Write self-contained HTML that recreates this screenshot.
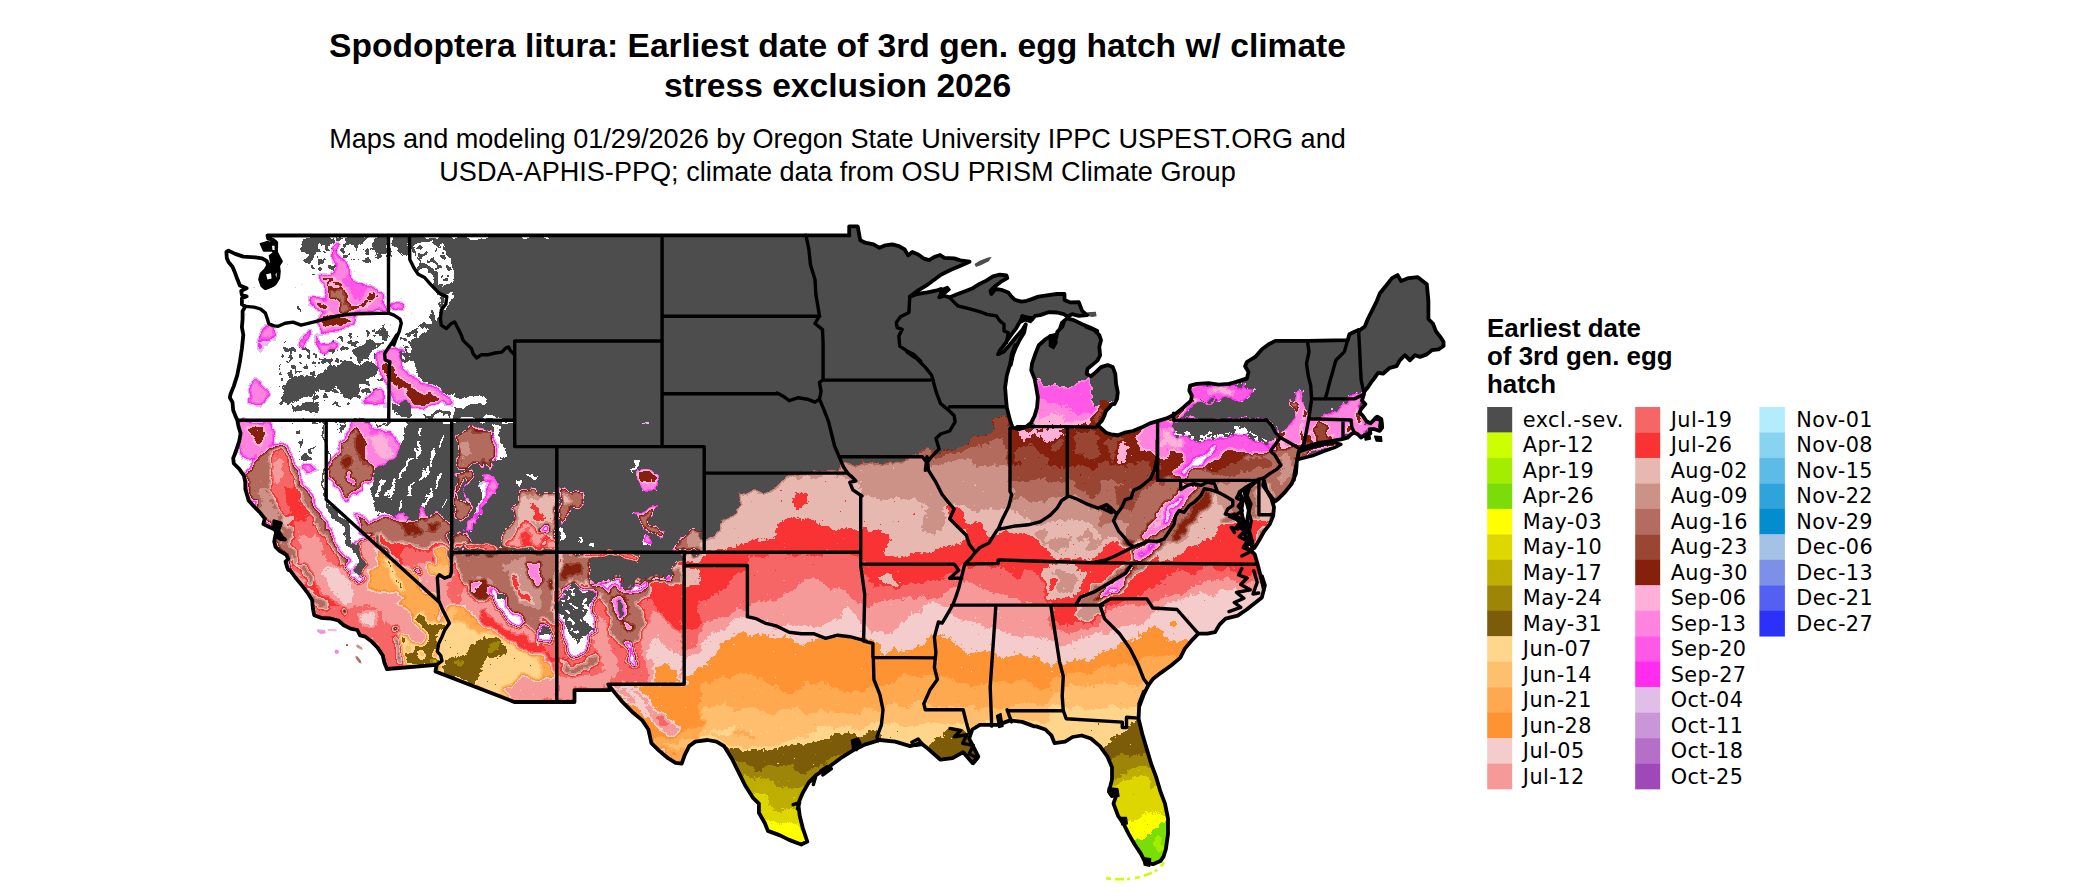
<!DOCTYPE html>
<html lang="en"><head><meta charset="utf-8">
<title>Spodoptera litura: Earliest date of 3rd gen. egg hatch w/ climate stress exclusion 2026</title>
<style>
html,body{margin:0;padding:0;background:#fff;}
body{width:2100px;height:892px;overflow:hidden;position:relative;font-family:"Liberation Sans",sans-serif;}
svg{position:absolute;left:0;top:0;display:block;}
.title{font:bold 33.58px "Liberation Sans",sans-serif;fill:#000;text-anchor:middle;}
.sub{font:27.1px "Liberation Sans",sans-serif;fill:#000;text-anchor:middle;}
.lt{font:bold 25.9px "Liberation Sans",sans-serif;fill:#000;}
.lab{font:20.8px "DejaVu Sans","Liberation Sans",sans-serif;fill:#000;letter-spacing:0.45px;}
</style></head>
<body>
<svg width="2100" height="892" viewBox="0 0 2100 892">
<rect width="2100" height="892" fill="#fff"/>
<text class="title" x="837.5" y="56.6">Spodoptera litura: Earliest date of 3rd gen. egg hatch w/ climate</text>
<text class="title" x="837.5" y="96.8">stress exclusion 2026</text>
<text class="sub" x="837.5" y="148.2">Maps and modeling 01/29/2026 by Oregon State University IPPC USPEST.ORG and</text>
<text class="sub" x="837.5" y="180.7">USDA-APHIS-PPQ; climate data from OSU PRISM Climate Group</text>
<defs><clipPath id="us"><path d="M267.5,235.5 L849.5,235.4 L849.2,235.5 L849.2,226.4 L857.7,226.4 L860.2,240.2 L865.2,242.7 L873.6,244.4 L879.5,247.8 L885.4,245.3 L892.1,244.4 L898.9,246.1 L904.7,249.5 L908.1,255.4 L912.3,252.0 L918.2,254.5 L924.1,258.7 L929.1,260.1 L934.2,257.0 L940.1,255.0 L944.3,257.9 L954.3,258.4 L960.2,260.4 L969.5,261.7 L961.1,265.4 L951.0,269.7 L940.9,274.7 L934.2,279.7 L927.4,284.8 L919.0,289.8 L909.8,296.6 L917.4,294.0 L927.4,292.4 L935.9,290.7 L940.9,289.0 L941.2,293.2 L939.2,297.4 L944.3,295.7 L949.3,297.4 L957.7,294.0 L964.4,291.5 L972.8,288.2 L979.6,283.9 L986.3,280.6 L993.0,276.4 L999.8,274.7 L1006.5,275.5 L1007.3,278.1 L1001.4,281.4 L994.7,286.5 L990.5,290.7 L991.3,294.0 L995.5,289.0 L1001.4,289.8 L1008.2,292.4 L1011.5,296.6 L1014.9,299.9 L1021.6,301.6 L1026.7,300.8 L1031.7,299.1 L1038.4,296.6 L1046.8,295.4 L1056.9,294.0 L1064.5,294.0 L1064.5,299.9 L1070.4,302.4 L1078.8,302.1 L1080.5,306.6 L1082.2,310.9 L1087.2,315.1 L1078.8,315.9 L1072.1,314.2 L1067.9,316.7 L1063.7,314.2 L1056.9,312.5 L1048.5,312.2 L1040.1,315.1 L1035.1,315.9 L1031.7,320.1 L1026.7,317.6 L1022.5,315.9 L1020.8,320.1 L1016.6,327.7 L1011.5,334.4 L1007.3,340.3 L1004.0,345.3 L999.8,350.4 L998.1,354.2 L1004.0,351.5 L1009.8,344.8 L1016.6,336.4 L1022.5,329.7 L1025.8,324.3 L1024.1,332.7 L1019.9,339.4 L1015.7,347.8 L1012.4,356.3 L1010.7,365.0 L1015.2,345.2 L1011.9,353.6 L1010.2,363.7 L1006.8,375.5 L1005.1,387.3 L1006.0,399.0 L1006.8,407.4 L1008.5,414.2 L1010.2,420.9 L1012.7,427.6 L1019.4,429.3 L1026.2,426.8 L1031.2,422.6 L1034.6,415.9 L1037.1,407.4 L1037.9,397.4 L1036.2,387.3 L1034.6,378.9 L1031.2,370.4 L1032.0,363.7 L1035.4,353.6 L1038.8,345.2 L1045.5,339.3 L1050.5,336.0 L1053.9,341.9 L1056.4,336.8 L1057.3,331.8 L1062.3,326.7 L1064.0,321.7 L1060.3,327.7 L1062.0,322.6 L1067.0,318.4 L1073.7,320.1 L1082.2,324.3 L1090.6,327.7 L1097.3,331.0 L1085.9,326.7 L1094.3,330.1 L1099.3,335.1 L1101.0,340.2 L1099.3,346.9 L1100.1,355.3 L1097.6,360.4 L1092.6,364.6 L1087.5,368.8 L1086.7,373.8 L1090.9,376.3 L1095.9,372.1 L1101.0,367.1 L1107.7,365.1 L1112.8,367.1 L1115.3,373.8 L1116.1,383.9 L1117.8,392.3 L1117.0,399.0 L1114.4,404.1 L1111.9,404.1 L1109.4,407.4 L1106.0,410.8 L1104.3,415.9 L1101.8,420.9 L1097.6,425.1 L1106.0,432.7 L1111.1,434.3 L1117.8,435.2 L1124.5,432.7 L1132.9,431.0 L1141.3,427.6 L1149.8,423.4 L1158.2,420.9 L1166.6,418.4 L1175.0,414.2 L1183.4,407.4 L1191.0,400.7 L1191.8,395.7 L1189.3,390.6 L1190.1,385.6 L1196.8,383.9 L1208.6,383.1 L1218.7,384.7 L1228.8,383.9 L1238.9,381.4 L1245.6,378.9 L1230.0,383.8 L1238.4,381.3 L1246.8,378.8 L1248.5,372.0 L1245.1,366.2 L1246.8,362.0 L1255.2,356.9 L1262.0,349.3 L1268.7,344.3 L1275.4,340.9 L1307.4,340.9 L1347.7,340.1 L1349.4,334.2 L1354.4,331.7 L1358.6,330.0 L1358.7,331.1 L1364.8,326.5 L1367.8,319.0 L1372.4,309.9 L1376.9,300.8 L1379.9,293.2 L1386.0,285.7 L1392.0,278.1 L1397.5,275.1 L1401.1,281.1 L1408.7,278.1 L1417.8,277.2 L1426.8,284.2 L1428.4,300.8 L1428.4,319.0 L1432.9,323.5 L1435.9,331.1 L1440.5,337.1 L1443.5,341.7 L1443.6,346.0 L1438.5,349.3 L1431.8,350.2 L1426.7,354.4 L1420.0,356.9 L1415.0,355.2 L1409.9,360.3 L1404.9,355.2 L1399.8,360.3 L1396.5,366.2 L1389.8,367.8 L1383.0,373.7 L1378.0,372.9 L1374.6,377.9 L1371.3,382.1 L1367.9,387.2 L1364.5,391.4 L1363.7,394.7 L1362.0,400.6 L1365.4,404.0 L1361.2,409.0 L1359.5,412.4 L1362.8,415.8 L1366.2,420.8 L1370.4,423.3 L1374.6,419.1 L1377.1,416.6 L1381.3,419.1 L1382.2,427.5 L1379.7,430.9 L1374.6,429.2 L1369.6,429.2 L1370.4,433.4 L1364.5,435.1 L1361.2,437.6 L1357.8,434.3 L1354.4,432.6 L1351.1,434.3 L1347.7,437.6 L1341.0,439.3 L1330.9,441.0 L1320.8,442.7 L1310.7,445.2 L1302.3,447.7 L1298.9,451.1 L1297.3,459.5 L1296.4,464.5 L1294.7,472.9 L1293.9,480.0 L1296.7,463.5 L1295.9,473.6 L1291.7,483.7 L1285.0,492.1 L1278.3,498.9 L1274.9,501.4 L1271.5,497.2 L1266.5,490.4 L1263.1,485.4 L1264.0,480.4 L1266.5,490.4 L1271.5,498.9 L1274.0,507.3 L1273.2,515.7 L1269.8,524.1 L1264.0,531.6 L1259.8,539.2 L1254.7,547.6 L1252.2,549.3 L1251.3,540.9 L1248.0,530.8 L1247.1,520.7 L1248.8,510.6 L1246.3,500.5 L1244.6,492.1 L1249.7,487.1 L1256.4,481.2 L1246.3,487.1 L1239.6,492.1 L1242.9,500.5 L1241.3,510.6 L1242.9,519.0 L1246.3,530.8 L1244.6,534.2 L1248.0,540.9 L1246.3,547.6 L1252.2,551.8 L1254.7,554.3 L1257.2,562.8 L1259.8,572.8 L1262.3,582.9 L1264.0,590.0 L1261.9,576.2 L1264.9,585.3 L1261.9,597.4 L1246.7,609.5 L1237.7,615.6 L1225.6,618.6 L1219.5,624.6 L1215.0,632.2 L1207.4,633.7 L1198.3,633.7 L1192.3,639.8 L1184.7,648.9 L1180.2,657.9 L1171.1,665.5 L1160.5,673.1 L1152.9,679.1 L1148.4,685.2 L1143.8,694.3 L1139.3,706.4 L1143.8,691.6 L1139.2,703.7 L1138.6,718.9 L1142.3,734.0 L1146.8,749.1 L1151.3,764.3 L1155.9,776.4 L1160.4,791.5 L1165.0,803.6 L1168.0,818.7 L1168.0,833.9 L1165.9,849.0 L1163.5,856.6 L1160.4,861.1 L1152.9,864.2 L1145.3,862.6 L1140.8,853.6 L1134.7,844.5 L1128.6,833.9 L1124.1,824.8 L1118.0,815.7 L1113.5,803.6 L1116.5,794.5 L1109.0,791.5 L1112.0,779.4 L1112.0,767.3 L1107.5,756.7 L1099.9,746.1 L1090.8,738.5 L1081.7,735.5 L1072.6,737.0 L1065.1,741.6 L1054.5,743.1 L1051.5,735.5 L1045.4,729.5 L1036.3,726.4 L1034.3,726.4 L1022.2,721.9 L1010.1,720.4 L998.0,724.9 L979.8,724.9 L972.3,729.5 L969.2,738.5 L973.8,747.6 L978.3,756.7 L972.3,762.8 L963.2,752.2 L952.6,758.2 L940.5,759.7 L928.4,749.1 L920.8,743.1 L910.2,746.1 L895.1,741.6 L879.9,740.0 L864.8,744.6 L852.7,750.6 L840.6,758.2 L828.5,767.3 L816.4,774.9 L808.8,782.4 L802.7,793.0 L798.2,803.6 L799.7,815.7 L802.7,827.8 L807.3,841.5 L801.2,844.5 L789.1,839.9 L780.0,835.4 L767.9,830.9 L764.9,823.3 L758.9,812.7 L758.9,803.6 L752.8,797.6 L745.2,785.5 L737.7,770.3 L731.6,758.2 L724.0,746.1 L716.5,741.6 L707.4,740.0 L695.3,741.6 L689.2,746.1 L684.7,755.2 L681.7,763.7 L675.6,762.8 L668.0,758.2 L659.0,750.6 L651.4,743.1 L648.4,729.5 L642.3,720.4 L633.2,712.8 L622.6,702.2 L615.1,693.1 L609.0,685.6 L609.9,690.1 L574.5,690.1 L574.5,702.0 L514.3,702.0 L435.5,671.4 L436.6,664.9 L386.9,669.0 L384.2,662.2 L382.8,655.5 L377.4,647.4 L370.7,640.7 L365.3,636.7 L360.0,635.3 L357.3,630.0 L350.5,628.6 L343.8,625.2 L338.4,620.5 L330.4,618.5 L320.9,617.8 L314.2,615.2 L312.9,608.4 L312.2,600.4 L308.2,593.6 L302.1,585.6 L295.4,577.5 L290.0,570.1 L288.3,570.0 L287.0,567.0 L285.6,561.7 L288.3,559.0 L286.3,554.9 L279.6,550.9 L275.5,546.9 L274.2,541.5 L275.5,534.8 L279.6,538.8 L285.0,539.5 L282.3,537.4 L278.2,530.7 L280.9,523.3 L274.2,521.3 L274.2,529.4 L268.8,526.7 L263.4,524.0 L264.8,518.6 L259.4,511.9 L254.0,506.5 L248.6,500.4 L247.3,495.7 L245.3,489.0 L245.3,482.3 L243.9,475.6 L239.2,468.8 L233.8,463.5 L233.2,458.1 L236.5,450.0 L234.5,455.0 L236.5,449.3 L239.2,441.3 L240.6,433.2 L238.5,426.5 L237.2,419.8 L235.9,417.1 L233.2,410.3 L232.5,402.3 L229.8,397.6 L230.5,394.2 L233.8,386.1 L237.2,375.4 L239.9,361.9 L241.9,348.5 L243.3,335.0 L241.9,327.2 L242.6,319.2 L242.6,311.1 L245.3,306.4 L241.9,304.4 L241.9,298.3 L246.6,296.3 L241.9,295.0 L241.2,290.9 L246.6,288.2 L239.9,285.5 L237.2,278.8 L234.5,271.4 L232.5,266.7 L228.5,262.0 L226.8,258.0 L226.4,251.9 L228.5,250.6 L235.2,253.9 L243.3,256.6 L255.4,257.3 L262.1,258.4 L266.8,261.1 L268.1,265.4 L265.4,270.1 L261.4,274.1 L260.1,279.5 L262.1,285.5 L265.4,288.2 L269.5,286.6 L274.9,283.5 L278.2,278.1 L278.9,271.4 L278.0,265.4 L280.9,261.3 L277.6,255.3 L274.2,251.2 L276.2,247.2 L276.2,242.5 L272.8,239.8 L268.1,238.5Z M1298.9,451.9 L1310.7,447.7 L1324.2,444.3 L1334.3,442.7 L1341.0,444.3 L1334.3,447.7 L1324.2,451.1 L1314.1,455.3 L1304.0,457.8 L1297.3,459.5Z"/></clipPath>
<filter id="fld" filterUnits="userSpaceOnUse" x="180" y="180" width="1340" height="712" color-interpolation-filters="sRGB"><feTurbulence type="fractalNoise" baseFrequency="0.06" numOctaves="4" seed="7" result="n1"/><feDisplacementMap in="SourceGraphic" in2="n1" scale="16" xChannelSelector="R" yChannelSelector="G" result="d"/><feGaussianBlur in="d" stdDeviation="1.8" result="b"/><feTurbulence type="fractalNoise" baseFrequency="0.3" numOctaves="2" seed="11" result="n2"/><feColorMatrix in="n2" type="matrix" values="1 0 0 0 0  1 0 0 0 0  1 0 0 0 0  0 0 0 0 1" result="n2g"/><feComposite in="b" in2="n2g" operator="arithmetic" k1="0" k2="1" k3="0.055" k4="-0.0275" result="f"/><feComponentTransfer in="f"><feFuncR type="discrete" tableValues="1.0000 0.8824 1.0000 1.0000 1.0000 1.0000 0.5216 0.6000 0.7020 0.8000 0.9020 0.9765 0.9686 0.9608 0.9569 0.9961 0.9961 0.9961 0.9961 0.4863 0.6157 0.7451 0.8745 1.0000 0.4784 0.6392 0.8000"/><feFuncG type="discrete" tableValues="1.0000 0.7451 0.1725 0.3451 0.5176 0.6902 0.1255 0.2745 0.4235 0.5725 0.7216 0.2000 0.4000 0.6000 0.8000 0.5765 0.6627 0.7490 0.8392 0.3608 0.5216 0.6824 0.8431 1.0000 0.8667 0.9333 1.0000"/><feFuncB type="discrete" tableValues="1.0000 0.9059 0.9412 0.9098 0.8784 0.8471 0.0471 0.2039 0.3725 0.5333 0.6863 0.2000 0.4000 0.6000 0.8000 0.2000 0.3176 0.4314 0.5490 0.0392 0.0314 0.0000 0.0000 0.0000 0.0392 0.0000 0.0000"/><feFuncA type="linear" slope="0" intercept="1"/></feComponentTransfer></filter>
<filter id="rough" filterUnits="userSpaceOnUse" x="180" y="180" width="1340" height="712" color-interpolation-filters="sRGB"><feTurbulence type="fractalNoise" baseFrequency="0.06" numOctaves="4" seed="7" result="n1"/><feDisplacementMap in="SourceGraphic" in2="n1" scale="16" xChannelSelector="R" yChannelSelector="G" result="d"/><feGaussianBlur in="d" stdDeviation="0.6" result="b"/><feTurbulence type="fractalNoise" baseFrequency="0.17" numOctaves="2" seed="23" result="n3"/><feColorMatrix in="n3" type="matrix" values="1 0 0 0 0  1 0 0 0 0  1 0 0 0 0  0 0 0 0 1" result="n3g"/><feComposite in="b" in2="n3g" operator="arithmetic" k1="0" k2="1" k3="1" k4="-0.5" result="bn"/><feComponentTransfer in="bn"><feFuncR type="discrete" tableValues="0 1"/><feFuncG type="discrete" tableValues="0 1"/><feFuncB type="discrete" tableValues="0 1"/></feComponentTransfer></filter>
</defs>
<g clip-path="url(#us)">
<g filter="url(#fld)"><rect x="150" y="150" width="1400" height="800" fill="#050505"/>
<clipPath id="tc0"><rect x="700" y="210" width="500" height="270"/></clipPath>
<g clip-path="url(#tc0)">
<rect x="700" y="210" width="500" height="270" fill="#3d3d3d"/>
<path fill="#474747" d="M775.7,482.4 L784.8,479.4 L799.9,476.4 L821.1,473.3 L839.2,471.8 L845.3,461.2 L863.5,461.2 L881.6,462.7 L899.8,461.2 L911.9,456.7 L921.0,452.2 L930.0,449.1 L939.1,452.2 L951.2,449.1 L966.4,440.0 L984.5,435.5 L996.6,421.9 L1002.7,412.8 L1011.8,418.9 L1011.8,425.5 L1160.1,425.5 L1160.1,421.9 L1175.2,415.8 L1200.0,403.7 L1200.0,482.4Z"/>
<path fill="#505050" d="M775.7,482.4 L784.8,479.4 L799.9,476.4 L821.1,473.3 L839.2,471.8 L845.3,461.2 L863.5,461.2 L881.6,462.7 L899.8,461.2 L911.9,456.7 L921.0,452.2 L930.0,449.1 L939.1,456.7 L951.2,455.2 L966.4,449.1 L984.5,446.1 L999.7,440.0 L1010.3,446.1 L1010.3,482.4Z"/>
<path fill="#5a5a5a" d="M775.7,483.6 L784.8,480.6 L799.9,477.6 L821.1,474.6 L839.2,473.0 L845.3,462.4 L863.5,462.4 L881.6,464.0 L899.8,462.4 L911.9,457.9 L924.0,461.2 L933.1,467.3 L942.2,464.3 L957.3,464.3 L972.4,461.2 L987.6,467.3 L1002.7,464.3 L1010.3,467.3 L1010.3,482.4Z"/>
<path fill="#636363" d="M781.7,482.4 L799.9,479.4 L821.1,478.2 L842.3,477.0 L857.4,482.4Z"/>
<path fill="#3d3d3d" d="M1010.3,425.5 L1160.1,425.5 L1160.1,482.4 L1010.3,482.4Z"/>
<path fill="#474747" d="M1014.8,452.2 L1033.0,446.1 L1048.1,458.2 L1039.0,473.3 L1020.9,470.3Z M1072.3,434.0 L1093.5,431.0 L1105.6,446.1 L1090.5,458.2 L1075.3,452.2Z M1102.6,461.2 L1123.8,467.3 L1117.7,480.0 L1099.6,480.0Z M1129.8,434.0 L1145.0,440.0 L1138.9,461.2 L1129.8,452.2Z M1048.1,434.0 L1063.2,440.0 L1060.2,452.2 L1051.1,449.1Z M1010.3,465.8 L1033.0,462.7 L1063.2,467.3 L1093.5,464.3 L1123.8,467.3 L1160.1,461.2 L1160.1,482.4 L1010.3,482.4Z"/>
<path fill="#343434" d="M1017.8,431.0 L1063.2,427.9 L1064.7,435.5 L1054.1,443.1 L1045.1,440.0 L1036.0,434.0 L1026.9,440.0 L1019.3,437.0Z M1117.7,449.1 L1126.8,443.1 L1131.3,452.2 L1123.8,464.3 L1116.2,461.2Z"/>
<path fill="#212121" d="M1135.9,431.0 L1157.1,421.9 L1157.1,467.3 L1148.0,452.2 L1138.9,443.1Z"/>
<path fill="#2a2a2a" d="M1160.1,421.9 L1175.2,415.8 L1200.0,427.9 L1200.0,482.4 L1160.1,482.4Z"/>
<path fill="#212121" d="M1034.5,385.6 L1039.0,379.5 L1051.1,385.6 L1075.3,387.1 L1081.4,378.0 L1090.5,375.9 L1093.5,391.6 L1087.4,400.7 L1090.5,409.8 L1102.6,403.7 L1116.2,397.7 L1117.7,406.7 L1105.6,418.9 L1099.6,425.5 L1033.0,425.5Z"/>
<path fill="#2a2a2a" d="M1033.0,425.5 L1037.5,400.7 L1054.1,403.7 L1072.3,409.8 L1087.4,415.8 L1099.6,425.5Z"/>
<path fill="#343434" d="M1033.0,425.5 L1039.0,412.8 L1057.2,415.8 L1078.4,420.4 L1093.5,422.5 L1099.6,425.5Z"/>
<path fill="#474747" d="M1090.5,415.8 L1099.6,406.7 L1108.6,403.7 L1111.7,409.8 L1102.6,421.9 L1096.5,425.5 L1090.5,423.4Z"/>
<path fill="#212121" d="M1187.3,391.6 L1200.0,382.5 L1200.0,415.8 L1175.2,418.9 L1172.2,415.8 L1184.3,406.7Z"/>
<path fill="#3d3d3d" d="M1175.2,419.5 L1200.0,415.8 L1200.0,429.5 L1184.3,426.4Z"/>
</g>
<clipPath id="tc1"><rect x="1200" y="210" width="280" height="270"/></clipPath>
<g clip-path="url(#tc1)">
<rect x="1200" y="210" width="280" height="270" fill="#050505"/>
<path fill="#2a2a2a" d="M1200.0,434.0 L1218.2,440.0 L1230.3,435.5 L1242.4,434.0 L1254.5,440.0 L1263.6,443.1 L1275.7,435.5 L1280.2,443.1 L1272.6,452.2 L1272.6,482.4 L1200.0,482.4Z"/>
<path fill="#212121" d="M1200.0,418.9 L1266.6,418.9 L1268.1,422.5 L1245.4,426.4 L1224.2,424.9 L1200.0,422.5Z"/>
<path fill="#3d3d3d" d="M1200.0,452.2 L1215.1,449.1 L1230.3,452.2 L1245.4,446.1 L1260.5,452.2 L1272.6,461.2 L1269.6,482.4 L1200.0,482.4Z"/>
<path fill="#505050" d="M1218.2,470.3 L1245.4,464.3 L1269.6,470.3 L1269.6,482.4 L1218.2,482.4Z M1272.6,452.2 L1281.7,449.1 L1293.8,452.2 L1296.9,482.4 L1269.6,482.4Z"/>
<path fill="#343434" d="M1275.7,435.5 L1287.8,443.1 L1293.8,449.1 L1281.7,450.6 L1272.6,452.2 L1280.2,443.1Z"/>
<path fill="#212121" d="M1200.0,384.0 L1218.2,385.6 L1239.3,382.5 L1257.5,390.1 L1245.4,397.7 L1236.3,409.8 L1227.2,403.7 L1212.1,397.7 L1200.0,399.2Z"/>
<path fill="#343434" d="M1203.0,388.6 L1218.2,390.1 L1236.3,388.6 L1230.3,396.2 L1212.1,394.6Z"/>
<path fill="#2a2a2a" d="M1293.8,394.6 L1302.9,393.1 L1304.4,406.7 L1301.4,421.9 L1293.8,434.0 L1287.8,443.1 L1278.7,435.5 L1286.3,421.9 L1295.3,409.8Z"/>
<path fill="#474747" d="M1298.4,400.7 L1301.4,400.7 L1298.4,421.9 L1290.8,437.0 L1287.8,435.5 L1295.3,421.9Z"/>
<path fill="#2a2a2a" d="M1305.9,421.9 L1321.1,418.9 L1324.1,409.8 L1336.2,412.8 L1348.3,403.7 L1348.3,396.2 L1360.4,393.1 L1365.0,400.7 L1360.4,406.7 L1365.0,418.9 L1369.5,427.9 L1363.5,434.0 L1351.3,435.5 L1342.3,440.0 L1321.1,446.1 L1304.4,449.1Z"/>
<path fill="#474747" d="M1318.0,421.9 L1327.1,421.9 L1328.6,434.0 L1334.7,435.5 L1330.2,443.1 L1309.0,447.6 L1313.5,437.0Z M1345.3,421.9 L1349.8,421.9 L1349.8,434.0 L1345.3,435.5Z M1355.9,409.8 L1360.4,409.8 L1360.4,418.9 L1355.9,417.3Z"/>
<path fill="#3d3d3d" d="M1299.9,449.1 L1342.3,438.5 L1339.2,444.6 L1302.9,455.2Z"/>
<path fill="#2a2a2a" d="M1365.0,421.9 L1384.6,417.3 L1386.2,437.0 L1369.5,438.5Z"/>
</g>
<clipPath id="tc2"><rect x="700" y="210" width="500" height="270"/></clipPath>
<g clip-path="url(#tc2)">
<rect x="700" y="210" width="500" height="270" fill="#3d3d3d"/>
<path fill="#474747" d="M775.7,482.4 L784.8,479.4 L799.9,476.4 L821.1,473.3 L839.2,471.8 L845.3,461.2 L863.5,461.2 L881.6,462.7 L899.8,461.2 L911.9,456.7 L921.0,452.2 L930.0,449.1 L939.1,452.2 L951.2,449.1 L966.4,440.0 L984.5,435.5 L996.6,421.9 L1002.7,412.8 L1011.8,418.9 L1011.8,425.5 L1160.1,425.5 L1160.1,421.9 L1175.2,415.8 L1200.0,403.7 L1200.0,482.4Z"/>
<path fill="#505050" d="M775.7,482.4 L784.8,479.4 L799.9,476.4 L821.1,473.3 L839.2,471.8 L845.3,461.2 L863.5,461.2 L881.6,462.7 L899.8,461.2 L911.9,456.7 L921.0,452.2 L930.0,449.1 L939.1,456.7 L951.2,455.2 L966.4,449.1 L984.5,446.1 L999.7,440.0 L1010.3,446.1 L1010.3,482.4Z"/>
<path fill="#5a5a5a" d="M775.7,483.6 L784.8,480.6 L799.9,477.6 L821.1,474.6 L839.2,473.0 L845.3,462.4 L863.5,462.4 L881.6,464.0 L899.8,462.4 L911.9,457.9 L924.0,461.2 L933.1,467.3 L942.2,464.3 L957.3,464.3 L972.4,461.2 L987.6,467.3 L1002.7,464.3 L1010.3,467.3 L1010.3,482.4Z"/>
<path fill="#636363" d="M781.7,482.4 L799.9,479.4 L821.1,478.2 L842.3,477.0 L857.4,482.4Z"/>
<path fill="#3d3d3d" d="M1010.3,425.5 L1160.1,425.5 L1160.1,482.4 L1010.3,482.4Z"/>
<path fill="#474747" d="M1014.8,452.2 L1033.0,446.1 L1048.1,458.2 L1039.0,473.3 L1020.9,470.3Z M1072.3,434.0 L1093.5,431.0 L1105.6,446.1 L1090.5,458.2 L1075.3,452.2Z M1102.6,461.2 L1123.8,467.3 L1117.7,480.0 L1099.6,480.0Z M1129.8,434.0 L1145.0,440.0 L1138.9,461.2 L1129.8,452.2Z M1048.1,434.0 L1063.2,440.0 L1060.2,452.2 L1051.1,449.1Z M1010.3,465.8 L1033.0,462.7 L1063.2,467.3 L1093.5,464.3 L1123.8,467.3 L1160.1,461.2 L1160.1,482.4 L1010.3,482.4Z"/>
<path fill="#343434" d="M1017.8,431.0 L1063.2,427.9 L1064.7,435.5 L1054.1,443.1 L1045.1,440.0 L1036.0,434.0 L1026.9,440.0 L1019.3,437.0Z M1117.7,449.1 L1126.8,443.1 L1131.3,452.2 L1123.8,464.3 L1116.2,461.2Z"/>
<path fill="#212121" d="M1135.9,431.0 L1157.1,421.9 L1157.1,467.3 L1148.0,452.2 L1138.9,443.1Z"/>
<path fill="#2a2a2a" d="M1160.1,421.9 L1175.2,415.8 L1200.0,427.9 L1200.0,482.4 L1160.1,482.4Z"/>
<path fill="#212121" d="M1034.5,385.6 L1039.0,379.5 L1051.1,385.6 L1075.3,387.1 L1081.4,378.0 L1090.5,375.9 L1093.5,391.6 L1087.4,400.7 L1090.5,409.8 L1102.6,403.7 L1116.2,397.7 L1117.7,406.7 L1105.6,418.9 L1099.6,425.5 L1033.0,425.5Z"/>
<path fill="#2a2a2a" d="M1033.0,425.5 L1037.5,400.7 L1054.1,403.7 L1072.3,409.8 L1087.4,415.8 L1099.6,425.5Z"/>
<path fill="#343434" d="M1033.0,425.5 L1039.0,412.8 L1057.2,415.8 L1078.4,420.4 L1093.5,422.5 L1099.6,425.5Z"/>
<path fill="#474747" d="M1090.5,415.8 L1099.6,406.7 L1108.6,403.7 L1111.7,409.8 L1102.6,421.9 L1096.5,425.5 L1090.5,423.4Z"/>
<path fill="#212121" d="M1187.3,391.6 L1200.0,382.5 L1200.0,415.8 L1175.2,418.9 L1172.2,415.8 L1184.3,406.7Z"/>
<path fill="#3d3d3d" d="M1175.2,419.5 L1200.0,415.8 L1200.0,429.5 L1184.3,426.4Z"/>
</g>
<clipPath id="tc3"><rect x="1200" y="210" width="280" height="270"/></clipPath>
<g clip-path="url(#tc3)">
<rect x="1200" y="210" width="280" height="270" fill="#050505"/>
<path fill="#2a2a2a" d="M1200.0,434.0 L1218.2,440.0 L1230.3,435.5 L1242.4,434.0 L1254.5,440.0 L1263.6,443.1 L1275.7,435.5 L1280.2,443.1 L1272.6,452.2 L1272.6,482.4 L1200.0,482.4Z"/>
<path fill="#212121" d="M1200.0,418.9 L1266.6,418.9 L1268.1,422.5 L1245.4,426.4 L1224.2,424.9 L1200.0,422.5Z"/>
<path fill="#3d3d3d" d="M1200.0,452.2 L1215.1,449.1 L1230.3,452.2 L1245.4,446.1 L1260.5,452.2 L1272.6,461.2 L1269.6,482.4 L1200.0,482.4Z"/>
<path fill="#505050" d="M1218.2,470.3 L1245.4,464.3 L1269.6,470.3 L1269.6,482.4 L1218.2,482.4Z M1272.6,452.2 L1281.7,449.1 L1293.8,452.2 L1296.9,482.4 L1269.6,482.4Z"/>
<path fill="#343434" d="M1275.7,435.5 L1287.8,443.1 L1293.8,449.1 L1281.7,450.6 L1272.6,452.2 L1280.2,443.1Z"/>
<path fill="#212121" d="M1200.0,384.0 L1218.2,385.6 L1239.3,382.5 L1257.5,390.1 L1245.4,397.7 L1236.3,409.8 L1227.2,403.7 L1212.1,397.7 L1200.0,399.2Z"/>
<path fill="#343434" d="M1203.0,388.6 L1218.2,390.1 L1236.3,388.6 L1230.3,396.2 L1212.1,394.6Z"/>
<path fill="#2a2a2a" d="M1293.8,394.6 L1302.9,393.1 L1304.4,406.7 L1301.4,421.9 L1293.8,434.0 L1287.8,443.1 L1278.7,435.5 L1286.3,421.9 L1295.3,409.8Z"/>
<path fill="#474747" d="M1298.4,400.7 L1301.4,400.7 L1298.4,421.9 L1290.8,437.0 L1287.8,435.5 L1295.3,421.9Z"/>
<path fill="#2a2a2a" d="M1305.9,421.9 L1321.1,418.9 L1324.1,409.8 L1336.2,412.8 L1348.3,403.7 L1348.3,396.2 L1360.4,393.1 L1365.0,400.7 L1360.4,406.7 L1365.0,418.9 L1369.5,427.9 L1363.5,434.0 L1351.3,435.5 L1342.3,440.0 L1321.1,446.1 L1304.4,449.1Z"/>
<path fill="#474747" d="M1318.0,421.9 L1327.1,421.9 L1328.6,434.0 L1334.7,435.5 L1330.2,443.1 L1309.0,447.6 L1313.5,437.0Z M1345.3,421.9 L1349.8,421.9 L1349.8,434.0 L1345.3,435.5Z M1355.9,409.8 L1360.4,409.8 L1360.4,418.9 L1355.9,417.3Z"/>
<path fill="#3d3d3d" d="M1299.9,449.1 L1342.3,438.5 L1339.2,444.6 L1302.9,455.2Z"/>
<path fill="#2a2a2a" d="M1365.0,421.9 L1384.6,417.3 L1386.2,437.0 L1369.5,438.5Z"/>
</g>
<clipPath id="tc4"><rect x="700" y="480" width="500" height="270"/></clipPath>
<g clip-path="url(#tc4)">
<rect x="700" y="480" width="500" height="270" fill="#5a5a5a"/>
<path fill="#505050" d="M1008.7,480.0 L1011.8,498.2 L1033.0,504.2 L1051.1,498.2 L1069.3,495.1 L1093.5,507.2 L1111.7,513.3 L1123.8,528.4 L1135.9,540.5 L1154.0,537.5 L1172.2,525.4 L1200.0,516.3 L1200.0,480.0Z"/>
<path fill="#474747" d="M1069.3,480.0 L1075.3,489.1 L1093.5,495.1 L1117.7,492.1 L1138.9,486.1 L1154.0,480.0Z M1117.7,513.3 L1141.9,504.2 L1160.1,492.1 L1172.2,498.2 L1154.0,522.4 L1132.8,537.5 L1123.8,528.4Z"/>
<path fill="#636363" d="M700.0,545.1 L712.1,531.5 L718.2,525.4 L736.3,513.3 L739.3,493.6 L769.6,489.1 L778.7,480.0 L857.4,480.0 L863.5,495.1 L881.6,501.2 L896.7,496.6 L911.9,495.1 L924.0,507.2 L942.2,510.3 L951.2,504.2 L960.3,507.2 L969.4,510.3 L984.5,505.7 L999.7,508.8 L1011.8,504.2 L1020.9,511.8 L1039.0,522.4 L1057.2,516.3 L1078.4,522.4 L1093.5,528.4 L1108.6,540.5 L1123.8,543.6 L1135.9,549.6 L1123.8,558.7 L1200.0,558.7 L1200.0,750.0 L700.0,750.0Z"/>
<path fill="#5a5a5a" d="M924.0,510.3 L939.1,507.2 L945.2,525.4 L933.1,534.5 L921.0,525.4Z M1033.0,531.5 L1045.1,528.4 L1048.1,540.5 L1036.0,543.6Z M1078.4,534.5 L1090.5,531.5 L1090.5,543.6 L1081.4,545.1Z"/>
<path fill="#3d3d3d" d="M700.0,480.0 L775.7,480.0 L769.6,489.1 L739.3,492.1 L736.3,513.3 L718.2,525.4 L715.1,537.5 L700.0,540.5Z"/>
<path fill="#6d6d6d" d="M690.9,555.7 L700.0,555.7 L715.1,551.1 L739.3,546.6 L751.5,540.5 L772.6,537.5 L775.7,525.4 L790.8,519.3 L805.9,517.8 L821.1,522.4 L830.2,531.5 L842.3,525.4 L857.4,526.9 L865.0,525.4 L869.5,531.5 L881.6,528.4 L887.7,540.5 L881.6,552.6 L893.7,555.7 L911.9,552.6 L936.1,552.6 L948.2,546.6 L963.3,545.1 L969.4,534.5 L960.3,525.4 L951.2,516.3 L945.2,507.2 L951.2,504.2 L960.3,510.3 L966.4,522.4 L981.5,525.4 L990.6,537.5 L1002.7,531.5 L1020.9,534.5 L1039.0,540.5 L1048.1,552.6 L1063.2,557.2 L1081.4,560.2 L1123.8,559.3 L1154.0,561.7 L1200.0,552.6 L1209.1,552.6 L1209.1,759.1 L690.9,759.1Z M790.8,495.1 L805.9,493.6 L807.5,504.2 L799.9,510.3 L792.3,504.2Z"/>
<path fill="#767676" d="M690.9,601.1 L700.0,601.1 L718.2,595.0 L730.3,579.9 L745.4,570.8 L748.4,555.7 L775.7,554.2 L805.9,555.7 L836.2,554.2 L860.4,555.7 L865.0,567.8 L869.5,579.9 L881.6,585.9 L899.8,589.0 L917.9,582.9 L936.1,579.9 L951.2,576.9 L960.3,567.8 L972.4,564.8 L1002.7,566.3 L1017.8,579.9 L1033.0,570.8 L1048.1,582.9 L1045.1,595.0 L1057.2,601.1 L1075.3,604.1 L1087.4,613.2 L1102.6,607.1 L1117.7,601.1 L1132.8,595.0 L1154.0,582.9 L1172.2,576.9 L1200.0,570.8 L1209.1,570.8 L1209.1,759.1 L690.9,759.1Z"/>
<path fill="#636363" d="M878.6,576.9 L887.7,572.3 L893.7,579.9 L902.8,582.9 L896.7,587.5 L884.6,584.4Z"/>
<path fill="#808080" d="M690.9,622.3 L700.0,622.3 L715.1,619.2 L730.3,613.2 L748.4,607.1 L766.6,601.1 L784.8,595.0 L799.9,582.9 L821.1,576.9 L830.2,585.9 L845.3,595.0 L860.4,601.1 L869.5,607.1 L887.7,601.1 L905.8,598.0 L924.0,601.1 L942.2,595.0 L954.3,585.9 L966.4,579.9 L978.5,589.0 L996.6,592.0 L1014.8,598.0 L1033.0,604.1 L1051.1,607.1 L1063.2,616.2 L1081.4,622.3 L1099.6,613.2 L1117.7,607.1 L1135.9,604.1 L1154.0,598.0 L1172.2,592.0 L1200.0,582.9 L1209.1,582.9 L1209.1,759.1 L690.9,759.1Z"/>
<path fill="#898989" d="M690.9,637.4 L700.0,637.4 L718.2,631.3 L730.3,622.3 L745.4,616.2 L760.5,622.3 L778.7,625.3 L799.9,628.3 L821.1,622.3 L839.2,616.2 L851.3,610.2 L863.5,619.2 L872.5,634.4 L887.7,631.3 L905.8,625.3 L917.9,610.2 L936.1,601.1 L948.2,610.2 L960.3,619.2 L978.5,623.8 L996.6,629.8 L1014.8,634.4 L1033.0,637.4 L1051.1,640.4 L1069.3,641.9 L1087.4,634.4 L1105.6,625.3 L1123.8,622.3 L1141.9,616.2 L1160.1,610.2 L1178.3,613.2 L1200.0,607.1 L1209.1,607.1 L1209.1,759.1 L690.9,759.1Z"/>
<path fill="#929292" d="M690.9,667.7 L700.0,667.7 L712.1,658.6 L724.2,643.5 L742.4,634.4 L760.5,634.4 L778.7,637.4 L799.9,643.5 L821.1,640.4 L839.2,634.4 L857.4,637.4 L872.5,643.5 L881.6,652.5 L905.8,649.5 L924.0,643.5 L936.1,634.4 L951.2,640.4 L966.4,655.6 L984.5,652.5 L1002.7,658.6 L1020.9,652.5 L1039.0,658.6 L1057.2,667.7 L1075.3,658.6 L1093.5,652.5 L1111.7,652.5 L1129.8,649.5 L1148.0,643.5 L1166.1,637.4 L1184.3,631.3 L1200.0,625.3 L1209.1,625.3 L1209.1,759.1 L690.9,759.1Z"/>
<path fill="#9c9c9c" d="M690.9,685.8 L700.0,685.8 L718.2,679.8 L736.3,673.7 L754.5,676.7 L772.6,685.8 L790.8,688.9 L809.0,682.8 L827.1,685.8 L845.3,691.9 L863.5,688.9 L881.6,685.8 L899.8,676.7 L917.9,673.7 L936.1,673.7 L954.3,679.8 L972.4,685.8 L990.6,682.8 L1008.7,679.8 L1026.9,682.8 L1045.1,685.8 L1063.2,682.8 L1081.4,676.7 L1099.6,673.7 L1117.7,673.7 L1135.9,667.7 L1154.0,661.6 L1172.2,658.6 L1200.0,649.5 L1209.1,649.5 L1209.1,759.1 L690.9,759.1Z"/>
<path fill="#a5a5a5" d="M690.9,710.0 L700.0,710.0 L724.2,707.0 L748.4,710.0 L772.6,713.1 L796.9,713.1 L821.1,710.0 L845.3,713.1 L869.5,710.0 L893.7,704.0 L917.9,701.0 L942.2,704.0 L966.4,707.0 L990.6,707.0 L1014.8,704.0 L1039.0,707.0 L1063.2,704.0 L1087.4,701.0 L1111.7,697.9 L1135.9,691.9 L1154.0,688.9 L1172.2,682.8 L1200.0,676.7 L1209.1,676.7 L1209.1,759.1 L690.9,759.1Z"/>
<path fill="#afafaf" d="M690.9,731.2 L700.0,731.2 L730.3,728.2 L760.5,731.2 L790.8,734.3 L821.1,731.2 L851.3,728.2 L881.6,725.2 L911.9,725.2 L942.2,725.2 L972.4,722.2 L1002.7,722.2 L1033.0,719.1 L1063.2,719.1 L1093.5,719.1 L1123.8,719.1 L1135.9,716.1 L1141.9,710.0 L1200.0,704.0 L1209.1,704.0 L1209.1,759.1 L690.9,759.1Z"/>
<path fill="#b8b8b8" d="M700.0,752.4 L709.1,746.4 L730.3,747.9 L760.5,746.4 L790.8,747.9 L821.1,743.3 L830.2,737.3 L845.3,734.3 L857.4,740.3 L869.5,737.3 L881.6,737.3 L893.7,740.3 L911.9,737.3 L930.0,734.3 L948.2,728.2 L963.3,731.2 L972.4,752.4Z M1117.7,752.4 L1123.8,734.3 L1135.9,722.2 L1145.0,719.1 L1148.0,752.4Z"/>
<path fill="#636363" d="M1045.1,564.8 L1081.4,560.2 L1123.8,540.5 L1135.9,549.6 L1123.8,559.3 L1135.9,563.2 L1123.8,579.9 L1102.6,601.1 L1081.4,616.2 L1069.3,613.2 L1048.1,601.1 L1042.0,582.9Z"/>
<path fill="#5a5a5a" d="M1051.1,576.9 L1072.3,567.8 L1102.6,564.8 L1090.5,582.9 L1075.3,601.1 L1057.2,598.0Z"/>
<path fill="#505050" d="M1075.3,604.1 L1093.5,595.0 L1117.7,579.9 L1132.8,564.8 L1154.0,546.6 L1172.2,525.4 L1190.4,504.2 L1200.0,492.1 L1200.0,513.3 L1184.3,531.5 L1166.1,552.6 L1145.0,570.8 L1129.8,589.0 L1105.6,604.1 L1090.5,614.7 L1078.4,613.2Z"/>
<path fill="#2a2a2a" d="M1087.4,602.6 L1105.6,592.0 L1123.8,576.9 L1138.9,561.7 L1157.1,545.1 L1175.2,525.4 L1191.9,505.7 L1200.0,496.6 L1200.0,507.2 L1181.3,529.9 L1163.1,549.6 L1143.4,567.8 L1126.8,584.4 L1105.6,599.6 L1090.5,608.6Z"/>
<path fill="#050505" d="M1117.7,584.4 L1135.9,567.8 L1154.0,551.1 L1172.2,531.5 L1184.3,516.3 L1188.8,520.9 L1175.2,536.0 L1157.1,554.2 L1138.9,570.8 L1122.3,585.9Z"/>
</g>
<clipPath id="tc5"><rect x="1100" y="400" width="210" height="189"/></clipPath>
<g clip-path="url(#tc5)">
<rect x="1100" y="400" width="210" height="189" fill="#505050"/>
<path fill="#3d3d3d" d="M1100.0,400.0 L1159.3,400.0 L1159.3,480.5 L1150.9,484.8 L1142.4,491.1 L1131.8,499.6 L1121.2,505.9 L1112.7,510.2 L1100.0,505.9Z"/>
<path fill="#474747" d="M1106.4,442.4 L1119.1,438.1 L1131.8,450.9 L1125.4,463.6 L1110.6,461.4Z M1131.8,469.9 L1148.7,463.6 L1155.1,476.3 L1142.4,484.8 L1133.9,480.5Z M1100.0,461.4 L1121.2,465.7 L1142.4,463.6 L1155.5,469.9 L1150.9,484.8 L1131.8,499.6 L1112.7,510.2 L1100.0,505.9Z"/>
<path fill="#505050" d="M1100.0,480.5 L1121.2,483.7 L1138.1,486.9 L1131.8,499.6 L1112.7,510.2 L1100.0,505.9Z"/>
<path fill="#343434" d="M1112.7,459.3 L1118.0,447.7 L1125.4,442.4 L1129.7,450.9 L1125.4,461.4 L1118.0,465.7Z"/>
<path fill="#2a2a2a" d="M1138.1,431.8 L1148.7,425.4 L1159.3,421.2 L1159.3,459.3 L1153.0,453.0 L1144.5,446.6 L1139.2,440.3Z"/>
<path fill="#5a5a5a" d="M1100.0,531.4 L1117.0,518.7 L1127.5,527.1 L1121.2,544.1 L1108.5,552.6 L1100.0,548.3Z"/>
<path fill="#474747" d="M1112.7,489.0 L1129.7,484.8 L1142.4,495.3 L1131.8,510.2 L1119.1,505.9Z"/>
<path fill="#212121" d="M1159.3,412.7 L1174.2,421.2 L1172.0,431.8 L1189.0,438.1 L1201.7,440.3 L1218.7,438.1 L1237.7,431.8 L1248.3,431.8 L1256.8,440.3 L1267.4,446.6 L1275.9,440.3 L1275.9,450.9 L1265.3,455.1 L1248.3,453.0 L1231.4,448.7 L1218.7,455.1 L1205.9,463.6 L1193.2,472.0 L1184.8,480.5 L1172.0,480.5 L1178.4,467.8 L1184.8,459.3 L1180.5,450.9 L1169.9,448.7 L1160.4,455.1Z"/>
<path fill="#343434" d="M1163.6,425.4 L1172.0,433.9 L1184.8,440.3 L1182.6,448.7 L1169.9,446.6 L1161.4,450.9Z"/>
<path fill="#050505" d="M1174.2,420.1 L1265.3,420.1 L1273.7,425.4 L1275.9,438.1 L1267.4,444.5 L1256.8,438.1 L1248.3,429.7 L1237.7,429.7 L1218.7,436.0 L1201.7,438.1 L1189.0,436.0 L1176.3,431.8 L1172.0,425.4Z M1176.3,429.7 L1189.0,433.9 L1201.7,436.0 L1218.7,433.9 L1237.7,427.5 L1248.3,427.5 L1256.8,436.0 L1267.4,442.4 L1269.5,447.7 L1256.8,443.4 L1248.3,433.9 L1237.7,433.9 L1218.7,440.3 L1201.7,442.4 L1189.0,440.3 L1174.2,435.0Z M1174.2,417.0 L1189.0,404.2 L1218.7,400.0 L1290.7,400.0 L1294.9,419.1 L1280.1,433.9 L1275.9,427.5 L1267.4,419.1 L1174.2,419.1Z"/>
<path fill="#212121" d="M1174.2,415.9 L1189.0,404.2 L1201.7,402.1 L1197.5,408.5 L1184.8,414.8 L1178.4,420.1Z"/>
<path fill="#050505" d="M1182.6,476.3 L1191.1,465.7 L1201.7,455.1 L1212.3,446.6 L1215.5,449.8 L1205.9,458.3 L1195.3,469.9 L1186.9,478.4Z"/>
<path fill="#3d3d3d" d="M1160.4,455.1 L1169.9,449.8 L1180.5,451.9 L1183.7,460.4 L1177.3,468.9 L1171.0,480.5 L1160.4,480.5Z M1205.9,463.6 L1218.7,455.1 L1231.4,449.8 L1248.3,454.0 L1239.8,461.4 L1227.1,463.6 L1214.4,472.0 L1205.9,472.0Z"/>
<path fill="#474747" d="M1214.4,472.0 L1227.1,463.6 L1248.3,459.3 L1269.5,457.2 L1278.0,463.6 L1265.3,469.9 L1248.3,469.9 L1231.4,474.2Z"/>
<path fill="#5a5a5a" d="M1216.5,482.6 L1258.9,481.6 L1248.3,491.1 L1235.6,499.6 L1227.1,510.2 L1220.8,499.6 L1214.4,489.0Z"/>
<path fill="#2a2a2a" d="M1140.3,535.6 L1150.9,518.7 L1163.6,505.9 L1174.2,493.2 L1180.5,482.6 L1189.0,482.6 L1197.5,486.9 L1189.0,499.6 L1178.4,514.4 L1167.8,527.1 L1155.1,537.7 L1144.5,542.0Z"/>
<path fill="#343434" d="M1148.7,527.1 L1159.3,514.4 L1167.8,505.9 L1171.0,509.1 L1162.5,518.7 L1153.0,531.4Z"/>
<path fill="#050505" d="M1161.4,520.8 L1172.0,505.9 L1180.5,495.3 L1183.7,498.5 L1175.2,510.2 L1164.6,524.0Z"/>
<path fill="#3d3d3d" d="M1169.9,535.6 L1184.8,518.7 L1197.5,501.7 L1205.9,493.2 L1210.2,497.5 L1199.6,512.3 L1184.8,531.4 L1174.2,542.0Z"/>
<path fill="#636363" d="M1201.7,510.2 L1214.4,495.3 L1227.1,510.2 L1222.9,518.7 L1218.7,531.4 L1201.7,542.0 L1189.0,552.6 L1180.5,561.0 L1163.6,561.0 L1172.0,548.3 L1184.8,535.6 L1193.2,522.9Z"/>
<path fill="#6d6d6d" d="M1220.8,522.9 L1231.4,518.7 L1246.2,520.8 L1254.7,531.4 L1254.7,548.3 L1258.9,563.2 L1180.5,563.2 L1189.0,552.6 L1201.7,542.0 L1218.7,531.4Z"/>
<path fill="#636363" d="M1258.9,482.6 L1269.5,484.8 L1273.7,501.7 L1269.5,518.7 L1261.0,518.7 L1258.9,501.7Z"/>
<path fill="#6d6d6d" d="M1248.3,518.7 L1267.4,520.8 L1261.0,535.6 L1252.6,548.3Z"/>
<path fill="#5a5a5a" d="M1280.1,455.1 L1290.7,453.0 L1290.7,472.0 L1282.2,484.8 L1275.9,480.5 L1282.2,467.8Z"/>
<path fill="#343434" d="M1278.0,440.3 L1286.5,431.8 L1297.1,442.4 L1290.7,448.7 L1280.1,450.9Z"/>
<path fill="#2a2a2a" d="M1284.3,429.7 L1294.9,417.0 L1299.2,400.0 L1307.6,400.0 L1303.4,421.2 L1299.2,442.4 L1290.7,446.6Z"/>
<path fill="#050505" d="M1307.6,400.0 L1339.4,400.0 L1339.4,408.5 L1322.5,412.7 L1309.8,410.6Z"/>
<path fill="#2a2a2a" d="M1303.4,421.2 L1309.8,410.6 L1322.5,412.7 L1339.4,408.5 L1354.3,400.0 L1367.0,404.2 L1362.7,421.2 L1354.3,433.9 L1339.4,438.1 L1303.4,444.5Z"/>
<path fill="#474747" d="M1316.1,421.2 L1326.7,421.2 L1326.7,436.0 L1303.4,444.5 L1307.6,436.0 L1316.1,433.9Z M1294.9,455.1 L1339.4,442.4 L1341.5,445.6 L1297.1,458.3Z"/>
<path fill="#6d6d6d" d="M1136.0,564.2 L1265.3,564.2 L1265.3,590.7 L1121.2,590.7Z"/>
<path fill="#767676" d="M1129.7,590.7 L1142.4,582.2 L1163.6,575.9 L1184.8,569.5 L1201.7,571.6 L1218.7,575.9 L1237.7,578.0 L1252.6,582.2 L1261.0,590.7Z"/>
<path fill="#5a5a5a" d="M1100.0,564.2 L1136.0,564.2 L1125.4,575.9 L1112.7,584.3 L1100.0,590.7Z"/>
<path fill="#2a2a2a" d="M1121.2,569.5 L1136.0,563.2 L1140.3,567.4 L1125.4,578.0 L1112.7,586.5 L1106.4,584.3Z"/>
</g>
<clipPath id="tc6"><rect x="1050" y="540" width="350" height="189"/></clipPath>
<g clip-path="url(#tc6)">
<rect x="1050" y="540" width="350" height="189" fill="#6d6d6d"/>
<path fill="#636363" d="M1050.0,540.0 L1119.9,540.0 L1109.3,548.5 L1092.4,559.1 L1071.2,560.1 L1050.0,560.1Z"/>
<path fill="#5a5a5a" d="M1050.0,540.0 L1075.4,540.0 L1069.1,548.5 L1056.4,552.7 L1050.0,550.6Z M1088.1,540.0 L1105.1,540.0 L1098.7,548.5 L1088.1,550.6Z"/>
<path fill="#636363" d="M1050.0,567.5 L1062.7,563.3 L1077.5,567.5 L1092.4,571.8 L1081.8,582.4 L1071.2,593.0 L1058.5,601.4 L1050.0,601.4Z"/>
<path fill="#5a5a5a" d="M1054.2,573.9 L1067.0,569.7 L1077.5,573.9 L1069.1,586.6 L1058.5,593.0Z"/>
<path fill="#6d6d6d" d="M1050.0,582.4 L1058.5,578.1 L1062.7,582.4 L1054.2,590.9 L1050.0,590.9Z"/>
<path fill="#636363" d="M1168.7,540.0 L1198.3,540.0 L1187.7,548.5 L1177.1,559.1 L1155.9,561.2 L1160.2,552.7Z"/>
<path fill="#767676" d="M1043.6,620.5 L1050.0,620.5 L1062.7,624.8 L1075.4,622.6 L1092.4,620.5 L1105.1,609.9 L1119.9,603.6 L1139.0,595.1 L1155.9,588.7 L1164.4,578.1 L1181.4,571.8 L1198.3,569.7 L1219.5,569.7 L1234.3,571.8 L1240.7,576.0 L1266.1,576.0 L1406.4,576.0 L1406.4,735.4 L1043.6,735.4Z"/>
<path fill="#808080" d="M1043.6,629.0 L1050.0,629.0 L1067.0,633.2 L1083.9,629.0 L1100.9,624.8 L1105.1,612.0 L1119.9,607.8 L1139.0,605.7 L1151.7,601.4 L1168.7,595.1 L1185.6,590.9 L1202.6,582.4 L1219.5,578.1 L1236.5,582.4 L1266.1,582.4 L1406.4,582.4 L1406.4,735.4 L1043.6,735.4Z"/>
<path fill="#898989" d="M1043.6,639.6 L1050.0,639.6 L1062.7,645.9 L1079.7,639.6 L1096.6,633.2 L1113.6,629.0 L1130.5,624.8 L1143.2,620.5 L1155.9,612.0 L1168.7,603.6 L1181.4,599.3 L1194.1,595.1 L1211.0,597.2 L1223.7,590.9 L1240.7,588.7 L1266.1,588.7 L1406.4,588.7 L1406.4,735.4 L1043.6,735.4Z"/>
<path fill="#929292" d="M1043.6,667.1 L1050.0,667.1 L1062.7,665.0 L1075.4,660.8 L1092.4,654.4 L1109.3,648.1 L1122.0,643.8 L1134.8,637.5 L1143.2,629.0 L1155.9,629.0 L1164.4,635.3 L1168.7,641.7 L1181.4,641.7 L1194.1,639.6 L1198.3,635.3 L1219.5,635.3 L1406.4,635.3 L1406.4,735.4 L1043.6,735.4Z M1168.7,624.8 L1177.1,624.8 L1175.0,630.1 L1170.8,629.0Z"/>
<path fill="#9c9c9c" d="M1043.6,679.8 L1050.0,679.8 L1067.0,675.6 L1083.9,671.4 L1100.9,667.1 L1117.8,667.1 L1134.8,665.0 L1147.5,658.7 L1160.2,654.4 L1172.9,652.3 L1185.6,650.2 L1198.3,645.9 L1406.4,645.9 L1406.4,735.4 L1043.6,735.4Z"/>
<path fill="#a5a5a5" d="M1043.6,692.6 L1050.0,692.6 L1067.0,688.3 L1083.9,686.2 L1100.9,684.1 L1117.8,684.1 L1134.8,686.2 L1143.2,684.1 L1151.7,677.7 L1168.7,667.1 L1406.4,667.1 L1406.4,735.4 L1043.6,735.4Z"/>
<path fill="#afafaf" d="M1043.6,711.6 L1050.0,711.6 L1067.0,707.4 L1083.9,707.4 L1100.9,707.4 L1113.6,705.3 L1126.3,707.4 L1139.0,707.4 L1147.5,701.0 L1406.4,701.0 L1406.4,735.4 L1043.6,735.4Z"/>
<path fill="#b8b8b8" d="M1128.4,730.7 L1131.6,722.2 L1136.9,718.0 L1141.1,730.7Z"/>
<path fill="#505050" d="M1077.5,601.4 L1092.4,588.7 L1109.3,578.1 L1124.2,565.4 L1134.8,552.7 L1145.3,540.0 L1168.7,540.0 L1160.2,552.7 L1147.5,563.3 L1134.8,576.0 L1119.9,588.7 L1103.0,601.4 L1090.3,609.9 L1081.8,607.8Z"/>
<path fill="#5a5a5a" d="M1077.5,609.9 L1092.4,605.7 L1105.1,609.9 L1092.4,618.4 L1079.7,620.5Z"/>
<path fill="#3d3d3d" d="M1119.9,540.0 L1134.8,540.0 L1130.5,548.5 L1122.0,546.4Z"/>
<path fill="#2a2a2a" d="M1092.4,599.3 L1107.2,586.6 L1122.0,576.0 L1132.6,565.4 L1136.9,567.5 L1126.3,580.3 L1111.4,590.9 L1098.7,601.4Z"/>
<path fill="#050505" d="M1103.0,596.1 L1113.6,586.6 L1117.8,589.8 L1107.2,598.3Z"/>
<path fill="#2a2a2a" d="M1130.5,550.6 L1145.3,544.2 L1160.2,546.4 L1149.6,554.8 L1134.8,557.0Z"/>
<path fill="#050505" d="M1139.0,550.6 L1147.5,547.4 L1151.7,549.5 L1143.2,553.1Z"/>
</g>
<clipPath id="tc7"><rect x="700" y="733" width="350" height="159"/></clipPath>
<g clip-path="url(#tc7)">
<rect x="700" y="733" width="350" height="159" fill="#9c9c9c"/>
<path fill="#929292" d="M700.0,703.0 L805.9,703.0 L795.3,715.7 L774.2,728.4 L753.0,734.8 L721.2,728.4 L700.0,724.2Z"/>
<path fill="#a5a5a5" d="M693.6,726.3 L700.0,726.3 L721.2,732.7 L742.4,736.9 L763.6,732.7 L784.8,728.4 L805.9,722.1 L827.1,716.8 L848.3,713.6 L869.5,711.5 L882.2,709.4 L901.3,707.7 L922.5,707.7 L943.7,706.2 L964.9,704.7 L996.6,703.0 L1050.0,703.0 L1056.4,703.0 L1056.4,898.4 L693.6,898.4Z"/>
<path fill="#afafaf" d="M693.6,734.8 L700.0,734.8 L717.0,738.0 L731.8,745.4 L753.0,747.9 L774.2,742.2 L795.3,738.0 L810.2,733.7 L827.1,729.5 L844.1,725.2 L861.0,722.1 L882.2,718.9 L901.3,716.8 L922.5,718.9 L943.7,723.1 L964.9,721.0 L975.4,723.1 L996.6,723.1 L1050.0,723.1 L1056.4,723.1 L1056.4,898.4 L693.6,898.4Z"/>
<path fill="#b8b8b8" d="M721.2,744.3 L738.1,749.2 L759.3,751.3 L780.5,746.0 L795.3,747.1 L810.2,741.1 L827.1,736.9 L839.8,730.5 L856.8,730.5 L867.4,734.8 L873.7,731.6 L880.1,734.8 L880.1,851.3 L721.2,851.3Z M924.6,748.6 L931.0,744.3 L937.3,736.9 L950.0,732.7 L954.3,726.3 L967.0,728.4 L977.6,734.8 L983.9,758.1 L975.4,766.6 L933.1,766.6Z"/>
<path fill="#c2c2c2" d="M731.8,760.2 L742.4,764.4 L763.6,766.6 L780.5,764.4 L793.2,766.6 L805.9,772.9 L814.4,770.8 L827.1,764.4 L839.8,758.1 L848.3,753.9 L861.0,751.7 L861.0,851.3 L731.8,851.3Z"/>
<path fill="#cbcbcb" d="M742.4,779.3 L755.1,775.0 L765.7,772.9 L774.2,781.4 L784.8,787.8 L795.3,792.0 L801.7,787.8 L810.2,792.0 L810.2,851.3 L742.4,851.3Z"/>
<path fill="#d4d4d4" d="M753.0,796.2 L761.4,792.0 L769.9,800.5 L774.2,811.1 L784.8,808.9 L793.2,804.7 L801.7,808.9 L810.2,813.2 L810.2,851.3 L753.0,851.3Z"/>
<path fill="#dedede" d="M761.4,817.4 L767.8,821.7 L778.4,823.8 L786.9,821.7 L795.3,825.9 L801.7,830.1 L810.2,838.6 L810.2,851.3 L761.4,851.3Z"/>
</g>
<clipPath id="tc8"><rect x="1050" y="729" width="350" height="163"/></clipPath>
<g clip-path="url(#tc8)">
<rect x="1050" y="729" width="350" height="163" fill="#afafaf"/>
<path fill="#a5a5a5" d="M1050.0,703.0 L1139.0,703.0 L1139.0,709.4 L1113.6,711.5 L1092.4,709.4 L1071.2,713.6 L1050.0,711.5Z"/>
<path fill="#9c9c9c" d="M1067.0,703.0 L1139.0,703.0 L1137.9,706.2 L1103.0,707.2 L1071.2,708.3Z"/>
<path fill="#b8b8b8" d="M1099.8,750.7 L1107.2,745.4 L1111.4,739.0 L1119.9,734.8 L1128.4,728.4 L1134.8,721.0 L1177.1,721.0 L1177.1,893.7 L1099.8,893.7Z"/>
<path fill="#c2c2c2" d="M1109.3,764.4 L1117.8,756.0 L1126.3,753.9 L1134.8,751.7 L1143.2,753.9 L1177.1,753.9 L1177.1,893.7 L1109.3,893.7Z"/>
<path fill="#cbcbcb" d="M1111.4,777.2 L1122.0,775.0 L1130.5,770.8 L1134.8,764.4 L1143.2,764.4 L1151.7,768.7 L1177.1,768.7 L1177.1,893.7 L1111.4,893.7Z"/>
<path fill="#d4d4d4" d="M1111.4,787.8 L1119.9,783.5 L1130.5,779.3 L1139.0,775.0 L1147.5,777.2 L1153.8,787.8 L1177.1,787.8 L1177.1,893.7 L1111.4,893.7Z"/>
<path fill="#dedede" d="M1122.0,823.8 L1130.5,821.7 L1139.0,815.3 L1147.5,812.1 L1160.2,813.2 L1168.7,815.3 L1177.1,815.3 L1177.1,893.7 L1122.0,893.7Z"/>
<path fill="#e7e7e7" d="M1130.5,842.8 L1139.0,838.6 L1147.5,836.5 L1153.8,830.1 L1160.2,823.8 L1165.5,819.5 L1177.1,819.5 L1177.1,893.7 L1130.5,893.7Z"/>
<path fill="#f1f1f1" d="M1153.8,842.8 L1160.2,836.5 L1165.5,838.6 L1164.4,851.3 L1158.1,853.4Z"/>
</g>
<clipPath id="tc9"><rect x="200" y="215" width="350" height="189"/></clipPath>
<g clip-path="url(#tc9)">
<rect x="200" y="215" width="350" height="189" fill="#050505"/>
<path fill="#050505" d="M408.7,236.2 L550.0,236.2 L550.0,404.0 L488.2,404.0 L483.9,395.1 L471.2,399.3 L458.5,395.1 L445.8,393.0 L433.1,384.5 L424.6,382.4 L418.2,371.8 L411.9,363.3 L403.4,359.1 L400.2,350.6 L403.4,342.1 L411.9,333.7 L416.1,325.2 L424.6,318.8 L433.1,314.6 L439.4,320.9 L443.7,312.5 L441.5,299.8 L437.3,289.2 L431.0,278.6 L422.5,270.1 L416.1,261.6 L411.9,253.1Z M414.0,244.7 L422.5,244.7 L428.8,238.3 L433.1,244.7 L428.8,253.1 L439.4,263.7 L451.1,257.4 L454.3,268.0 L452.1,282.8 L443.7,284.9 L439.4,278.6 L431.0,270.1 L420.4,261.6 L414.0,255.3Z M443.7,293.4 L452.1,293.4 L450.0,308.2 L445.8,314.6 L443.7,304.0Z M300.0,237.0 L390.1,237.0 L390.1,257.4 L369.5,263.7 L348.3,257.4 L335.6,270.1 L318.7,278.6 L301.7,268.0Z M282.6,333.7 L318.7,350.6 L348.3,333.7 L384.3,325.2 L386.5,363.3 L378.0,404.0 L280.5,404.0 L278.4,363.3Z M414.0,244.7 L433.1,242.5 L452.1,257.4 L453.2,282.8 L443.7,284.9 L431.0,270.1 L418.2,261.6Z M400.2,342.1 L411.9,329.4 L424.6,316.7 L435.2,312.5 L440.5,318.8 L431.0,325.2 L420.4,333.7 L411.9,346.4 L406.6,361.2Z M301.7,238.3 L331.4,237.2 L329.2,244.7 L320.8,246.8 L314.4,255.3 L308.1,263.7 L301.7,261.6 L305.9,251.0Z M344.1,237.2 L361.0,237.2 L356.8,248.9 L348.3,246.8Z M371.6,242.5 L386.5,237.2 L386.5,255.3 L378.0,253.1Z M391.8,237.2 L409.8,237.2 L407.6,248.9 L399.2,253.1 L392.8,246.8Z M375.9,331.5 L386.5,325.2 L390.7,337.9 L382.2,340.0Z M352.6,346.4 L369.5,337.9 L375.9,350.6 L367.4,359.1 L356.8,354.8Z M320.8,359.1 L327.1,357.0 L329.2,363.3 L322.9,363.3Z M280.5,399.3 L284.8,384.5 L295.3,378.2 L310.2,371.8 L322.9,376.0 L329.2,367.6 L344.1,361.2 L356.8,363.3 L369.5,361.2 L375.9,367.6 L369.5,380.3 L356.8,382.4 L361.0,390.9 L348.3,395.1 L335.6,388.7 L327.1,395.1 L316.5,390.9 L301.7,397.2 L291.1,404.0Z M390.7,397.2 L399.2,404.0 L390.7,404.0Z M293.2,306.1 L296.4,306.1 L296.4,310.3 L293.2,310.3Z"/>
<path fill="#2a2a2a" d="M333.1,240.4 L337.3,240.4 L336.7,254.2 L344.1,260.6 L348.3,270.1 L356.8,284.9 L369.5,289.2 L382.2,297.6 L386.5,306.1 L388.6,312.5 L361.0,313.5 L352.6,325.2 L335.6,331.5 L318.7,329.4 L315.5,322.0 L327.1,312.9 L318.7,308.2 L310.2,305.7 L311.9,298.7 L318.7,295.1 L325.4,299.8 L325.4,282.8 L320.3,276.9 L325.4,275.2 L331.8,278.6 L335.6,268.0 L332.6,257.4Z"/>
<path fill="#050505" d="M346.2,259.5 L361.0,263.7 L369.5,278.6 L361.0,282.8 L352.6,274.3Z"/>
<path fill="#212121" d="M339.8,272.2 L348.3,274.3 L356.8,287.0 L365.3,291.3 L361.0,299.8 L348.3,295.5 L342.0,284.9Z"/>
<path fill="#3d3d3d" d="M325.0,278.6 L335.6,275.4 L339.8,278.6 L342.0,291.3 L348.3,299.8 L356.8,304.0 L367.4,297.6 L378.0,295.5 L380.1,299.8 L365.3,306.1 L356.8,310.3 L346.2,310.3 L337.7,304.0 L329.2,295.5 L325.0,287.0Z"/>
<path fill="#505050" d="M329.2,293.4 L337.7,289.2 L346.2,301.9 L352.6,308.2 L344.1,310.3 L335.6,301.9Z"/>
<path fill="#343434" d="M329.2,282.8 L337.7,282.8 L337.7,289.2 L330.3,289.2Z"/>
<path fill="#3d3d3d" d="M314.4,299.8 L322.9,300.8 L331.4,308.2 L322.9,310.3 L316.5,306.1Z M316.5,325.2 L325.0,316.7 L335.6,312.5 L348.3,315.6 L354.7,323.1 L346.2,325.2 L335.6,325.2 L325.0,328.4Z"/>
<path fill="#2a2a2a" d="M301.3,334.7 L305.5,331.5 L308.1,334.7 L303.8,342.1 L304.9,348.5 L301.3,347.4Z M315.5,334.7 L318.2,333.2 L320.3,343.2 L335.6,345.3 L336.7,348.9 L323.3,348.9 L317.2,345.9Z M261.9,331.1 L271.0,329.4 L272.5,333.7 L267.4,339.6 L263.1,348.5 L261.0,343.8Z"/>
<path fill="#0e0e0e" d="M262.5,337.9 L269.9,333.7 L268.9,340.0 L263.6,344.2Z"/>
<path fill="#2a2a2a" d="M250.9,381.3 L256.8,379.8 L263.6,386.2 L267.4,393.4 L264.0,404.0 L245.6,404.0 L252.5,393.4Z M382.2,350.6 L394.9,346.4 L401.3,350.6 L403.4,363.3 L409.8,376.0 L422.5,384.5 L435.2,388.7 L447.9,395.1 L454.3,404.0 L399.2,404.0 L386.5,384.5 L378.0,371.8 L375.9,361.2Z"/>
<path fill="#3d3d3d" d="M379.0,361.2 L388.6,361.2 L392.8,367.6 L399.2,378.2 L407.6,384.5 L420.4,390.9 L433.1,393.0 L441.5,397.2 L443.7,404.0 L411.9,404.0 L403.4,395.1 L394.9,384.5 L386.5,378.2 L380.1,369.7Z"/>
<path fill="#2a2a2a" d="M364.2,398.9 L370.6,393.4 L377.6,388.3 L382.6,394.7 L384.3,404.0 L361.0,404.0Z M391.8,306.1 L398.7,302.9 L406.6,308.2 L401.3,312.5 L394.9,311.4Z"/>
</g>
<clipPath id="tc10"><rect x="200" y="404" width="350" height="189"/></clipPath>
<g clip-path="url(#tc10)">
<rect x="200" y="404" width="350" height="189" fill="#050505"/>
<path fill="#050505" d="M407.6,423.1 L450.0,422.0 L451.1,539.6 L433.1,522.7 L424.6,514.2 L411.9,522.7 L403.4,514.2 L394.9,509.9 L386.5,503.6 L375.9,497.2 L371.6,488.8 L375.9,480.3 L386.5,473.9 L397.1,463.3 L403.4,450.6 L409.8,435.8Z M411.9,446.4 L416.1,444.3 L424.6,473.9 L420.4,476.0Z M428.8,442.1 L433.1,440.0 L441.5,467.6 L437.3,469.7Z M390.7,484.5 L394.9,482.4 L407.6,505.7 L403.4,507.8Z M433.1,484.5 L437.3,484.5 L443.7,509.9 L439.4,509.9Z M416.1,488.8 L420.4,488.8 L428.8,514.2 L424.6,514.2Z M399.2,467.6 L403.4,465.4 L411.9,484.5 L408.7,486.6Z M453.2,473.9 L467.0,467.6 L475.4,476.0 L488.2,488.8 L486.0,503.6 L475.4,514.2 L486.0,526.9 L496.6,535.4 L481.8,541.7 L464.9,539.6 L453.2,531.1Z M500.9,422.0 L550.0,422.0 L550.0,490.9 L539.0,493.0 L526.3,486.6 L517.8,488.8 L511.5,497.2 L505.1,512.1 L500.9,524.8 L496.6,531.1 L494.5,518.4 L498.8,503.6 L505.1,488.8 L503.0,473.9 L505.1,463.3 L503.0,446.4Z M327.1,503.6 L335.6,509.9 L346.2,522.7 L356.8,535.4 L361.0,552.3 L367.4,569.3 L361.0,573.5 L352.6,560.8 L346.2,548.1 L337.7,535.4 L331.4,522.7 L327.1,514.2Z M293.2,423.1 L325.0,423.1 L325.0,467.6 L310.2,471.8 L299.6,457.0 L293.2,437.9Z M293.2,404.0 L318.7,404.0 L314.4,414.6 L301.7,412.5Z M335.6,422.0 L346.2,423.1 L344.1,429.4 L335.6,428.4Z M301.7,452.7 L314.4,448.5 L316.5,457.0 L305.9,459.1Z M390.7,404.0 L411.9,404.0 L409.8,416.7 L394.9,414.6Z M422.5,412.9 L450.0,412.5 L450.0,417.1 L424.6,416.7Z M454.3,404.0 L513.6,404.0 L513.6,417.8 L454.3,417.8Z M513.6,404.0 L550.0,404.0 L550.0,423.1 L513.6,423.1Z"/>
<path fill="#2a2a2a" d="M240.3,423.1 L272.0,423.1 L276.3,433.7 L269.9,446.4 L261.4,454.9 L250.9,463.3 L242.4,459.1 L238.1,442.1Z"/>
<path fill="#3d3d3d" d="M248.7,427.3 L263.6,425.2 L267.8,435.8 L257.2,446.4 L249.8,440.0Z"/>
<path fill="#2a2a2a" d="M348.3,423.1 L373.7,423.1 L390.7,433.7 L403.4,446.4 L399.2,459.1 L386.5,467.6 L369.5,471.8 L356.8,463.3 L348.3,446.4 L335.6,450.6 L331.4,442.1 L344.1,433.7Z"/>
<path fill="#343434" d="M365.3,431.5 L382.2,433.7 L390.7,446.4 L380.1,457.0 L367.4,450.6Z"/>
<path fill="#505050" d="M331.4,457.0 L344.1,446.4 L348.3,433.7 L361.0,431.5 L365.3,446.4 L369.5,461.2 L378.0,467.6 L369.5,476.0 L361.0,484.5 L356.8,495.1 L346.2,497.2 L339.8,488.8 L335.6,476.0 L329.2,467.6Z"/>
<path fill="#3d3d3d" d="M352.6,431.5 L358.9,429.4 L365.3,450.6 L361.0,459.1 L356.8,446.4Z"/>
<path fill="#505050" d="M250.9,465.4 L263.6,454.9 L274.2,444.3 L284.8,444.3 L291.1,459.1 L299.6,476.0 L310.2,497.2 L320.8,518.4 L331.4,535.4 L344.1,556.6 L352.6,573.5 L356.8,593.0 L293.2,593.0 L289.0,565.0 L280.5,552.3 L274.2,531.1 L263.6,518.4 L253.0,503.6 L246.6,488.8 L248.7,473.9Z"/>
<path fill="#5a5a5a" d="M255.1,488.8 L263.6,484.5 L272.0,501.5 L280.5,522.7 L284.8,543.8 L276.3,539.6 L263.6,514.2Z"/>
<path fill="#767676" d="M274.2,448.5 L282.6,446.4 L286.9,459.1 L291.1,471.8 L299.6,493.0 L308.1,509.9 L318.7,526.9 L329.2,543.8 L339.8,560.8 L348.3,577.7 L350.4,593.0 L318.7,593.0 L312.3,573.5 L301.7,556.6 L291.1,535.4 L282.6,514.2 L274.2,497.2 L269.9,478.2 L269.9,461.2Z"/>
<path fill="#6d6d6d" d="M284.8,484.5 L293.2,488.8 L301.7,505.7 L310.2,522.7 L305.9,526.9 L295.3,514.2 L286.9,499.3Z"/>
<path fill="#808080" d="M272.0,463.3 L280.5,459.1 L284.8,473.9 L276.3,484.5 L271.0,476.0Z M314.4,539.6 L327.1,548.1 L337.7,565.0 L346.2,593.0 L327.1,593.0 L318.7,565.0Z"/>
<path fill="#636363" d="M284.8,516.3 L293.2,514.2 L297.5,520.5 L291.1,526.9 L284.8,524.8Z"/>
<path fill="#505050" d="M356.8,503.6 L369.5,514.2 L382.2,522.7 L394.9,522.7 L407.6,529.0 L420.4,522.7 L433.1,531.1 L451.1,541.7 L451.1,552.3 L433.1,556.6 L411.9,552.3 L390.7,548.1 L378.0,539.6 L365.3,522.7Z"/>
<path fill="#767676" d="M367.4,548.1 L382.2,552.3 L403.4,571.4 L428.8,593.0 L361.0,593.0 L365.3,573.5Z"/>
<path fill="#6d6d6d" d="M378.0,543.8 L390.7,550.2 L411.9,554.4 L433.1,558.7 L451.1,554.4 L451.1,569.3 L439.4,573.5 L433.1,593.0 L428.8,593.0 L403.4,569.3 L386.5,552.3Z"/>
<path fill="#9c9c9c" d="M428.8,558.7 L439.4,552.3 L447.9,560.8 L447.9,573.5 L437.3,575.6 L431.0,569.3Z M371.6,556.6 L382.2,560.8 L390.7,573.5 L401.3,586.2 L403.4,593.0 L373.7,593.0 L369.5,573.5Z"/>
<path fill="#b8b8b8" d="M384.3,556.6 L388.6,558.7 L392.8,571.4 L401.3,584.1 L406.6,593.0 L402.3,593.0 L396.0,584.1 L389.6,573.5Z"/>
<path fill="#505050" d="M454.3,433.7 L467.0,427.3 L481.8,429.4 L496.6,435.8 L503.0,450.6 L500.9,467.6 L492.4,473.9 L483.9,467.6 L473.3,463.3 L462.7,465.4 L454.3,471.8Z"/>
<path fill="#5a5a5a" d="M467.0,437.9 L479.7,435.8 L481.8,452.7 L471.2,459.1 L464.9,450.6Z"/>
<path fill="#3d3d3d" d="M471.2,425.2 L483.9,425.2 L486.0,433.7 L475.4,435.8Z"/>
<path fill="#505050" d="M475.4,476.0 L483.9,471.8 L492.4,476.0 L496.6,488.8 L492.4,501.5 L486.0,509.9 L477.6,514.2 L471.2,531.1 L462.7,531.1 L467.0,514.2 L475.4,501.5 L479.7,488.8Z"/>
<path fill="#2a2a2a" d="M494.5,437.9 L503.0,429.4 L505.1,463.3 L500.9,476.0 L505.1,488.8 L498.8,503.6 L494.5,518.4 L490.3,503.6 L496.6,488.8 L494.5,473.9 L503.0,467.6Z"/>
<path fill="#5a5a5a" d="M500.9,535.4 L509.3,514.2 L517.8,497.2 L530.5,488.8 L543.3,495.1 L550.0,493.0 L550.0,552.3 L454.3,552.3 L454.3,543.8 L475.4,546.0 L492.4,541.7Z"/>
<path fill="#636363" d="M509.3,531.1 L517.8,509.9 L530.5,499.3 L543.3,501.5 L550.0,505.7 L550.0,543.8 L530.5,548.1 L513.6,546.0Z"/>
<path fill="#6d6d6d" d="M513.6,522.7 L526.3,505.7 L539.0,503.6 L550.0,509.9 L550.0,531.1 L534.8,539.6 L517.8,539.6Z"/>
<path fill="#505050" d="M454.3,553.4 L550.0,553.4 L550.0,593.0 L454.3,593.0Z"/>
<path fill="#6d6d6d" d="M454.3,556.6 L481.8,556.6 L486.0,573.5 L475.4,593.0 L454.3,593.0Z"/>
<path fill="#2a2a2a" d="M488.2,560.8 L496.6,556.6 L500.9,569.3 L492.4,573.5Z M530.5,565.0 L547.5,560.8 L550.0,573.5 L534.8,577.7Z"/>
<path fill="#3d3d3d" d="M505.1,565.0 L522.1,560.8 L526.3,577.7 L511.5,582.0Z"/>
</g>
<clipPath id="tc11"><rect x="300" y="421" width="152" height="144"/></clipPath>
<g clip-path="url(#tc11)">
<rect x="300" y="421" width="152" height="144" fill="#050505"/>
<path fill="#050505" d="M300.0,421.7 L325.2,421.7 L325.2,499.1 L333.6,509.2 L342.0,522.6 L355.5,546.2 L363.9,565.0 L347.1,565.0 L338.7,546.2 L326.9,526.0 L318.5,509.2 L310.1,492.4 L300.0,482.3Z"/>
<path fill="#505050" d="M300.0,482.3 L310.1,492.4 L318.5,509.2 L326.9,526.0 L338.7,546.2 L347.1,565.0 L340.4,565.0 L333.6,549.5 L321.9,532.7 L310.1,509.2 L300.0,494.0Z"/>
<path fill="#767676" d="M300.0,494.0 L310.1,509.2 L321.9,532.7 L333.6,549.5 L340.4,565.0 L300.0,565.0Z"/>
<path fill="#6d6d6d" d="M300.0,502.4 L306.7,509.2 L308.4,522.6 L300.0,522.6Z"/>
<path fill="#808080" d="M300.0,532.7 L313.5,539.4 L323.5,552.9 L326.9,565.0 L300.0,565.0Z"/>
<path fill="#050505" d="M325.2,498.2 L404.3,566.3 L362.2,566.3 L355.5,546.2 L342.0,522.6 L333.6,509.2 L325.2,499.9Z"/>
<path fill="#808080" d="M355.5,542.8 L370.6,539.4 L394.2,559.6 L399.2,566.3 L363.9,566.3Z"/>
<path fill="#050505" d="M326.9,504.1 L332.8,506.6 L341.2,517.9 L349.6,531.0 L356.3,544.5 L362.6,559.6 L365.2,566.3 L358.5,566.3 L352.5,549.5 L345.7,536.4 L337.3,523.0 L328.9,512.9Z M301.7,452.0 L308.4,450.3 L310.1,457.0 L303.4,458.7Z M310.1,447.0 L315.1,447.0 L315.1,451.2 L310.1,451.2Z"/>
<path fill="#2a2a2a" d="M300.0,465.4 L310.1,463.8 L316.8,470.5 L306.7,472.2Z"/>
<path fill="#050505" d="M326.9,422.6 L407.6,422.6 L404.3,440.2 L394.2,457.0 L375.7,470.5 L372.3,485.6 L374.0,502.4 L380.7,512.5 L394.2,515.9 L404.3,522.6 L394.2,532.7 L380.7,536.1 L367.3,532.7 L350.4,522.6 L326.9,499.1Z"/>
<path fill="#2a2a2a" d="M348.8,423.4 L372.3,422.6 L387.4,431.8 L400.9,441.9 L404.3,453.7 L394.2,458.7 L384.1,470.5 L374.0,468.8 L367.3,457.0 L355.5,448.6 L347.1,435.2Z"/>
<path fill="#343434" d="M367.3,435.2 L384.1,436.9 L394.2,448.6 L387.4,458.7 L374.0,453.7Z"/>
<path fill="#212121" d="M372.3,425.1 L379.0,425.1 L375.7,438.5 L370.6,436.9Z"/>
<path fill="#505050" d="M328.6,457.0 L338.7,452.0 L343.7,440.2 L352.1,431.8 L362.2,433.5 L363.9,445.3 L367.3,458.7 L374.0,465.4 L377.4,472.2 L367.3,478.9 L360.5,489.0 L353.8,495.7 L343.7,499.1 L338.7,489.0 L332.0,478.9 L328.6,468.8Z"/>
<path fill="#3d3d3d" d="M355.5,433.5 L361.4,432.7 L364.7,453.7 L368.9,465.4 L364.7,465.4 L358.9,452.0Z M338.7,457.0 L350.4,455.4 L353.8,465.4 L342.0,467.1Z"/>
<path fill="#050505" d="M345.4,470.5 L348.8,470.5 L355.5,485.6 L352.1,487.3Z M335.3,423.4 L342.0,424.2 L341.2,430.1 L336.2,429.3Z M407.6,422.6 L449.7,422.6 L449.7,524.3 L439.6,515.9 L427.8,509.2 L417.7,515.9 L404.3,522.6 L394.2,515.9 L380.7,512.5 L374.0,502.4 L372.3,485.6 L375.7,470.5 L394.2,457.0 L404.3,440.2Z M417.7,443.6 L420.7,442.7 L416.7,458.7 L413.7,459.1Z M432.8,448.6 L435.9,448.6 L431.8,465.4 L428.8,465.4Z M407.6,458.7 L411.0,457.9 L401.6,477.2 L398.5,477.2Z M424.4,465.4 L427.5,465.4 L421.1,482.3 L418.0,482.3Z M394.2,478.9 L397.5,478.1 L389.8,495.7 L386.4,495.7Z M411.0,482.3 L414.0,482.3 L408.5,499.1 L405.4,499.1Z M439.6,470.5 L442.6,470.5 L438.7,487.3 L435.7,487.3Z M429.5,489.0 L432.5,489.0 L427.0,505.8 L423.9,505.8Z M380.7,482.3 L384.1,481.4 L379.7,499.1 L376.3,499.1Z M444.6,495.7 L446.6,495.7 L443.8,509.2 L441.8,509.2Z M400.9,499.1 L402.9,499.1 L399.2,510.9 L397.2,510.9Z M442.9,431.8 L445.0,431.8 L442.1,445.3 L440.1,445.3Z M421.1,428.5 L423.6,428.5 L421.9,438.5 L419.7,438.5Z"/>
<path fill="#505050" d="M355.5,515.9 L367.3,522.6 L380.7,515.9 L394.2,519.3 L404.3,526.0 L417.7,519.3 L427.8,512.5 L439.6,519.3 L449.7,526.0 L449.7,551.2 L434.5,547.8 L417.7,551.2 L400.9,547.8 L384.1,541.1 L370.6,541.1 L360.5,529.3Z"/>
<path fill="#3d3d3d" d="M400.9,529.3 L414.3,522.6 L421.1,532.7 L407.6,536.1Z M427.8,519.3 L439.6,524.3 L437.9,532.7 L427.8,529.3Z"/>
<path fill="#2a2a2a" d="M394.2,514.2 L400.9,512.5 L407.6,522.6 L402.6,526.0Z M417.7,509.2 L422.8,505.8 L429.5,512.5 L424.4,517.6Z"/>
<path fill="#6d6d6d" d="M370.6,536.1 L384.1,536.1 L400.9,542.8 L417.7,546.2 L434.5,542.8 L449.7,546.2 L449.7,565.0 L400.9,565.0 L387.4,549.5Z"/>
<path fill="#767676" d="M400.9,549.5 L417.7,549.5 L431.2,552.9 L427.8,565.0 L407.6,565.0Z"/>
<path fill="#9c9c9c" d="M432.8,549.5 L442.9,547.8 L449.7,552.9 L449.7,565.0 L434.5,565.0Z M374.0,549.5 L384.1,554.6 L394.2,565.0 L377.4,565.0Z"/>
<path fill="#b8b8b8" d="M384.1,556.3 L389.1,557.9 L392.5,565.0 L387.4,565.0Z"/>
</g>
<clipPath id="tc12"><rect x="550" y="404" width="150" height="189"/></clipPath>
<g clip-path="url(#tc12)">
<rect x="550" y="404" width="150" height="189" fill="#050505"/>
<path fill="#5a5a5a" d="M542.4,488.8 L556.8,488.8 L556.8,550.2 L542.4,550.2Z"/>
<path fill="#505050" d="M556.8,488.8 L569.9,488.8 L578.4,497.2 L589.0,501.5 L584.8,512.1 L572.0,509.9 L567.8,518.4 L559.3,522.7 L556.8,518.4Z"/>
<path fill="#636363" d="M558.3,493.0 L567.8,493.0 L572.0,503.6 L563.6,509.9 L558.3,505.7Z"/>
<path fill="#2a2a2a" d="M639.8,482.4 L657.9,481.3 L656.8,488.8 L646.2,489.8Z"/>
<path fill="#3d3d3d" d="M637.7,467.6 L644.1,471.8 L654.7,476.0 L656.8,482.4 L648.3,484.5 L639.8,480.3Z"/>
<path fill="#050505" d="M634.5,455.9 L637.7,457.0 L638.8,467.6 L635.6,476.0 L633.5,467.6Z"/>
<path fill="#2a2a2a" d="M633.5,512.1 L646.2,503.6 L651.5,502.5 L648.3,509.9 L637.7,514.2Z"/>
<path fill="#505050" d="M635.6,512.1 L646.2,507.8 L650.4,503.6 L652.6,509.9 L648.3,520.5 L656.8,526.9 L667.4,533.2 L661.0,537.5 L652.6,535.4 L648.3,531.1 L644.1,522.7Z"/>
<path fill="#2a2a2a" d="M646.2,531.1 L654.7,535.4 L652.6,539.6 L646.2,537.5Z"/>
<path fill="#505050" d="M682.2,552.3 L684.3,533.2 L694.9,528.2 L705.1,530.3 L705.1,552.3Z"/>
<path fill="#5a5a5a" d="M685.4,552.3 L687.5,536.4 L694.9,531.1 L704.5,533.2 L704.5,552.3Z"/>
<path fill="#050505" d="M559.3,524.8 L565.7,522.7 L567.8,535.4 L561.4,539.6Z M578.4,539.6 L582.6,539.6 L583.7,548.1 L579.5,548.1Z M591.1,544.9 L595.3,544.9 L595.3,549.1 L591.1,549.1Z M642.0,531.1 L646.2,533.2 L648.3,543.8 L644.1,541.7Z"/>
<path fill="#505050" d="M558.3,553.4 L589.0,553.4 L591.1,565.0 L584.8,579.9 L569.9,586.2 L559.3,584.1Z"/>
<path fill="#3d3d3d" d="M561.4,556.6 L580.5,555.5 L582.6,569.3 L572.0,577.7 L562.5,573.5Z"/>
<path fill="#2a2a2a" d="M580.5,565.0 L589.0,567.2 L586.9,575.6 L580.5,573.5Z"/>
<path fill="#505050" d="M595.3,593.0 L599.6,584.1 L610.2,575.6 L618.7,577.7 L627.1,586.2 L637.7,590.5 L648.3,586.2 L661.0,588.3 L671.6,577.7 L678.0,565.0 L681.2,558.7 L682.2,593.0Z"/>
<path fill="#050505" d="M610.2,571.4 L618.7,573.5 L622.9,582.0 L618.7,584.1 L612.3,577.7Z"/>
<path fill="#6d6d6d" d="M661.0,593.0 L669.5,586.2 L678.0,579.9 L682.2,582.0 L682.2,593.0Z"/>
<path fill="#636363" d="M682.6,550.2 L703.4,550.2 L703.4,593.0 L682.6,593.0Z"/>
<path fill="#6d6d6d" d="M684.3,579.9 L700.0,573.5 L700.0,593.0 L684.3,593.0Z"/>
</g>
<clipPath id="tc13"><rect x="452" y="421" width="248" height="131"/></clipPath>
<g clip-path="url(#tc13)">
<rect x="452" y="421" width="248" height="131" fill="#050505"/>
<path fill="#050505" d="M490.4,425.1 L498.9,426.8 L500.5,440.2 L503.1,457.0 L498.9,465.4 L496.3,448.6 L493.8,435.2Z"/>
<path fill="#505050" d="M455.1,436.9 L461.9,430.1 L472.0,425.1 L482.0,426.8 L490.4,431.8 L497.2,441.9 L498.9,455.4 L493.8,465.4 L487.1,462.1 L480.4,470.5 L473.6,465.4 L466.9,468.8 L458.5,468.8 L455.1,457.0Z"/>
<path fill="#3d3d3d" d="M472.0,425.9 L483.7,426.8 L482.0,435.2 L473.6,433.5Z"/>
<path fill="#5a5a5a" d="M456.8,440.2 L470.3,438.5 L473.6,453.7 L463.5,462.1 L456.8,457.0Z"/>
<path fill="#050505" d="M468.6,467.1 L478.7,467.1 L480.4,473.9 L470.3,475.5Z"/>
<path fill="#505050" d="M455.1,472.2 L465.2,470.5 L470.3,478.9 L466.9,492.4 L470.3,505.8 L466.9,519.3 L460.2,526.0 L455.1,515.9 L456.8,495.7Z"/>
<path fill="#050505" d="M461.9,478.9 L466.9,482.3 L465.2,502.4 L460.2,499.1Z"/>
<path fill="#2a2a2a" d="M478.7,475.5 L490.4,472.2 L497.2,482.3 L490.4,495.7 L483.7,509.2 L477.0,522.6 L470.3,532.7 L465.2,531.0 L473.6,515.9 L480.4,499.1 L482.0,485.6Z"/>
<path fill="#050505" d="M482.0,480.6 L488.8,478.9 L490.4,487.3 L483.7,502.4 L478.7,515.9 L473.6,522.6 L478.7,505.8 L482.0,490.7Z M515.7,480.6 L519.0,478.9 L520.7,485.6 L517.4,485.6Z M520.7,470.5 L530.8,472.2 L534.2,478.9 L530.8,478.9 L524.1,473.9Z"/>
<path fill="#5a5a5a" d="M510.6,505.8 L519.0,502.4 L524.1,492.4 L534.2,490.7 L540.9,497.4 L549.3,492.4 L556.0,490.7 L556.0,547.8 L498.9,547.8 L503.9,532.7 L510.6,526.0 L514.0,515.9Z"/>
<path fill="#050505" d="M534.2,529.3 L544.3,526.0 L549.3,532.7 L540.9,536.1Z"/>
<path fill="#636363" d="M519.0,509.2 L527.4,499.1 L537.5,499.1 L547.6,495.7 L554.3,495.7 L554.3,519.3 L544.3,524.3 L534.2,522.6 L527.4,529.3 L519.0,524.3Z"/>
<path fill="#505050" d="M520.7,492.4 L530.8,489.0 L534.2,494.0 L525.8,499.1 L520.7,499.1Z"/>
<path fill="#6d6d6d" d="M530.8,504.1 L535.9,504.1 L539.2,512.5 L544.3,509.2 L545.9,514.2 L540.9,522.6 L535.9,519.3 L532.5,512.5Z"/>
<path fill="#808080" d="M517.4,531.0 L527.4,526.0 L534.2,529.3 L540.9,534.4 L556.0,541.1 L556.0,548.7 L503.9,548.7 L510.6,539.4Z"/>
<path fill="#6d6d6d" d="M520.7,536.1 L529.1,531.0 L534.2,536.1 L530.8,542.8 L540.9,541.1 L547.6,544.5 L540.9,548.7 L519.0,548.7Z"/>
<path fill="#636363" d="M540.9,536.1 L549.3,539.4 L547.6,544.5 L542.6,542.8Z"/>
<path fill="#767676" d="M453.5,542.8 L495.5,542.8 L500.5,549.5 L453.5,549.5Z"/>
<path fill="#505050" d="M454.3,532.7 L463.5,531.0 L473.6,539.4 L463.5,544.5 L454.3,542.8Z M559.4,489.0 L571.2,489.0 L579.6,492.4 L586.3,502.4 L581.3,510.9 L572.8,507.5 L569.5,515.9 L561.1,519.3 L559.4,509.2Z"/>
<path fill="#636363" d="M560.2,494.0 L567.8,494.0 L571.2,502.4 L564.4,505.8 L560.2,502.4Z"/>
<path fill="#050505" d="M559.4,524.3 L564.4,526.0 L564.4,539.4 L559.4,539.4Z M579.6,539.4 L582.9,539.4 L582.9,544.5 L579.6,544.5Z M589.7,544.5 L594.7,544.5 L594.7,547.8 L589.7,547.8Z M634.2,455.4 L637.6,456.2 L638.4,465.4 L635.1,472.2 L633.4,463.8Z M640.1,531.0 L644.3,532.7 L646.8,544.5 L641.8,542.8Z"/>
<path fill="#2a2a2a" d="M641.8,480.6 L657.8,480.6 L656.9,489.0 L645.2,490.7Z"/>
<path fill="#3d3d3d" d="M638.4,468.8 L648.5,472.2 L656.9,478.9 L656.9,482.3 L641.8,482.3 L637.6,475.5Z"/>
<path fill="#2a2a2a" d="M633.4,512.5 L644.3,505.8 L652.7,502.4 L651.0,509.2 L638.4,515.9Z"/>
<path fill="#505050" d="M635.1,514.2 L645.2,510.9 L650.2,505.8 L651.9,515.9 L650.2,524.3 L658.6,527.7 L665.3,531.0 L662.0,536.1 L651.9,534.4 L646.8,531.0 L641.8,524.3Z"/>
<path fill="#2a2a2a" d="M641.8,531.0 L650.2,536.1 L648.5,542.8 L641.8,539.4Z"/>
<path fill="#505050" d="M672.1,549.5 L678.8,542.8 L683.8,536.1 L682.2,549.5Z"/>
<path fill="#5a5a5a" d="M682.2,549.5 L683.8,536.1 L692.2,531.0 L700.0,531.0 L700.0,549.5Z"/>
<path fill="#212121" d="M641.0,418.4 L648.5,417.5 L649.4,423.4 L642.6,423.4Z"/>
</g>
<clipPath id="tc14"><rect x="290" y="540" width="350" height="189"/></clipPath>
<g clip-path="url(#tc14)">
<rect x="290" y="540" width="350" height="189" fill="#808080"/>
<path fill="#767676" d="M290.0,540.0 L323.9,540.0 L319.7,552.7 L309.1,565.4 L302.7,582.4 L294.2,573.9 L290.0,565.4Z"/>
<path fill="#898989" d="M323.9,571.8 L338.7,565.4 L351.4,582.4 L353.6,601.4 L343.0,603.6 L330.3,590.9Z"/>
<path fill="#505050" d="M290.0,557.0 L298.5,569.7 L307.0,588.7 L315.4,609.9 L332.4,622.6 L349.3,629.0 L359.9,633.2 L353.6,624.8 L336.6,616.3 L323.9,603.6 L315.4,586.6 L307.0,569.7 L298.5,552.7 L290.0,546.4Z"/>
<path fill="#6d6d6d" d="M302.7,582.4 L315.4,593.0 L326.0,605.7 L345.1,609.9 L359.9,620.5 L353.6,609.9 L336.6,603.6 L323.9,595.1 L311.2,578.1Z"/>
<path fill="#050505" d="M337.7,540.0 L344.0,540.0 L353.6,567.5 L363.1,580.3 L357.8,583.4 L347.2,567.5Z M343.0,540.0 L362.0,540.0 L366.3,565.4 L359.9,576.0 L351.4,561.2Z"/>
<path fill="#767676" d="M317.5,609.9 L345.1,605.7 L370.5,609.9 L389.6,620.5 L400.2,633.2 L406.5,650.2 L408.7,667.1 L387.5,668.2 L381.1,654.4 L370.5,641.7 L359.9,633.2 L349.3,629.0 L332.4,622.6 L317.5,618.4Z"/>
<path fill="#898989" d="M359.9,614.2 L374.8,614.2 L379.0,624.8 L366.3,624.8Z"/>
<path fill="#505050" d="M391.7,637.5 L400.2,639.6 L402.3,662.9 L395.9,662.9Z"/>
<path fill="#9c9c9c" d="M370.5,567.5 L391.7,552.7 L408.7,565.4 L421.4,582.4 L438.3,605.7 L442.6,624.8 L436.2,629.0 L425.6,616.3 L408.7,612.0 L395.9,603.6 L383.2,593.0 L370.5,582.4Z"/>
<path fill="#808080" d="M381.1,590.9 L395.9,588.7 L404.4,599.3 L391.7,603.6Z"/>
<path fill="#6d6d6d" d="M370.5,548.5 L389.6,544.2 L408.7,552.7 L425.6,561.2 L417.1,565.4 L400.2,559.1 L383.2,557.0Z"/>
<path fill="#a5a5a5" d="M425.6,561.2 L438.3,552.7 L451.0,561.2 L451.0,573.9 L438.3,576.0 L427.7,569.7Z"/>
<path fill="#b8b8b8" d="M383.2,557.0 L387.5,557.0 L393.8,576.0 L404.4,586.6 L406.5,591.9 L401.2,589.8 L391.7,580.3Z"/>
<path fill="#050505" d="M340.2,609.9 L341.0,608.0 L343.0,607.2 L344.9,608.0 L345.7,609.9 L344.9,611.8 L343.0,612.7 L341.0,611.8Z M388.7,625.8 L389.8,623.4 L392.1,622.4 L394.5,623.4 L395.5,625.8 L394.5,628.2 L392.1,629.2 L389.8,628.2Z M414.6,571.8 L415.4,570.0 L417.1,569.2 L418.9,570.0 L419.7,571.8 L418.9,573.6 L417.1,574.3 L415.4,573.6Z"/>
<path fill="#b8b8b8" d="M410.8,615.2 L423.5,614.2 L429.8,622.6 L442.6,620.5 L447.9,624.8 L442.6,633.2 L438.3,645.9 L436.2,658.7 L438.3,665.0 L408.7,667.1 L405.5,654.4 L398.1,633.2 L408.7,639.6 L419.2,645.9 L425.6,637.5 L419.2,626.9Z"/>
<path fill="#a5a5a5" d="M415.0,652.3 L425.6,652.3 L423.5,658.7 L416.1,658.7Z M408.7,641.7 L417.1,645.9 L412.9,650.2 L406.5,648.1Z"/>
<path fill="#d4d4d4" d="M429.8,658.7 L438.3,658.7 L438.3,664.0 L432.0,662.9Z"/>
<path fill="#767676" d="M453.2,552.7 L480.7,552.7 L476.5,569.7 L468.0,586.6 L459.5,603.6 L451.0,603.6 L446.8,582.4 L453.2,576.0Z"/>
<path fill="#afafaf" d="M438.3,629.0 L451.0,624.8 L465.9,624.8 L480.7,631.1 L501.9,639.6 L523.1,650.2 L544.3,667.1 L554.9,684.1 L554.9,701.0 L514.6,701.0 L436.2,671.4 L438.3,658.7 L436.2,645.9Z"/>
<path fill="#9c9c9c" d="M451.0,603.6 L468.0,609.9 L484.9,624.8 L506.1,633.2 L527.3,645.9 L548.5,660.8 L554.9,675.6 L544.3,667.1 L523.1,650.2 L501.9,639.6 L480.7,631.1 L465.9,624.8 L451.0,624.8Z"/>
<path fill="#a5a5a5" d="M444.7,609.9 L453.2,603.6 L459.5,614.2 L451.0,624.8 L442.6,622.6Z"/>
<path fill="#b8b8b8" d="M438.3,667.1 L446.8,658.7 L459.5,654.4 L474.3,645.9 L484.9,637.5 L497.6,639.6 L506.1,648.1 L501.9,654.4 L489.2,658.7 L480.7,667.1 L476.5,679.8 L472.2,686.2Z"/>
<path fill="#c2c2c2" d="M457.4,658.7 L465.9,658.7 L465.9,667.1 L457.4,667.1Z M489.2,641.7 L499.8,643.8 L497.6,650.2 L490.2,650.2Z"/>
<path fill="#808080" d="M501.9,688.3 L523.1,675.6 L544.3,679.8 L554.9,688.3 L554.9,701.0 L514.6,701.0Z"/>
<path fill="#6d6d6d" d="M480.7,609.9 L497.6,620.5 L514.6,633.2 L531.5,641.7 L544.3,650.2 L555.9,654.4 L555.9,667.1 L540.0,658.7 L523.1,650.2 L506.1,639.6 L489.2,629.0 L476.5,618.4Z"/>
<path fill="#505050" d="M455.3,552.7 L555.9,552.7 L555.9,633.2 L544.3,637.5 L533.7,629.0 L523.1,620.5 L510.4,607.8 L497.6,595.1 L489.2,582.4 L476.5,573.9 L468.0,586.6 L459.5,582.4Z"/>
<path fill="#5a5a5a" d="M501.9,561.2 L523.1,559.1 L544.3,565.4 L550.6,593.0 L540.0,609.9 L523.1,603.6 L510.4,586.6Z"/>
<path fill="#6d6d6d" d="M506.1,576.0 L514.6,578.1 L527.3,595.1 L533.7,603.6 L527.3,603.6 L514.6,590.9Z"/>
<path fill="#3d3d3d" d="M472.2,576.0 L484.9,578.1 L493.4,593.0 L484.9,603.6 L472.2,595.1Z"/>
<path fill="#2a2a2a" d="M529.4,563.3 L542.1,561.2 L544.3,578.1 L535.8,586.6 L529.4,576.0Z M474.3,578.1 L480.7,578.1 L478.6,590.9 L474.3,588.7Z"/>
<path fill="#050505" d="M489.6,587.0 L501.0,597.6 L511.6,610.3 L524.8,620.1 L520.1,626.4 L505.7,618.0 L493.8,605.3Z M495.5,593.0 L501.9,593.0 L504.0,599.3 L497.6,599.3Z M541.1,623.7 L551.7,623.7 L551.7,636.4 L541.1,636.4Z M543.6,626.2 L549.6,626.2 L549.6,633.9 L543.6,633.9Z"/>
<path fill="#6d6d6d" d="M453.2,540.0 L555.9,540.0 L555.9,549.5 L453.2,549.5Z"/>
<path fill="#505050" d="M480.7,540.0 L523.1,540.0 L518.8,549.5 L484.9,549.5Z"/>
<path fill="#767676" d="M559.1,552.7 L640.0,552.7 L640.0,729.0 L559.1,729.0Z"/>
<path fill="#505050" d="M559.1,552.7 L586.6,552.7 L603.6,565.4 L607.8,582.4 L595.1,590.9 L582.4,586.6 L571.8,586.6 L559.1,590.9Z"/>
<path fill="#2a2a2a" d="M580.3,567.5 L588.8,565.4 L590.9,573.9 L582.4,576.0Z"/>
<path fill="#050505" d="M559.1,540.0 L640.0,540.0 L640.0,549.5 L559.1,549.5Z M607.8,565.4 L640.0,561.2 L640.0,582.4 L629.0,586.6 L616.3,582.4Z M559.9,593.0 L573.5,589.6 L586.2,599.3 L594.5,612.5 L590.9,628.6 L582.8,633.2 L574.3,641.3 L563.3,645.1 L559.9,633.7Z M561.2,595.1 L572.9,591.9 L584.5,601.4 L591.9,613.1 L588.8,626.9 L581.3,631.1 L572.9,638.5 L564.4,641.7 L561.6,632.2Z"/>
<path fill="#808080" d="M620.5,603.6 L640.0,599.3 L640.0,658.7 L629.0,667.1 L620.5,650.2Z"/>
<path fill="#6d6d6d" d="M599.3,603.6 L612.1,599.3 L616.3,624.8 L607.8,650.2 L599.3,641.7Z"/>
<path fill="#050505" d="M624.8,641.7 L631.1,641.7 L632.2,665.0 L625.8,665.0Z M618.4,601.4 L624.8,601.4 L626.9,614.2 L620.5,614.2Z"/>
<path fill="#2a2a2a" d="M622.7,623.7 L629.0,623.7 L629.0,630.1 L622.7,630.1Z"/>
<path fill="#898989" d="M586.6,675.6 L607.8,667.1 L616.3,684.1 L595.1,688.3Z"/>
<path fill="#929292" d="M607.8,684.1 L640.0,684.1 L640.0,729.0 L620.5,701.0Z"/>
</g>
<clipPath id="tc15"><rect x="540" y="560" width="160" height="189"/></clipPath>
<g clip-path="url(#tc15)">
<rect x="540" y="560" width="160" height="189" fill="#767676"/>
<path fill="#505050" d="M500.0,560.0 L555.1,560.0 L555.1,587.5 L546.6,581.2 L533.9,583.3 L525.4,572.7 L512.7,568.5 L500.0,572.7Z M500.0,572.7 L512.7,568.5 L525.4,572.7 L533.9,583.3 L546.6,581.2 L555.1,587.5 L555.1,623.6 L542.4,621.4 L525.4,610.9 L512.7,598.1 L500.0,587.5Z"/>
<path fill="#6d6d6d" d="M504.2,577.0 L517.0,587.5 L527.5,602.4 L521.2,602.4 L510.6,591.8Z"/>
<path fill="#2a2a2a" d="M529.7,562.1 L540.3,562.1 L538.1,570.6 L531.8,568.5Z M548.7,579.1 L555.1,581.2 L554.0,591.8 L549.8,589.7Z"/>
<path fill="#050505" d="M500.0,592.2 L508.9,600.3 L521.6,612.5 L536.4,623.1 L551.3,629.5 L553.4,640.9 L542.4,644.8 L537.7,635.0 L522.5,624.4 L509.7,613.8 L500.0,604.9Z M542.4,627.8 L550.9,629.9 L549.8,637.3 L543.4,636.3Z"/>
<path fill="#505050" d="M500.0,608.7 L512.7,617.2 L525.4,627.8 L538.1,638.4 L542.4,649.0 L529.7,644.8 L517.0,636.3 L500.0,623.6Z"/>
<path fill="#6d6d6d" d="M500.0,621.4 L514.8,634.2 L531.8,646.9 L548.7,655.3 L555.5,661.7 L555.5,670.2 L542.4,665.9 L525.4,655.3 L508.5,642.6 L500.0,634.2Z"/>
<path fill="#9c9c9c" d="M500.0,632.0 L517.0,644.8 L533.9,655.3 L550.9,663.8 L555.1,678.7 L542.4,678.7 L521.2,661.7 L500.0,649.0Z"/>
<path fill="#afafaf" d="M500.0,649.0 L517.0,661.7 L525.4,678.7 L512.7,695.6 L500.0,693.5Z"/>
<path fill="#808080" d="M521.2,661.7 L542.4,678.7 L555.1,678.7 L555.1,698.8 L512.7,698.8 L525.4,680.8Z"/>
<path fill="#505050" d="M558.3,560.0 L589.0,560.0 L593.2,574.8 L584.8,583.3 L569.9,583.3 L558.3,589.7Z"/>
<path fill="#3d3d3d" d="M561.4,562.1 L580.5,562.1 L582.6,574.8 L572.0,581.2 L562.5,577.0Z"/>
<path fill="#505050" d="M665.3,579.1 L675.9,566.4 L682.2,566.4 L682.2,583.3 L669.5,587.5Z M590.1,572.7 L605.9,591.8 L615.5,583.3 L625.4,593.9 L637.7,591.8 L648.3,587.5 L661.0,583.3 L671.6,574.8 L680.1,568.5 L682.2,581.2 L667.4,591.8 L652.6,596.0 L639.8,601.3 L625.0,603.4 L615.5,593.9 L605.9,602.4 L589.0,589.7Z"/>
<path fill="#050505" d="M589.0,560.0 L593.2,578.6 L605.7,584.8 L615.1,575.7 L625.9,586.5 L636.7,584.8 L642.8,578.6 L652.1,577.2 L661.5,578.6 L670.8,571.0 L675.9,560.0Z M592.2,574.8 L605.7,581.2 L615.1,572.3 L625.9,582.9 L636.7,581.2 L642.8,575.3 L652.1,573.8 L661.5,575.3 L669.5,568.5 L672.7,572.7 L662.1,582.2 L652.1,580.8 L644.1,582.2 L637.3,588.6 L625.4,590.1 L615.5,579.5 L605.9,588.6 L592.4,582.2Z M599.6,581.2 L605.9,586.5 L615.5,578.0 L625.4,588.6 L637.3,587.1 L646.2,581.2 L648.3,586.5 L637.7,591.8 L625.0,592.8 L615.5,583.3 L605.9,591.8 L597.5,586.5Z M559.3,589.2 L571.6,585.0 L591.5,589.2 L597.5,598.6 L593.2,612.5 L595.3,629.5 L590.3,642.6 L584.3,653.2 L574.6,654.9 L564.4,646.4 L559.8,629.5Z M560.4,591.8 L569.9,585.4 L589.0,589.7 L595.3,598.1 L591.1,610.9 L584.8,617.2 L593.2,627.8 L589.0,638.4 L580.5,642.6 L569.9,636.3 L563.6,623.6 L560.4,610.9Z"/>
<path fill="#505050" d="M561.4,659.6 L574.2,663.8 L586.9,661.7 L593.2,651.1 L599.6,634.2 L605.9,640.5 L599.6,659.6 L589.0,670.2 L572.0,672.3 L563.6,668.1Z"/>
<path fill="#808080" d="M595.3,613.0 L605.9,623.6 L614.4,649.0 L618.7,670.2 L610.2,682.9 L599.6,665.9 L593.2,644.8Z"/>
<path fill="#505050" d="M605.9,596.0 L618.7,591.8 L631.4,598.1 L639.8,606.6 L644.1,623.6 L639.8,640.5 L631.4,649.0 L618.7,644.8 L610.2,627.8 L605.9,613.0Z"/>
<path fill="#2a2a2a" d="M610.2,596.0 L618.7,593.9 L627.1,602.4 L629.2,615.1 L622.9,623.6 L616.5,615.1 L612.3,604.5Z"/>
<path fill="#050505" d="M618.7,601.3 L624.0,601.3 L626.1,615.1 L620.8,616.1Z"/>
<path fill="#2a2a2a" d="M624.0,622.5 L631.4,623.6 L630.3,629.9 L625.0,628.9Z"/>
<path fill="#050505" d="M624.0,642.6 L632.4,643.7 L634.5,665.9 L626.1,667.0Z"/>
<path fill="#6d6d6d" d="M646.2,585.4 L665.3,581.2 L682.2,585.4 L682.2,629.9 L669.5,623.6 L656.8,606.6 L648.3,596.0Z"/>
<path fill="#808080" d="M639.8,629.9 L656.8,613.0 L669.5,623.6 L682.2,632.0 L682.2,684.0 L648.3,684.0 L644.1,657.5Z"/>
<path fill="#898989" d="M648.3,644.8 L661.0,636.3 L669.5,649.0 L682.2,657.5 L682.2,674.4 L669.5,670.2 L656.8,665.9 L648.3,657.5Z"/>
<path fill="#929292" d="M652.6,670.2 L665.3,663.8 L682.2,674.4 L682.2,684.0 L652.6,684.0Z"/>
<path fill="#808080" d="M559.3,674.4 L605.9,674.4 L608.1,685.0 L574.2,689.2 L574.2,699.8 L557.2,699.8Z"/>
<path fill="#636363" d="M684.3,566.4 L703.4,566.4 L703.4,581.2 L684.3,589.7Z"/>
<path fill="#6d6d6d" d="M684.3,589.7 L703.4,581.2 L703.4,623.6 L684.3,629.9Z"/>
<path fill="#767676" d="M684.3,629.9 L703.4,623.6 L703.4,644.8 L684.3,649.0Z"/>
<path fill="#808080" d="M684.3,649.0 L703.4,644.8 L703.4,653.2 L684.3,659.6Z"/>
<path fill="#898989" d="M684.3,659.6 L703.4,653.2 L703.4,665.9 L684.3,674.4Z"/>
<path fill="#929292" d="M684.3,674.4 L703.4,665.9 L703.4,749.0 L684.3,749.0Z M608.1,685.0 L700.0,685.0 L700.0,749.0 L648.3,749.0Z"/>
<path fill="#808080" d="M614.4,687.1 L631.4,687.1 L648.3,697.7 L656.8,712.6 L669.5,721.0 L682.2,727.4 L669.5,735.9 L656.8,729.5 L648.3,716.8 L635.6,704.1 L622.9,695.6Z"/>
<path fill="#898989" d="M627.1,689.2 L644.1,699.8 L652.6,712.6 L646.2,712.6 L635.6,702.0Z"/>
<path fill="#767676" d="M655.7,714.7 L664.2,714.7 L665.3,725.3 L656.8,727.4Z"/>
<path fill="#9c9c9c" d="M652.6,740.1 L669.5,738.0 L686.5,729.5 L700.0,725.3 L700.0,749.0 L652.6,749.0Z"/>
<path fill="#a5a5a5" d="M656.8,746.5 L700.0,738.0 L700.0,749.0Z"/>
</g>
<clipPath id="tc16"><rect x="550" y="749" width="150" height="143"/></clipPath>
<g clip-path="url(#tc16)">
<rect x="550" y="749" width="150" height="143" fill="#9c9c9c"/>
<path fill="#929292" d="M613.6,703.0 L702.6,703.0 L702.6,745.4 L677.1,751.7 L655.9,745.4 L634.8,736.9 L619.9,720.0Z"/>
<path fill="#808080" d="M630.5,724.2 L643.2,728.4 L660.2,745.4 L672.9,758.1 L664.4,766.6 L651.7,758.1 L639.0,745.4Z"/>
<path fill="#767676" d="M649.6,736.9 L658.1,736.9 L660.2,749.6 L651.7,751.7Z"/>
<path fill="#a5a5a5" d="M645.3,772.9 L668.7,766.6 L685.6,768.7 L702.6,766.6 L702.6,787.8 L668.7,792.0 L649.6,787.8Z"/>
<path fill="#afafaf" d="M649.6,787.8 L668.7,783.5 L702.6,779.3 L702.6,808.9 L655.9,808.9Z"/>
<path fill="#b8b8b8" d="M660.2,802.6 L668.7,796.2 L675.0,800.5 L677.1,813.2 L664.4,813.2Z"/>
</g>
<clipPath id="tc17"><rect x="700" y="480" width="500" height="270"/></clipPath>
<g clip-path="url(#tc17)">
<rect x="700" y="480" width="500" height="270" fill="#5a5a5a"/>
<path fill="#505050" d="M1008.7,480.0 L1011.8,498.2 L1033.0,504.2 L1051.1,498.2 L1069.3,495.1 L1093.5,507.2 L1111.7,513.3 L1123.8,528.4 L1135.9,540.5 L1154.0,537.5 L1172.2,525.4 L1200.0,516.3 L1200.0,480.0Z"/>
<path fill="#474747" d="M1069.3,480.0 L1075.3,489.1 L1093.5,495.1 L1117.7,492.1 L1138.9,486.1 L1154.0,480.0Z M1117.7,513.3 L1141.9,504.2 L1160.1,492.1 L1172.2,498.2 L1154.0,522.4 L1132.8,537.5 L1123.8,528.4Z"/>
<path fill="#636363" d="M700.0,545.1 L712.1,531.5 L718.2,525.4 L736.3,513.3 L739.3,493.6 L769.6,489.1 L778.7,480.0 L857.4,480.0 L863.5,495.1 L881.6,501.2 L896.7,496.6 L911.9,495.1 L924.0,507.2 L942.2,510.3 L951.2,504.2 L960.3,507.2 L969.4,510.3 L984.5,505.7 L999.7,508.8 L1011.8,504.2 L1020.9,511.8 L1039.0,522.4 L1057.2,516.3 L1078.4,522.4 L1093.5,528.4 L1108.6,540.5 L1123.8,543.6 L1135.9,549.6 L1123.8,558.7 L1200.0,558.7 L1200.0,750.0 L700.0,750.0Z"/>
<path fill="#5a5a5a" d="M924.0,510.3 L939.1,507.2 L945.2,525.4 L933.1,534.5 L921.0,525.4Z M1033.0,531.5 L1045.1,528.4 L1048.1,540.5 L1036.0,543.6Z M1078.4,534.5 L1090.5,531.5 L1090.5,543.6 L1081.4,545.1Z"/>
<path fill="#3d3d3d" d="M700.0,480.0 L775.7,480.0 L769.6,489.1 L739.3,492.1 L736.3,513.3 L718.2,525.4 L715.1,537.5 L700.0,540.5Z"/>
<path fill="#6d6d6d" d="M690.9,555.7 L700.0,555.7 L715.1,551.1 L739.3,546.6 L751.5,540.5 L772.6,537.5 L775.7,525.4 L790.8,519.3 L805.9,517.8 L821.1,522.4 L830.2,531.5 L842.3,525.4 L857.4,526.9 L865.0,525.4 L869.5,531.5 L881.6,528.4 L887.7,540.5 L881.6,552.6 L893.7,555.7 L911.9,552.6 L936.1,552.6 L948.2,546.6 L963.3,545.1 L969.4,534.5 L960.3,525.4 L951.2,516.3 L945.2,507.2 L951.2,504.2 L960.3,510.3 L966.4,522.4 L981.5,525.4 L990.6,537.5 L1002.7,531.5 L1020.9,534.5 L1039.0,540.5 L1048.1,552.6 L1063.2,557.2 L1081.4,560.2 L1123.8,559.3 L1154.0,561.7 L1200.0,552.6 L1209.1,552.6 L1209.1,759.1 L690.9,759.1Z M790.8,495.1 L805.9,493.6 L807.5,504.2 L799.9,510.3 L792.3,504.2Z"/>
<path fill="#767676" d="M690.9,601.1 L700.0,601.1 L718.2,595.0 L730.3,579.9 L745.4,570.8 L748.4,555.7 L775.7,554.2 L805.9,555.7 L836.2,554.2 L860.4,555.7 L865.0,567.8 L869.5,579.9 L881.6,585.9 L899.8,589.0 L917.9,582.9 L936.1,579.9 L951.2,576.9 L960.3,567.8 L972.4,564.8 L1002.7,566.3 L1017.8,579.9 L1033.0,570.8 L1048.1,582.9 L1045.1,595.0 L1057.2,601.1 L1075.3,604.1 L1087.4,613.2 L1102.6,607.1 L1117.7,601.1 L1132.8,595.0 L1154.0,582.9 L1172.2,576.9 L1200.0,570.8 L1209.1,570.8 L1209.1,759.1 L690.9,759.1Z"/>
<path fill="#636363" d="M878.6,576.9 L887.7,572.3 L893.7,579.9 L902.8,582.9 L896.7,587.5 L884.6,584.4Z"/>
<path fill="#808080" d="M690.9,622.3 L700.0,622.3 L715.1,619.2 L730.3,613.2 L748.4,607.1 L766.6,601.1 L784.8,595.0 L799.9,582.9 L821.1,576.9 L830.2,585.9 L845.3,595.0 L860.4,601.1 L869.5,607.1 L887.7,601.1 L905.8,598.0 L924.0,601.1 L942.2,595.0 L954.3,585.9 L966.4,579.9 L978.5,589.0 L996.6,592.0 L1014.8,598.0 L1033.0,604.1 L1051.1,607.1 L1063.2,616.2 L1081.4,622.3 L1099.6,613.2 L1117.7,607.1 L1135.9,604.1 L1154.0,598.0 L1172.2,592.0 L1200.0,582.9 L1209.1,582.9 L1209.1,759.1 L690.9,759.1Z"/>
<path fill="#898989" d="M690.9,637.4 L700.0,637.4 L718.2,631.3 L730.3,622.3 L745.4,616.2 L760.5,622.3 L778.7,625.3 L799.9,628.3 L821.1,622.3 L839.2,616.2 L851.3,610.2 L863.5,619.2 L872.5,634.4 L887.7,631.3 L905.8,625.3 L917.9,610.2 L936.1,601.1 L948.2,610.2 L960.3,619.2 L978.5,623.8 L996.6,629.8 L1014.8,634.4 L1033.0,637.4 L1051.1,640.4 L1069.3,641.9 L1087.4,634.4 L1105.6,625.3 L1123.8,622.3 L1141.9,616.2 L1160.1,610.2 L1178.3,613.2 L1200.0,607.1 L1209.1,607.1 L1209.1,759.1 L690.9,759.1Z"/>
<path fill="#929292" d="M690.9,667.7 L700.0,667.7 L712.1,658.6 L724.2,643.5 L742.4,634.4 L760.5,634.4 L778.7,637.4 L799.9,643.5 L821.1,640.4 L839.2,634.4 L857.4,637.4 L872.5,643.5 L881.6,652.5 L905.8,649.5 L924.0,643.5 L936.1,634.4 L951.2,640.4 L966.4,655.6 L984.5,652.5 L1002.7,658.6 L1020.9,652.5 L1039.0,658.6 L1057.2,667.7 L1075.3,658.6 L1093.5,652.5 L1111.7,652.5 L1129.8,649.5 L1148.0,643.5 L1166.1,637.4 L1184.3,631.3 L1200.0,625.3 L1209.1,625.3 L1209.1,759.1 L690.9,759.1Z"/>
<path fill="#9c9c9c" d="M690.9,685.8 L700.0,685.8 L718.2,679.8 L736.3,673.7 L754.5,676.7 L772.6,685.8 L790.8,688.9 L809.0,682.8 L827.1,685.8 L845.3,691.9 L863.5,688.9 L881.6,685.8 L899.8,676.7 L917.9,673.7 L936.1,673.7 L954.3,679.8 L972.4,685.8 L990.6,682.8 L1008.7,679.8 L1026.9,682.8 L1045.1,685.8 L1063.2,682.8 L1081.4,676.7 L1099.6,673.7 L1117.7,673.7 L1135.9,667.7 L1154.0,661.6 L1172.2,658.6 L1200.0,649.5 L1209.1,649.5 L1209.1,759.1 L690.9,759.1Z"/>
<path fill="#a5a5a5" d="M690.9,710.0 L700.0,710.0 L724.2,707.0 L748.4,710.0 L772.6,713.1 L796.9,713.1 L821.1,710.0 L845.3,713.1 L869.5,710.0 L893.7,704.0 L917.9,701.0 L942.2,704.0 L966.4,707.0 L990.6,707.0 L1014.8,704.0 L1039.0,707.0 L1063.2,704.0 L1087.4,701.0 L1111.7,697.9 L1135.9,691.9 L1154.0,688.9 L1172.2,682.8 L1200.0,676.7 L1209.1,676.7 L1209.1,759.1 L690.9,759.1Z"/>
<path fill="#afafaf" d="M690.9,731.2 L700.0,731.2 L730.3,728.2 L760.5,731.2 L790.8,734.3 L821.1,731.2 L851.3,728.2 L881.6,725.2 L911.9,725.2 L942.2,725.2 L972.4,722.2 L1002.7,722.2 L1033.0,719.1 L1063.2,719.1 L1093.5,719.1 L1123.8,719.1 L1135.9,716.1 L1141.9,710.0 L1200.0,704.0 L1209.1,704.0 L1209.1,759.1 L690.9,759.1Z"/>
<path fill="#b8b8b8" d="M700.0,752.4 L709.1,746.4 L730.3,747.9 L760.5,746.4 L790.8,747.9 L821.1,743.3 L830.2,737.3 L845.3,734.3 L857.4,740.3 L869.5,737.3 L881.6,737.3 L893.7,740.3 L911.9,737.3 L930.0,734.3 L948.2,728.2 L963.3,731.2 L972.4,752.4Z M1117.7,752.4 L1123.8,734.3 L1135.9,722.2 L1145.0,719.1 L1148.0,752.4Z"/>
<path fill="#636363" d="M1045.1,564.8 L1081.4,560.2 L1123.8,540.5 L1135.9,549.6 L1123.8,559.3 L1135.9,563.2 L1123.8,579.9 L1102.6,601.1 L1081.4,616.2 L1069.3,613.2 L1048.1,601.1 L1042.0,582.9Z"/>
<path fill="#5a5a5a" d="M1051.1,576.9 L1072.3,567.8 L1102.6,564.8 L1090.5,582.9 L1075.3,601.1 L1057.2,598.0Z"/>
<path fill="#505050" d="M1075.3,604.1 L1093.5,595.0 L1117.7,579.9 L1132.8,564.8 L1154.0,546.6 L1172.2,525.4 L1190.4,504.2 L1200.0,492.1 L1200.0,513.3 L1184.3,531.5 L1166.1,552.6 L1145.0,570.8 L1129.8,589.0 L1105.6,604.1 L1090.5,614.7 L1078.4,613.2Z"/>
<path fill="#2a2a2a" d="M1087.4,602.6 L1105.6,592.0 L1123.8,576.9 L1138.9,561.7 L1157.1,545.1 L1175.2,525.4 L1191.9,505.7 L1200.0,496.6 L1200.0,507.2 L1181.3,529.9 L1163.1,549.6 L1143.4,567.8 L1126.8,584.4 L1105.6,599.6 L1090.5,608.6Z"/>
<path fill="#050505" d="M1117.7,584.4 L1135.9,567.8 L1154.0,551.1 L1172.2,531.5 L1184.3,516.3 L1188.8,520.9 L1175.2,536.0 L1157.1,554.2 L1138.9,570.8 L1122.3,585.9Z"/>
</g>
<clipPath id="tc18"><rect x="1100" y="400" width="210" height="189"/></clipPath>
<g clip-path="url(#tc18)">
<rect x="1100" y="400" width="210" height="189" fill="#505050"/>
<path fill="#3d3d3d" d="M1100.0,400.0 L1159.3,400.0 L1159.3,480.5 L1150.9,484.8 L1142.4,491.1 L1131.8,499.6 L1121.2,505.9 L1112.7,510.2 L1100.0,505.9Z"/>
<path fill="#474747" d="M1106.4,442.4 L1119.1,438.1 L1131.8,450.9 L1125.4,463.6 L1110.6,461.4Z M1131.8,469.9 L1148.7,463.6 L1155.1,476.3 L1142.4,484.8 L1133.9,480.5Z M1100.0,461.4 L1121.2,465.7 L1142.4,463.6 L1155.5,469.9 L1150.9,484.8 L1131.8,499.6 L1112.7,510.2 L1100.0,505.9Z"/>
<path fill="#505050" d="M1100.0,480.5 L1121.2,483.7 L1138.1,486.9 L1131.8,499.6 L1112.7,510.2 L1100.0,505.9Z"/>
<path fill="#343434" d="M1112.7,459.3 L1118.0,447.7 L1125.4,442.4 L1129.7,450.9 L1125.4,461.4 L1118.0,465.7Z"/>
<path fill="#2a2a2a" d="M1138.1,431.8 L1148.7,425.4 L1159.3,421.2 L1159.3,459.3 L1153.0,453.0 L1144.5,446.6 L1139.2,440.3Z"/>
<path fill="#5a5a5a" d="M1100.0,531.4 L1117.0,518.7 L1127.5,527.1 L1121.2,544.1 L1108.5,552.6 L1100.0,548.3Z"/>
<path fill="#474747" d="M1112.7,489.0 L1129.7,484.8 L1142.4,495.3 L1131.8,510.2 L1119.1,505.9Z"/>
<path fill="#212121" d="M1159.3,412.7 L1174.2,421.2 L1172.0,431.8 L1189.0,438.1 L1201.7,440.3 L1218.7,438.1 L1237.7,431.8 L1248.3,431.8 L1256.8,440.3 L1267.4,446.6 L1275.9,440.3 L1275.9,450.9 L1265.3,455.1 L1248.3,453.0 L1231.4,448.7 L1218.7,455.1 L1205.9,463.6 L1193.2,472.0 L1184.8,480.5 L1172.0,480.5 L1178.4,467.8 L1184.8,459.3 L1180.5,450.9 L1169.9,448.7 L1160.4,455.1Z"/>
<path fill="#343434" d="M1163.6,425.4 L1172.0,433.9 L1184.8,440.3 L1182.6,448.7 L1169.9,446.6 L1161.4,450.9Z"/>
<path fill="#050505" d="M1174.2,420.1 L1265.3,420.1 L1273.7,425.4 L1275.9,438.1 L1267.4,444.5 L1256.8,438.1 L1248.3,429.7 L1237.7,429.7 L1218.7,436.0 L1201.7,438.1 L1189.0,436.0 L1176.3,431.8 L1172.0,425.4Z M1176.3,429.7 L1189.0,433.9 L1201.7,436.0 L1218.7,433.9 L1237.7,427.5 L1248.3,427.5 L1256.8,436.0 L1267.4,442.4 L1269.5,447.7 L1256.8,443.4 L1248.3,433.9 L1237.7,433.9 L1218.7,440.3 L1201.7,442.4 L1189.0,440.3 L1174.2,435.0Z M1174.2,417.0 L1189.0,404.2 L1218.7,400.0 L1290.7,400.0 L1294.9,419.1 L1280.1,433.9 L1275.9,427.5 L1267.4,419.1 L1174.2,419.1Z"/>
<path fill="#212121" d="M1174.2,415.9 L1189.0,404.2 L1201.7,402.1 L1197.5,408.5 L1184.8,414.8 L1178.4,420.1Z"/>
<path fill="#050505" d="M1182.6,476.3 L1191.1,465.7 L1201.7,455.1 L1212.3,446.6 L1215.5,449.8 L1205.9,458.3 L1195.3,469.9 L1186.9,478.4Z"/>
<path fill="#3d3d3d" d="M1160.4,455.1 L1169.9,449.8 L1180.5,451.9 L1183.7,460.4 L1177.3,468.9 L1171.0,480.5 L1160.4,480.5Z M1205.9,463.6 L1218.7,455.1 L1231.4,449.8 L1248.3,454.0 L1239.8,461.4 L1227.1,463.6 L1214.4,472.0 L1205.9,472.0Z"/>
<path fill="#474747" d="M1214.4,472.0 L1227.1,463.6 L1248.3,459.3 L1269.5,457.2 L1278.0,463.6 L1265.3,469.9 L1248.3,469.9 L1231.4,474.2Z"/>
<path fill="#5a5a5a" d="M1216.5,482.6 L1258.9,481.6 L1248.3,491.1 L1235.6,499.6 L1227.1,510.2 L1220.8,499.6 L1214.4,489.0Z"/>
<path fill="#2a2a2a" d="M1140.3,535.6 L1150.9,518.7 L1163.6,505.9 L1174.2,493.2 L1180.5,482.6 L1189.0,482.6 L1197.5,486.9 L1189.0,499.6 L1178.4,514.4 L1167.8,527.1 L1155.1,537.7 L1144.5,542.0Z"/>
<path fill="#343434" d="M1148.7,527.1 L1159.3,514.4 L1167.8,505.9 L1171.0,509.1 L1162.5,518.7 L1153.0,531.4Z"/>
<path fill="#050505" d="M1161.4,520.8 L1172.0,505.9 L1180.5,495.3 L1183.7,498.5 L1175.2,510.2 L1164.6,524.0Z"/>
<path fill="#3d3d3d" d="M1169.9,535.6 L1184.8,518.7 L1197.5,501.7 L1205.9,493.2 L1210.2,497.5 L1199.6,512.3 L1184.8,531.4 L1174.2,542.0Z"/>
<path fill="#636363" d="M1201.7,510.2 L1214.4,495.3 L1227.1,510.2 L1222.9,518.7 L1218.7,531.4 L1201.7,542.0 L1189.0,552.6 L1180.5,561.0 L1163.6,561.0 L1172.0,548.3 L1184.8,535.6 L1193.2,522.9Z"/>
<path fill="#6d6d6d" d="M1220.8,522.9 L1231.4,518.7 L1246.2,520.8 L1254.7,531.4 L1254.7,548.3 L1258.9,563.2 L1180.5,563.2 L1189.0,552.6 L1201.7,542.0 L1218.7,531.4Z"/>
<path fill="#636363" d="M1258.9,482.6 L1269.5,484.8 L1273.7,501.7 L1269.5,518.7 L1261.0,518.7 L1258.9,501.7Z"/>
<path fill="#6d6d6d" d="M1248.3,518.7 L1267.4,520.8 L1261.0,535.6 L1252.6,548.3Z"/>
<path fill="#5a5a5a" d="M1280.1,455.1 L1290.7,453.0 L1290.7,472.0 L1282.2,484.8 L1275.9,480.5 L1282.2,467.8Z"/>
<path fill="#343434" d="M1278.0,440.3 L1286.5,431.8 L1297.1,442.4 L1290.7,448.7 L1280.1,450.9Z"/>
<path fill="#2a2a2a" d="M1284.3,429.7 L1294.9,417.0 L1299.2,400.0 L1307.6,400.0 L1303.4,421.2 L1299.2,442.4 L1290.7,446.6Z"/>
<path fill="#050505" d="M1307.6,400.0 L1339.4,400.0 L1339.4,408.5 L1322.5,412.7 L1309.8,410.6Z"/>
<path fill="#2a2a2a" d="M1303.4,421.2 L1309.8,410.6 L1322.5,412.7 L1339.4,408.5 L1354.3,400.0 L1367.0,404.2 L1362.7,421.2 L1354.3,433.9 L1339.4,438.1 L1303.4,444.5Z"/>
<path fill="#474747" d="M1316.1,421.2 L1326.7,421.2 L1326.7,436.0 L1303.4,444.5 L1307.6,436.0 L1316.1,433.9Z M1294.9,455.1 L1339.4,442.4 L1341.5,445.6 L1297.1,458.3Z"/>
<path fill="#6d6d6d" d="M1136.0,564.2 L1265.3,564.2 L1265.3,590.7 L1121.2,590.7Z"/>
<path fill="#767676" d="M1129.7,590.7 L1142.4,582.2 L1163.6,575.9 L1184.8,569.5 L1201.7,571.6 L1218.7,575.9 L1237.7,578.0 L1252.6,582.2 L1261.0,590.7Z"/>
<path fill="#5a5a5a" d="M1100.0,564.2 L1136.0,564.2 L1125.4,575.9 L1112.7,584.3 L1100.0,590.7Z"/>
<path fill="#2a2a2a" d="M1121.2,569.5 L1136.0,563.2 L1140.3,567.4 L1125.4,578.0 L1112.7,586.5 L1106.4,584.3Z"/>
</g>
<clipPath id="tc19"><rect x="1050" y="540" width="350" height="189"/></clipPath>
<g clip-path="url(#tc19)">
<rect x="1050" y="540" width="350" height="189" fill="#6d6d6d"/>
<path fill="#636363" d="M1050.0,540.0 L1119.9,540.0 L1109.3,548.5 L1092.4,559.1 L1071.2,560.1 L1050.0,560.1Z"/>
<path fill="#5a5a5a" d="M1050.0,540.0 L1075.4,540.0 L1069.1,548.5 L1056.4,552.7 L1050.0,550.6Z M1088.1,540.0 L1105.1,540.0 L1098.7,548.5 L1088.1,550.6Z"/>
<path fill="#636363" d="M1050.0,567.5 L1062.7,563.3 L1077.5,567.5 L1092.4,571.8 L1081.8,582.4 L1071.2,593.0 L1058.5,601.4 L1050.0,601.4Z"/>
<path fill="#5a5a5a" d="M1054.2,573.9 L1067.0,569.7 L1077.5,573.9 L1069.1,586.6 L1058.5,593.0Z"/>
<path fill="#6d6d6d" d="M1050.0,582.4 L1058.5,578.1 L1062.7,582.4 L1054.2,590.9 L1050.0,590.9Z"/>
<path fill="#636363" d="M1168.7,540.0 L1198.3,540.0 L1187.7,548.5 L1177.1,559.1 L1155.9,561.2 L1160.2,552.7Z"/>
<path fill="#767676" d="M1043.6,620.5 L1050.0,620.5 L1062.7,624.8 L1075.4,622.6 L1092.4,620.5 L1105.1,609.9 L1119.9,603.6 L1139.0,595.1 L1155.9,588.7 L1164.4,578.1 L1181.4,571.8 L1198.3,569.7 L1219.5,569.7 L1234.3,571.8 L1240.7,576.0 L1266.1,576.0 L1406.4,576.0 L1406.4,735.4 L1043.6,735.4Z"/>
<path fill="#808080" d="M1043.6,629.0 L1050.0,629.0 L1067.0,633.2 L1083.9,629.0 L1100.9,624.8 L1105.1,612.0 L1119.9,607.8 L1139.0,605.7 L1151.7,601.4 L1168.7,595.1 L1185.6,590.9 L1202.6,582.4 L1219.5,578.1 L1236.5,582.4 L1266.1,582.4 L1406.4,582.4 L1406.4,735.4 L1043.6,735.4Z"/>
<path fill="#898989" d="M1043.6,639.6 L1050.0,639.6 L1062.7,645.9 L1079.7,639.6 L1096.6,633.2 L1113.6,629.0 L1130.5,624.8 L1143.2,620.5 L1155.9,612.0 L1168.7,603.6 L1181.4,599.3 L1194.1,595.1 L1211.0,597.2 L1223.7,590.9 L1240.7,588.7 L1266.1,588.7 L1406.4,588.7 L1406.4,735.4 L1043.6,735.4Z"/>
<path fill="#929292" d="M1043.6,667.1 L1050.0,667.1 L1062.7,665.0 L1075.4,660.8 L1092.4,654.4 L1109.3,648.1 L1122.0,643.8 L1134.8,637.5 L1143.2,629.0 L1155.9,629.0 L1164.4,635.3 L1168.7,641.7 L1181.4,641.7 L1194.1,639.6 L1198.3,635.3 L1219.5,635.3 L1406.4,635.3 L1406.4,735.4 L1043.6,735.4Z M1168.7,624.8 L1177.1,624.8 L1175.0,630.1 L1170.8,629.0Z"/>
<path fill="#9c9c9c" d="M1043.6,679.8 L1050.0,679.8 L1067.0,675.6 L1083.9,671.4 L1100.9,667.1 L1117.8,667.1 L1134.8,665.0 L1147.5,658.7 L1160.2,654.4 L1172.9,652.3 L1185.6,650.2 L1198.3,645.9 L1406.4,645.9 L1406.4,735.4 L1043.6,735.4Z"/>
<path fill="#a5a5a5" d="M1043.6,692.6 L1050.0,692.6 L1067.0,688.3 L1083.9,686.2 L1100.9,684.1 L1117.8,684.1 L1134.8,686.2 L1143.2,684.1 L1151.7,677.7 L1168.7,667.1 L1406.4,667.1 L1406.4,735.4 L1043.6,735.4Z"/>
<path fill="#afafaf" d="M1043.6,711.6 L1050.0,711.6 L1067.0,707.4 L1083.9,707.4 L1100.9,707.4 L1113.6,705.3 L1126.3,707.4 L1139.0,707.4 L1147.5,701.0 L1406.4,701.0 L1406.4,735.4 L1043.6,735.4Z"/>
<path fill="#b8b8b8" d="M1128.4,730.7 L1131.6,722.2 L1136.9,718.0 L1141.1,730.7Z"/>
<path fill="#505050" d="M1077.5,601.4 L1092.4,588.7 L1109.3,578.1 L1124.2,565.4 L1134.8,552.7 L1145.3,540.0 L1168.7,540.0 L1160.2,552.7 L1147.5,563.3 L1134.8,576.0 L1119.9,588.7 L1103.0,601.4 L1090.3,609.9 L1081.8,607.8Z"/>
<path fill="#5a5a5a" d="M1077.5,609.9 L1092.4,605.7 L1105.1,609.9 L1092.4,618.4 L1079.7,620.5Z"/>
<path fill="#3d3d3d" d="M1119.9,540.0 L1134.8,540.0 L1130.5,548.5 L1122.0,546.4Z"/>
<path fill="#2a2a2a" d="M1092.4,599.3 L1107.2,586.6 L1122.0,576.0 L1132.6,565.4 L1136.9,567.5 L1126.3,580.3 L1111.4,590.9 L1098.7,601.4Z"/>
<path fill="#050505" d="M1103.0,596.1 L1113.6,586.6 L1117.8,589.8 L1107.2,598.3Z"/>
<path fill="#2a2a2a" d="M1130.5,550.6 L1145.3,544.2 L1160.2,546.4 L1149.6,554.8 L1134.8,557.0Z"/>
<path fill="#050505" d="M1139.0,550.6 L1147.5,547.4 L1151.7,549.5 L1143.2,553.1Z"/>
</g>
<clipPath id="tc20"><rect x="700" y="733" width="350" height="159"/></clipPath>
<g clip-path="url(#tc20)">
<rect x="700" y="733" width="350" height="159" fill="#9c9c9c"/>
<path fill="#929292" d="M700.0,703.0 L805.9,703.0 L795.3,715.7 L774.2,728.4 L753.0,734.8 L721.2,728.4 L700.0,724.2Z"/>
<path fill="#a5a5a5" d="M693.6,726.3 L700.0,726.3 L721.2,732.7 L742.4,736.9 L763.6,732.7 L784.8,728.4 L805.9,722.1 L827.1,716.8 L848.3,713.6 L869.5,711.5 L882.2,709.4 L901.3,707.7 L922.5,707.7 L943.7,706.2 L964.9,704.7 L996.6,703.0 L1050.0,703.0 L1056.4,703.0 L1056.4,898.4 L693.6,898.4Z"/>
<path fill="#afafaf" d="M693.6,734.8 L700.0,734.8 L717.0,738.0 L731.8,745.4 L753.0,747.9 L774.2,742.2 L795.3,738.0 L810.2,733.7 L827.1,729.5 L844.1,725.2 L861.0,722.1 L882.2,718.9 L901.3,716.8 L922.5,718.9 L943.7,723.1 L964.9,721.0 L975.4,723.1 L996.6,723.1 L1050.0,723.1 L1056.4,723.1 L1056.4,898.4 L693.6,898.4Z"/>
<path fill="#b8b8b8" d="M721.2,744.3 L738.1,749.2 L759.3,751.3 L780.5,746.0 L795.3,747.1 L810.2,741.1 L827.1,736.9 L839.8,730.5 L856.8,730.5 L867.4,734.8 L873.7,731.6 L880.1,734.8 L880.1,851.3 L721.2,851.3Z M924.6,748.6 L931.0,744.3 L937.3,736.9 L950.0,732.7 L954.3,726.3 L967.0,728.4 L977.6,734.8 L983.9,758.1 L975.4,766.6 L933.1,766.6Z"/>
<path fill="#c2c2c2" d="M731.8,760.2 L742.4,764.4 L763.6,766.6 L780.5,764.4 L793.2,766.6 L805.9,772.9 L814.4,770.8 L827.1,764.4 L839.8,758.1 L848.3,753.9 L861.0,751.7 L861.0,851.3 L731.8,851.3Z"/>
<path fill="#cbcbcb" d="M742.4,779.3 L755.1,775.0 L765.7,772.9 L774.2,781.4 L784.8,787.8 L795.3,792.0 L801.7,787.8 L810.2,792.0 L810.2,851.3 L742.4,851.3Z"/>
<path fill="#d4d4d4" d="M753.0,796.2 L761.4,792.0 L769.9,800.5 L774.2,811.1 L784.8,808.9 L793.2,804.7 L801.7,808.9 L810.2,813.2 L810.2,851.3 L753.0,851.3Z"/>
<path fill="#dedede" d="M761.4,817.4 L767.8,821.7 L778.4,823.8 L786.9,821.7 L795.3,825.9 L801.7,830.1 L810.2,838.6 L810.2,851.3 L761.4,851.3Z"/>
</g>
<clipPath id="tc21"><rect x="1050" y="729" width="350" height="163"/></clipPath>
<g clip-path="url(#tc21)">
<rect x="1050" y="729" width="350" height="163" fill="#afafaf"/>
<path fill="#a5a5a5" d="M1050.0,703.0 L1139.0,703.0 L1139.0,709.4 L1113.6,711.5 L1092.4,709.4 L1071.2,713.6 L1050.0,711.5Z"/>
<path fill="#9c9c9c" d="M1067.0,703.0 L1139.0,703.0 L1137.9,706.2 L1103.0,707.2 L1071.2,708.3Z"/>
<path fill="#b8b8b8" d="M1099.8,750.7 L1107.2,745.4 L1111.4,739.0 L1119.9,734.8 L1128.4,728.4 L1134.8,721.0 L1177.1,721.0 L1177.1,893.7 L1099.8,893.7Z"/>
<path fill="#c2c2c2" d="M1109.3,764.4 L1117.8,756.0 L1126.3,753.9 L1134.8,751.7 L1143.2,753.9 L1177.1,753.9 L1177.1,893.7 L1109.3,893.7Z"/>
<path fill="#cbcbcb" d="M1111.4,777.2 L1122.0,775.0 L1130.5,770.8 L1134.8,764.4 L1143.2,764.4 L1151.7,768.7 L1177.1,768.7 L1177.1,893.7 L1111.4,893.7Z"/>
<path fill="#d4d4d4" d="M1111.4,787.8 L1119.9,783.5 L1130.5,779.3 L1139.0,775.0 L1147.5,777.2 L1153.8,787.8 L1177.1,787.8 L1177.1,893.7 L1111.4,893.7Z"/>
<path fill="#dedede" d="M1122.0,823.8 L1130.5,821.7 L1139.0,815.3 L1147.5,812.1 L1160.2,813.2 L1168.7,815.3 L1177.1,815.3 L1177.1,893.7 L1122.0,893.7Z"/>
<path fill="#e7e7e7" d="M1130.5,842.8 L1139.0,838.6 L1147.5,836.5 L1153.8,830.1 L1160.2,823.8 L1165.5,819.5 L1177.1,819.5 L1177.1,893.7 L1130.5,893.7Z"/>
<path fill="#f1f1f1" d="M1153.8,842.8 L1160.2,836.5 L1165.5,838.6 L1164.4,851.3 L1158.1,853.4Z"/>
</g>
<clipPath id="tc22"><rect x="200" y="215" width="350" height="189"/></clipPath>
<g clip-path="url(#tc22)">
<rect x="200" y="215" width="350" height="189" fill="#050505"/>
<path fill="#050505" d="M408.7,236.2 L550.0,236.2 L550.0,404.0 L488.2,404.0 L483.9,395.1 L471.2,399.3 L458.5,395.1 L445.8,393.0 L433.1,384.5 L424.6,382.4 L418.2,371.8 L411.9,363.3 L403.4,359.1 L400.2,350.6 L403.4,342.1 L411.9,333.7 L416.1,325.2 L424.6,318.8 L433.1,314.6 L439.4,320.9 L443.7,312.5 L441.5,299.8 L437.3,289.2 L431.0,278.6 L422.5,270.1 L416.1,261.6 L411.9,253.1Z M414.0,244.7 L422.5,244.7 L428.8,238.3 L433.1,244.7 L428.8,253.1 L439.4,263.7 L451.1,257.4 L454.3,268.0 L452.1,282.8 L443.7,284.9 L439.4,278.6 L431.0,270.1 L420.4,261.6 L414.0,255.3Z M443.7,293.4 L452.1,293.4 L450.0,308.2 L445.8,314.6 L443.7,304.0Z M300.0,237.0 L390.1,237.0 L390.1,257.4 L369.5,263.7 L348.3,257.4 L335.6,270.1 L318.7,278.6 L301.7,268.0Z M282.6,333.7 L318.7,350.6 L348.3,333.7 L384.3,325.2 L386.5,363.3 L378.0,404.0 L280.5,404.0 L278.4,363.3Z M414.0,244.7 L433.1,242.5 L452.1,257.4 L453.2,282.8 L443.7,284.9 L431.0,270.1 L418.2,261.6Z M400.2,342.1 L411.9,329.4 L424.6,316.7 L435.2,312.5 L440.5,318.8 L431.0,325.2 L420.4,333.7 L411.9,346.4 L406.6,361.2Z M301.7,238.3 L331.4,237.2 L329.2,244.7 L320.8,246.8 L314.4,255.3 L308.1,263.7 L301.7,261.6 L305.9,251.0Z M344.1,237.2 L361.0,237.2 L356.8,248.9 L348.3,246.8Z M371.6,242.5 L386.5,237.2 L386.5,255.3 L378.0,253.1Z M391.8,237.2 L409.8,237.2 L407.6,248.9 L399.2,253.1 L392.8,246.8Z M375.9,331.5 L386.5,325.2 L390.7,337.9 L382.2,340.0Z M352.6,346.4 L369.5,337.9 L375.9,350.6 L367.4,359.1 L356.8,354.8Z M320.8,359.1 L327.1,357.0 L329.2,363.3 L322.9,363.3Z M280.5,399.3 L284.8,384.5 L295.3,378.2 L310.2,371.8 L322.9,376.0 L329.2,367.6 L344.1,361.2 L356.8,363.3 L369.5,361.2 L375.9,367.6 L369.5,380.3 L356.8,382.4 L361.0,390.9 L348.3,395.1 L335.6,388.7 L327.1,395.1 L316.5,390.9 L301.7,397.2 L291.1,404.0Z M390.7,397.2 L399.2,404.0 L390.7,404.0Z M293.2,306.1 L296.4,306.1 L296.4,310.3 L293.2,310.3Z"/>
<path fill="#2a2a2a" d="M333.1,240.4 L337.3,240.4 L336.7,254.2 L344.1,260.6 L348.3,270.1 L356.8,284.9 L369.5,289.2 L382.2,297.6 L386.5,306.1 L388.6,312.5 L361.0,313.5 L352.6,325.2 L335.6,331.5 L318.7,329.4 L315.5,322.0 L327.1,312.9 L318.7,308.2 L310.2,305.7 L311.9,298.7 L318.7,295.1 L325.4,299.8 L325.4,282.8 L320.3,276.9 L325.4,275.2 L331.8,278.6 L335.6,268.0 L332.6,257.4Z"/>
<path fill="#050505" d="M346.2,259.5 L361.0,263.7 L369.5,278.6 L361.0,282.8 L352.6,274.3Z"/>
<path fill="#212121" d="M339.8,272.2 L348.3,274.3 L356.8,287.0 L365.3,291.3 L361.0,299.8 L348.3,295.5 L342.0,284.9Z"/>
<path fill="#3d3d3d" d="M325.0,278.6 L335.6,275.4 L339.8,278.6 L342.0,291.3 L348.3,299.8 L356.8,304.0 L367.4,297.6 L378.0,295.5 L380.1,299.8 L365.3,306.1 L356.8,310.3 L346.2,310.3 L337.7,304.0 L329.2,295.5 L325.0,287.0Z"/>
<path fill="#505050" d="M329.2,293.4 L337.7,289.2 L346.2,301.9 L352.6,308.2 L344.1,310.3 L335.6,301.9Z"/>
<path fill="#343434" d="M329.2,282.8 L337.7,282.8 L337.7,289.2 L330.3,289.2Z"/>
<path fill="#3d3d3d" d="M314.4,299.8 L322.9,300.8 L331.4,308.2 L322.9,310.3 L316.5,306.1Z M316.5,325.2 L325.0,316.7 L335.6,312.5 L348.3,315.6 L354.7,323.1 L346.2,325.2 L335.6,325.2 L325.0,328.4Z"/>
<path fill="#2a2a2a" d="M301.3,334.7 L305.5,331.5 L308.1,334.7 L303.8,342.1 L304.9,348.5 L301.3,347.4Z M315.5,334.7 L318.2,333.2 L320.3,343.2 L335.6,345.3 L336.7,348.9 L323.3,348.9 L317.2,345.9Z M261.9,331.1 L271.0,329.4 L272.5,333.7 L267.4,339.6 L263.1,348.5 L261.0,343.8Z"/>
<path fill="#0e0e0e" d="M262.5,337.9 L269.9,333.7 L268.9,340.0 L263.6,344.2Z"/>
<path fill="#2a2a2a" d="M250.9,381.3 L256.8,379.8 L263.6,386.2 L267.4,393.4 L264.0,404.0 L245.6,404.0 L252.5,393.4Z M382.2,350.6 L394.9,346.4 L401.3,350.6 L403.4,363.3 L409.8,376.0 L422.5,384.5 L435.2,388.7 L447.9,395.1 L454.3,404.0 L399.2,404.0 L386.5,384.5 L378.0,371.8 L375.9,361.2Z"/>
<path fill="#3d3d3d" d="M379.0,361.2 L388.6,361.2 L392.8,367.6 L399.2,378.2 L407.6,384.5 L420.4,390.9 L433.1,393.0 L441.5,397.2 L443.7,404.0 L411.9,404.0 L403.4,395.1 L394.9,384.5 L386.5,378.2 L380.1,369.7Z"/>
<path fill="#2a2a2a" d="M364.2,398.9 L370.6,393.4 L377.6,388.3 L382.6,394.7 L384.3,404.0 L361.0,404.0Z M391.8,306.1 L398.7,302.9 L406.6,308.2 L401.3,312.5 L394.9,311.4Z"/>
</g>
<clipPath id="tc23"><rect x="200" y="404" width="350" height="189"/></clipPath>
<g clip-path="url(#tc23)">
<rect x="200" y="404" width="350" height="189" fill="#050505"/>
<path fill="#050505" d="M407.6,423.1 L450.0,422.0 L451.1,539.6 L433.1,522.7 L424.6,514.2 L411.9,522.7 L403.4,514.2 L394.9,509.9 L386.5,503.6 L375.9,497.2 L371.6,488.8 L375.9,480.3 L386.5,473.9 L397.1,463.3 L403.4,450.6 L409.8,435.8Z M411.9,446.4 L416.1,444.3 L424.6,473.9 L420.4,476.0Z M428.8,442.1 L433.1,440.0 L441.5,467.6 L437.3,469.7Z M390.7,484.5 L394.9,482.4 L407.6,505.7 L403.4,507.8Z M433.1,484.5 L437.3,484.5 L443.7,509.9 L439.4,509.9Z M416.1,488.8 L420.4,488.8 L428.8,514.2 L424.6,514.2Z M399.2,467.6 L403.4,465.4 L411.9,484.5 L408.7,486.6Z M453.2,473.9 L467.0,467.6 L475.4,476.0 L488.2,488.8 L486.0,503.6 L475.4,514.2 L486.0,526.9 L496.6,535.4 L481.8,541.7 L464.9,539.6 L453.2,531.1Z M500.9,422.0 L550.0,422.0 L550.0,490.9 L539.0,493.0 L526.3,486.6 L517.8,488.8 L511.5,497.2 L505.1,512.1 L500.9,524.8 L496.6,531.1 L494.5,518.4 L498.8,503.6 L505.1,488.8 L503.0,473.9 L505.1,463.3 L503.0,446.4Z M327.1,503.6 L335.6,509.9 L346.2,522.7 L356.8,535.4 L361.0,552.3 L367.4,569.3 L361.0,573.5 L352.6,560.8 L346.2,548.1 L337.7,535.4 L331.4,522.7 L327.1,514.2Z M293.2,423.1 L325.0,423.1 L325.0,467.6 L310.2,471.8 L299.6,457.0 L293.2,437.9Z M293.2,404.0 L318.7,404.0 L314.4,414.6 L301.7,412.5Z M335.6,422.0 L346.2,423.1 L344.1,429.4 L335.6,428.4Z M301.7,452.7 L314.4,448.5 L316.5,457.0 L305.9,459.1Z M390.7,404.0 L411.9,404.0 L409.8,416.7 L394.9,414.6Z M422.5,412.9 L450.0,412.5 L450.0,417.1 L424.6,416.7Z M454.3,404.0 L513.6,404.0 L513.6,417.8 L454.3,417.8Z M513.6,404.0 L550.0,404.0 L550.0,423.1 L513.6,423.1Z"/>
<path fill="#2a2a2a" d="M240.3,423.1 L272.0,423.1 L276.3,433.7 L269.9,446.4 L261.4,454.9 L250.9,463.3 L242.4,459.1 L238.1,442.1Z"/>
<path fill="#3d3d3d" d="M248.7,427.3 L263.6,425.2 L267.8,435.8 L257.2,446.4 L249.8,440.0Z"/>
<path fill="#2a2a2a" d="M348.3,423.1 L373.7,423.1 L390.7,433.7 L403.4,446.4 L399.2,459.1 L386.5,467.6 L369.5,471.8 L356.8,463.3 L348.3,446.4 L335.6,450.6 L331.4,442.1 L344.1,433.7Z"/>
<path fill="#343434" d="M365.3,431.5 L382.2,433.7 L390.7,446.4 L380.1,457.0 L367.4,450.6Z"/>
<path fill="#505050" d="M331.4,457.0 L344.1,446.4 L348.3,433.7 L361.0,431.5 L365.3,446.4 L369.5,461.2 L378.0,467.6 L369.5,476.0 L361.0,484.5 L356.8,495.1 L346.2,497.2 L339.8,488.8 L335.6,476.0 L329.2,467.6Z"/>
<path fill="#3d3d3d" d="M352.6,431.5 L358.9,429.4 L365.3,450.6 L361.0,459.1 L356.8,446.4Z"/>
<path fill="#505050" d="M250.9,465.4 L263.6,454.9 L274.2,444.3 L284.8,444.3 L291.1,459.1 L299.6,476.0 L310.2,497.2 L320.8,518.4 L331.4,535.4 L344.1,556.6 L352.6,573.5 L356.8,593.0 L293.2,593.0 L289.0,565.0 L280.5,552.3 L274.2,531.1 L263.6,518.4 L253.0,503.6 L246.6,488.8 L248.7,473.9Z"/>
<path fill="#5a5a5a" d="M255.1,488.8 L263.6,484.5 L272.0,501.5 L280.5,522.7 L284.8,543.8 L276.3,539.6 L263.6,514.2Z"/>
<path fill="#767676" d="M274.2,448.5 L282.6,446.4 L286.9,459.1 L291.1,471.8 L299.6,493.0 L308.1,509.9 L318.7,526.9 L329.2,543.8 L339.8,560.8 L348.3,577.7 L350.4,593.0 L318.7,593.0 L312.3,573.5 L301.7,556.6 L291.1,535.4 L282.6,514.2 L274.2,497.2 L269.9,478.2 L269.9,461.2Z"/>
<path fill="#6d6d6d" d="M284.8,484.5 L293.2,488.8 L301.7,505.7 L310.2,522.7 L305.9,526.9 L295.3,514.2 L286.9,499.3Z"/>
<path fill="#808080" d="M272.0,463.3 L280.5,459.1 L284.8,473.9 L276.3,484.5 L271.0,476.0Z M314.4,539.6 L327.1,548.1 L337.7,565.0 L346.2,593.0 L327.1,593.0 L318.7,565.0Z"/>
<path fill="#636363" d="M284.8,516.3 L293.2,514.2 L297.5,520.5 L291.1,526.9 L284.8,524.8Z"/>
<path fill="#505050" d="M356.8,503.6 L369.5,514.2 L382.2,522.7 L394.9,522.7 L407.6,529.0 L420.4,522.7 L433.1,531.1 L451.1,541.7 L451.1,552.3 L433.1,556.6 L411.9,552.3 L390.7,548.1 L378.0,539.6 L365.3,522.7Z"/>
<path fill="#767676" d="M367.4,548.1 L382.2,552.3 L403.4,571.4 L428.8,593.0 L361.0,593.0 L365.3,573.5Z"/>
<path fill="#6d6d6d" d="M378.0,543.8 L390.7,550.2 L411.9,554.4 L433.1,558.7 L451.1,554.4 L451.1,569.3 L439.4,573.5 L433.1,593.0 L428.8,593.0 L403.4,569.3 L386.5,552.3Z"/>
<path fill="#9c9c9c" d="M428.8,558.7 L439.4,552.3 L447.9,560.8 L447.9,573.5 L437.3,575.6 L431.0,569.3Z M371.6,556.6 L382.2,560.8 L390.7,573.5 L401.3,586.2 L403.4,593.0 L373.7,593.0 L369.5,573.5Z"/>
<path fill="#b8b8b8" d="M384.3,556.6 L388.6,558.7 L392.8,571.4 L401.3,584.1 L406.6,593.0 L402.3,593.0 L396.0,584.1 L389.6,573.5Z"/>
<path fill="#505050" d="M454.3,433.7 L467.0,427.3 L481.8,429.4 L496.6,435.8 L503.0,450.6 L500.9,467.6 L492.4,473.9 L483.9,467.6 L473.3,463.3 L462.7,465.4 L454.3,471.8Z"/>
<path fill="#5a5a5a" d="M467.0,437.9 L479.7,435.8 L481.8,452.7 L471.2,459.1 L464.9,450.6Z"/>
<path fill="#3d3d3d" d="M471.2,425.2 L483.9,425.2 L486.0,433.7 L475.4,435.8Z"/>
<path fill="#505050" d="M475.4,476.0 L483.9,471.8 L492.4,476.0 L496.6,488.8 L492.4,501.5 L486.0,509.9 L477.6,514.2 L471.2,531.1 L462.7,531.1 L467.0,514.2 L475.4,501.5 L479.7,488.8Z"/>
<path fill="#2a2a2a" d="M494.5,437.9 L503.0,429.4 L505.1,463.3 L500.9,476.0 L505.1,488.8 L498.8,503.6 L494.5,518.4 L490.3,503.6 L496.6,488.8 L494.5,473.9 L503.0,467.6Z"/>
<path fill="#5a5a5a" d="M500.9,535.4 L509.3,514.2 L517.8,497.2 L530.5,488.8 L543.3,495.1 L550.0,493.0 L550.0,552.3 L454.3,552.3 L454.3,543.8 L475.4,546.0 L492.4,541.7Z"/>
<path fill="#636363" d="M509.3,531.1 L517.8,509.9 L530.5,499.3 L543.3,501.5 L550.0,505.7 L550.0,543.8 L530.5,548.1 L513.6,546.0Z"/>
<path fill="#6d6d6d" d="M513.6,522.7 L526.3,505.7 L539.0,503.6 L550.0,509.9 L550.0,531.1 L534.8,539.6 L517.8,539.6Z"/>
<path fill="#505050" d="M454.3,553.4 L550.0,553.4 L550.0,593.0 L454.3,593.0Z"/>
<path fill="#6d6d6d" d="M454.3,556.6 L481.8,556.6 L486.0,573.5 L475.4,593.0 L454.3,593.0Z"/>
<path fill="#2a2a2a" d="M488.2,560.8 L496.6,556.6 L500.9,569.3 L492.4,573.5Z M530.5,565.0 L547.5,560.8 L550.0,573.5 L534.8,577.7Z"/>
<path fill="#3d3d3d" d="M505.1,565.0 L522.1,560.8 L526.3,577.7 L511.5,582.0Z"/>
</g>
<clipPath id="tc24"><rect x="550" y="404" width="150" height="189"/></clipPath>
<g clip-path="url(#tc24)">
<rect x="550" y="404" width="150" height="189" fill="#050505"/>
<path fill="#5a5a5a" d="M542.4,488.8 L556.8,488.8 L556.8,550.2 L542.4,550.2Z"/>
<path fill="#505050" d="M556.8,488.8 L569.9,488.8 L578.4,497.2 L589.0,501.5 L584.8,512.1 L572.0,509.9 L567.8,518.4 L559.3,522.7 L556.8,518.4Z"/>
<path fill="#636363" d="M558.3,493.0 L567.8,493.0 L572.0,503.6 L563.6,509.9 L558.3,505.7Z"/>
<path fill="#2a2a2a" d="M639.8,482.4 L657.9,481.3 L656.8,488.8 L646.2,489.8Z"/>
<path fill="#3d3d3d" d="M637.7,467.6 L644.1,471.8 L654.7,476.0 L656.8,482.4 L648.3,484.5 L639.8,480.3Z"/>
<path fill="#050505" d="M634.5,455.9 L637.7,457.0 L638.8,467.6 L635.6,476.0 L633.5,467.6Z"/>
<path fill="#2a2a2a" d="M633.5,512.1 L646.2,503.6 L651.5,502.5 L648.3,509.9 L637.7,514.2Z"/>
<path fill="#505050" d="M635.6,512.1 L646.2,507.8 L650.4,503.6 L652.6,509.9 L648.3,520.5 L656.8,526.9 L667.4,533.2 L661.0,537.5 L652.6,535.4 L648.3,531.1 L644.1,522.7Z"/>
<path fill="#2a2a2a" d="M646.2,531.1 L654.7,535.4 L652.6,539.6 L646.2,537.5Z"/>
<path fill="#505050" d="M682.2,552.3 L684.3,533.2 L694.9,528.2 L705.1,530.3 L705.1,552.3Z"/>
<path fill="#5a5a5a" d="M685.4,552.3 L687.5,536.4 L694.9,531.1 L704.5,533.2 L704.5,552.3Z"/>
<path fill="#050505" d="M559.3,524.8 L565.7,522.7 L567.8,535.4 L561.4,539.6Z M578.4,539.6 L582.6,539.6 L583.7,548.1 L579.5,548.1Z M591.1,544.9 L595.3,544.9 L595.3,549.1 L591.1,549.1Z M642.0,531.1 L646.2,533.2 L648.3,543.8 L644.1,541.7Z"/>
<path fill="#505050" d="M558.3,553.4 L589.0,553.4 L591.1,565.0 L584.8,579.9 L569.9,586.2 L559.3,584.1Z"/>
<path fill="#3d3d3d" d="M561.4,556.6 L580.5,555.5 L582.6,569.3 L572.0,577.7 L562.5,573.5Z"/>
<path fill="#2a2a2a" d="M580.5,565.0 L589.0,567.2 L586.9,575.6 L580.5,573.5Z"/>
<path fill="#505050" d="M595.3,593.0 L599.6,584.1 L610.2,575.6 L618.7,577.7 L627.1,586.2 L637.7,590.5 L648.3,586.2 L661.0,588.3 L671.6,577.7 L678.0,565.0 L681.2,558.7 L682.2,593.0Z"/>
<path fill="#050505" d="M610.2,571.4 L618.7,573.5 L622.9,582.0 L618.7,584.1 L612.3,577.7Z"/>
<path fill="#6d6d6d" d="M661.0,593.0 L669.5,586.2 L678.0,579.9 L682.2,582.0 L682.2,593.0Z"/>
<path fill="#636363" d="M682.6,550.2 L703.4,550.2 L703.4,593.0 L682.6,593.0Z"/>
<path fill="#6d6d6d" d="M684.3,579.9 L700.0,573.5 L700.0,593.0 L684.3,593.0Z"/>
</g>
<clipPath id="tc25"><rect x="290" y="540" width="350" height="189"/></clipPath>
<g clip-path="url(#tc25)">
<rect x="290" y="540" width="350" height="189" fill="#808080"/>
<path fill="#767676" d="M290.0,540.0 L323.9,540.0 L319.7,552.7 L309.1,565.4 L302.7,582.4 L294.2,573.9 L290.0,565.4Z"/>
<path fill="#898989" d="M323.9,571.8 L338.7,565.4 L351.4,582.4 L353.6,601.4 L343.0,603.6 L330.3,590.9Z"/>
<path fill="#505050" d="M290.0,557.0 L298.5,569.7 L307.0,588.7 L315.4,609.9 L332.4,622.6 L349.3,629.0 L359.9,633.2 L353.6,624.8 L336.6,616.3 L323.9,603.6 L315.4,586.6 L307.0,569.7 L298.5,552.7 L290.0,546.4Z"/>
<path fill="#6d6d6d" d="M302.7,582.4 L315.4,593.0 L326.0,605.7 L345.1,609.9 L359.9,620.5 L353.6,609.9 L336.6,603.6 L323.9,595.1 L311.2,578.1Z"/>
<path fill="#050505" d="M337.7,540.0 L344.0,540.0 L353.6,567.5 L363.1,580.3 L357.8,583.4 L347.2,567.5Z M343.0,540.0 L362.0,540.0 L366.3,565.4 L359.9,576.0 L351.4,561.2Z"/>
<path fill="#767676" d="M317.5,609.9 L345.1,605.7 L370.5,609.9 L389.6,620.5 L400.2,633.2 L406.5,650.2 L408.7,667.1 L387.5,668.2 L381.1,654.4 L370.5,641.7 L359.9,633.2 L349.3,629.0 L332.4,622.6 L317.5,618.4Z"/>
<path fill="#898989" d="M359.9,614.2 L374.8,614.2 L379.0,624.8 L366.3,624.8Z"/>
<path fill="#505050" d="M391.7,637.5 L400.2,639.6 L402.3,662.9 L395.9,662.9Z"/>
<path fill="#9c9c9c" d="M370.5,567.5 L391.7,552.7 L408.7,565.4 L421.4,582.4 L438.3,605.7 L442.6,624.8 L436.2,629.0 L425.6,616.3 L408.7,612.0 L395.9,603.6 L383.2,593.0 L370.5,582.4Z"/>
<path fill="#808080" d="M381.1,590.9 L395.9,588.7 L404.4,599.3 L391.7,603.6Z"/>
<path fill="#6d6d6d" d="M370.5,548.5 L389.6,544.2 L408.7,552.7 L425.6,561.2 L417.1,565.4 L400.2,559.1 L383.2,557.0Z"/>
<path fill="#a5a5a5" d="M425.6,561.2 L438.3,552.7 L451.0,561.2 L451.0,573.9 L438.3,576.0 L427.7,569.7Z"/>
<path fill="#b8b8b8" d="M383.2,557.0 L387.5,557.0 L393.8,576.0 L404.4,586.6 L406.5,591.9 L401.2,589.8 L391.7,580.3Z"/>
<path fill="#050505" d="M340.2,609.9 L341.0,608.0 L343.0,607.2 L344.9,608.0 L345.7,609.9 L344.9,611.8 L343.0,612.7 L341.0,611.8Z M388.7,625.8 L389.8,623.4 L392.1,622.4 L394.5,623.4 L395.5,625.8 L394.5,628.2 L392.1,629.2 L389.8,628.2Z M414.6,571.8 L415.4,570.0 L417.1,569.2 L418.9,570.0 L419.7,571.8 L418.9,573.6 L417.1,574.3 L415.4,573.6Z"/>
<path fill="#b8b8b8" d="M410.8,615.2 L423.5,614.2 L429.8,622.6 L442.6,620.5 L447.9,624.8 L442.6,633.2 L438.3,645.9 L436.2,658.7 L438.3,665.0 L408.7,667.1 L405.5,654.4 L398.1,633.2 L408.7,639.6 L419.2,645.9 L425.6,637.5 L419.2,626.9Z"/>
<path fill="#a5a5a5" d="M415.0,652.3 L425.6,652.3 L423.5,658.7 L416.1,658.7Z M408.7,641.7 L417.1,645.9 L412.9,650.2 L406.5,648.1Z"/>
<path fill="#d4d4d4" d="M429.8,658.7 L438.3,658.7 L438.3,664.0 L432.0,662.9Z"/>
<path fill="#767676" d="M453.2,552.7 L480.7,552.7 L476.5,569.7 L468.0,586.6 L459.5,603.6 L451.0,603.6 L446.8,582.4 L453.2,576.0Z"/>
<path fill="#afafaf" d="M438.3,629.0 L451.0,624.8 L465.9,624.8 L480.7,631.1 L501.9,639.6 L523.1,650.2 L544.3,667.1 L554.9,684.1 L554.9,701.0 L514.6,701.0 L436.2,671.4 L438.3,658.7 L436.2,645.9Z"/>
<path fill="#9c9c9c" d="M451.0,603.6 L468.0,609.9 L484.9,624.8 L506.1,633.2 L527.3,645.9 L548.5,660.8 L554.9,675.6 L544.3,667.1 L523.1,650.2 L501.9,639.6 L480.7,631.1 L465.9,624.8 L451.0,624.8Z"/>
<path fill="#a5a5a5" d="M444.7,609.9 L453.2,603.6 L459.5,614.2 L451.0,624.8 L442.6,622.6Z"/>
<path fill="#b8b8b8" d="M438.3,667.1 L446.8,658.7 L459.5,654.4 L474.3,645.9 L484.9,637.5 L497.6,639.6 L506.1,648.1 L501.9,654.4 L489.2,658.7 L480.7,667.1 L476.5,679.8 L472.2,686.2Z"/>
<path fill="#c2c2c2" d="M457.4,658.7 L465.9,658.7 L465.9,667.1 L457.4,667.1Z M489.2,641.7 L499.8,643.8 L497.6,650.2 L490.2,650.2Z"/>
<path fill="#808080" d="M501.9,688.3 L523.1,675.6 L544.3,679.8 L554.9,688.3 L554.9,701.0 L514.6,701.0Z"/>
<path fill="#6d6d6d" d="M480.7,609.9 L497.6,620.5 L514.6,633.2 L531.5,641.7 L544.3,650.2 L555.9,654.4 L555.9,667.1 L540.0,658.7 L523.1,650.2 L506.1,639.6 L489.2,629.0 L476.5,618.4Z"/>
<path fill="#505050" d="M455.3,552.7 L555.9,552.7 L555.9,633.2 L544.3,637.5 L533.7,629.0 L523.1,620.5 L510.4,607.8 L497.6,595.1 L489.2,582.4 L476.5,573.9 L468.0,586.6 L459.5,582.4Z"/>
<path fill="#5a5a5a" d="M501.9,561.2 L523.1,559.1 L544.3,565.4 L550.6,593.0 L540.0,609.9 L523.1,603.6 L510.4,586.6Z"/>
<path fill="#6d6d6d" d="M506.1,576.0 L514.6,578.1 L527.3,595.1 L533.7,603.6 L527.3,603.6 L514.6,590.9Z"/>
<path fill="#3d3d3d" d="M472.2,576.0 L484.9,578.1 L493.4,593.0 L484.9,603.6 L472.2,595.1Z"/>
<path fill="#2a2a2a" d="M529.4,563.3 L542.1,561.2 L544.3,578.1 L535.8,586.6 L529.4,576.0Z M474.3,578.1 L480.7,578.1 L478.6,590.9 L474.3,588.7Z"/>
<path fill="#050505" d="M489.6,587.0 L501.0,597.6 L511.6,610.3 L524.8,620.1 L520.1,626.4 L505.7,618.0 L493.8,605.3Z M495.5,593.0 L501.9,593.0 L504.0,599.3 L497.6,599.3Z M541.1,623.7 L551.7,623.7 L551.7,636.4 L541.1,636.4Z M543.6,626.2 L549.6,626.2 L549.6,633.9 L543.6,633.9Z"/>
<path fill="#6d6d6d" d="M453.2,540.0 L555.9,540.0 L555.9,549.5 L453.2,549.5Z"/>
<path fill="#505050" d="M480.7,540.0 L523.1,540.0 L518.8,549.5 L484.9,549.5Z"/>
<path fill="#767676" d="M559.1,552.7 L640.0,552.7 L640.0,729.0 L559.1,729.0Z"/>
<path fill="#505050" d="M559.1,552.7 L586.6,552.7 L603.6,565.4 L607.8,582.4 L595.1,590.9 L582.4,586.6 L571.8,586.6 L559.1,590.9Z"/>
<path fill="#2a2a2a" d="M580.3,567.5 L588.8,565.4 L590.9,573.9 L582.4,576.0Z"/>
<path fill="#050505" d="M559.1,540.0 L640.0,540.0 L640.0,549.5 L559.1,549.5Z M607.8,565.4 L640.0,561.2 L640.0,582.4 L629.0,586.6 L616.3,582.4Z M559.9,593.0 L573.5,589.6 L586.2,599.3 L594.5,612.5 L590.9,628.6 L582.8,633.2 L574.3,641.3 L563.3,645.1 L559.9,633.7Z M561.2,595.1 L572.9,591.9 L584.5,601.4 L591.9,613.1 L588.8,626.9 L581.3,631.1 L572.9,638.5 L564.4,641.7 L561.6,632.2Z"/>
<path fill="#808080" d="M620.5,603.6 L640.0,599.3 L640.0,658.7 L629.0,667.1 L620.5,650.2Z"/>
<path fill="#6d6d6d" d="M599.3,603.6 L612.1,599.3 L616.3,624.8 L607.8,650.2 L599.3,641.7Z"/>
<path fill="#050505" d="M624.8,641.7 L631.1,641.7 L632.2,665.0 L625.8,665.0Z M618.4,601.4 L624.8,601.4 L626.9,614.2 L620.5,614.2Z"/>
<path fill="#2a2a2a" d="M622.7,623.7 L629.0,623.7 L629.0,630.1 L622.7,630.1Z"/>
<path fill="#898989" d="M586.6,675.6 L607.8,667.1 L616.3,684.1 L595.1,688.3Z"/>
<path fill="#929292" d="M607.8,684.1 L640.0,684.1 L640.0,729.0 L620.5,701.0Z"/>
</g>
<clipPath id="tc26"><rect x="540" y="560" width="160" height="189"/></clipPath>
<g clip-path="url(#tc26)">
<rect x="540" y="560" width="160" height="189" fill="#767676"/>
<path fill="#505050" d="M500.0,560.0 L555.1,560.0 L555.1,587.5 L546.6,581.2 L533.9,583.3 L525.4,572.7 L512.7,568.5 L500.0,572.7Z M500.0,572.7 L512.7,568.5 L525.4,572.7 L533.9,583.3 L546.6,581.2 L555.1,587.5 L555.1,623.6 L542.4,621.4 L525.4,610.9 L512.7,598.1 L500.0,587.5Z"/>
<path fill="#6d6d6d" d="M504.2,577.0 L517.0,587.5 L527.5,602.4 L521.2,602.4 L510.6,591.8Z"/>
<path fill="#2a2a2a" d="M529.7,562.1 L540.3,562.1 L538.1,570.6 L531.8,568.5Z M548.7,579.1 L555.1,581.2 L554.0,591.8 L549.8,589.7Z"/>
<path fill="#050505" d="M500.0,592.2 L508.9,600.3 L521.6,612.5 L536.4,623.1 L551.3,629.5 L553.4,640.9 L542.4,644.8 L537.7,635.0 L522.5,624.4 L509.7,613.8 L500.0,604.9Z M542.4,627.8 L550.9,629.9 L549.8,637.3 L543.4,636.3Z"/>
<path fill="#505050" d="M500.0,608.7 L512.7,617.2 L525.4,627.8 L538.1,638.4 L542.4,649.0 L529.7,644.8 L517.0,636.3 L500.0,623.6Z"/>
<path fill="#6d6d6d" d="M500.0,621.4 L514.8,634.2 L531.8,646.9 L548.7,655.3 L555.5,661.7 L555.5,670.2 L542.4,665.9 L525.4,655.3 L508.5,642.6 L500.0,634.2Z"/>
<path fill="#9c9c9c" d="M500.0,632.0 L517.0,644.8 L533.9,655.3 L550.9,663.8 L555.1,678.7 L542.4,678.7 L521.2,661.7 L500.0,649.0Z"/>
<path fill="#afafaf" d="M500.0,649.0 L517.0,661.7 L525.4,678.7 L512.7,695.6 L500.0,693.5Z"/>
<path fill="#808080" d="M521.2,661.7 L542.4,678.7 L555.1,678.7 L555.1,698.8 L512.7,698.8 L525.4,680.8Z"/>
<path fill="#505050" d="M558.3,560.0 L589.0,560.0 L593.2,574.8 L584.8,583.3 L569.9,583.3 L558.3,589.7Z"/>
<path fill="#3d3d3d" d="M561.4,562.1 L580.5,562.1 L582.6,574.8 L572.0,581.2 L562.5,577.0Z"/>
<path fill="#505050" d="M665.3,579.1 L675.9,566.4 L682.2,566.4 L682.2,583.3 L669.5,587.5Z M590.1,572.7 L605.9,591.8 L615.5,583.3 L625.4,593.9 L637.7,591.8 L648.3,587.5 L661.0,583.3 L671.6,574.8 L680.1,568.5 L682.2,581.2 L667.4,591.8 L652.6,596.0 L639.8,601.3 L625.0,603.4 L615.5,593.9 L605.9,602.4 L589.0,589.7Z"/>
<path fill="#050505" d="M589.0,560.0 L593.2,578.6 L605.7,584.8 L615.1,575.7 L625.9,586.5 L636.7,584.8 L642.8,578.6 L652.1,577.2 L661.5,578.6 L670.8,571.0 L675.9,560.0Z M592.2,574.8 L605.7,581.2 L615.1,572.3 L625.9,582.9 L636.7,581.2 L642.8,575.3 L652.1,573.8 L661.5,575.3 L669.5,568.5 L672.7,572.7 L662.1,582.2 L652.1,580.8 L644.1,582.2 L637.3,588.6 L625.4,590.1 L615.5,579.5 L605.9,588.6 L592.4,582.2Z M599.6,581.2 L605.9,586.5 L615.5,578.0 L625.4,588.6 L637.3,587.1 L646.2,581.2 L648.3,586.5 L637.7,591.8 L625.0,592.8 L615.5,583.3 L605.9,591.8 L597.5,586.5Z M559.3,589.2 L571.6,585.0 L591.5,589.2 L597.5,598.6 L593.2,612.5 L595.3,629.5 L590.3,642.6 L584.3,653.2 L574.6,654.9 L564.4,646.4 L559.8,629.5Z M560.4,591.8 L569.9,585.4 L589.0,589.7 L595.3,598.1 L591.1,610.9 L584.8,617.2 L593.2,627.8 L589.0,638.4 L580.5,642.6 L569.9,636.3 L563.6,623.6 L560.4,610.9Z"/>
<path fill="#505050" d="M561.4,659.6 L574.2,663.8 L586.9,661.7 L593.2,651.1 L599.6,634.2 L605.9,640.5 L599.6,659.6 L589.0,670.2 L572.0,672.3 L563.6,668.1Z"/>
<path fill="#808080" d="M595.3,613.0 L605.9,623.6 L614.4,649.0 L618.7,670.2 L610.2,682.9 L599.6,665.9 L593.2,644.8Z"/>
<path fill="#505050" d="M605.9,596.0 L618.7,591.8 L631.4,598.1 L639.8,606.6 L644.1,623.6 L639.8,640.5 L631.4,649.0 L618.7,644.8 L610.2,627.8 L605.9,613.0Z"/>
<path fill="#2a2a2a" d="M610.2,596.0 L618.7,593.9 L627.1,602.4 L629.2,615.1 L622.9,623.6 L616.5,615.1 L612.3,604.5Z"/>
<path fill="#050505" d="M618.7,601.3 L624.0,601.3 L626.1,615.1 L620.8,616.1Z"/>
<path fill="#2a2a2a" d="M624.0,622.5 L631.4,623.6 L630.3,629.9 L625.0,628.9Z"/>
<path fill="#050505" d="M624.0,642.6 L632.4,643.7 L634.5,665.9 L626.1,667.0Z"/>
<path fill="#6d6d6d" d="M646.2,585.4 L665.3,581.2 L682.2,585.4 L682.2,629.9 L669.5,623.6 L656.8,606.6 L648.3,596.0Z"/>
<path fill="#808080" d="M639.8,629.9 L656.8,613.0 L669.5,623.6 L682.2,632.0 L682.2,684.0 L648.3,684.0 L644.1,657.5Z"/>
<path fill="#898989" d="M648.3,644.8 L661.0,636.3 L669.5,649.0 L682.2,657.5 L682.2,674.4 L669.5,670.2 L656.8,665.9 L648.3,657.5Z"/>
<path fill="#929292" d="M652.6,670.2 L665.3,663.8 L682.2,674.4 L682.2,684.0 L652.6,684.0Z"/>
<path fill="#808080" d="M559.3,674.4 L605.9,674.4 L608.1,685.0 L574.2,689.2 L574.2,699.8 L557.2,699.8Z"/>
<path fill="#636363" d="M684.3,566.4 L703.4,566.4 L703.4,581.2 L684.3,589.7Z"/>
<path fill="#6d6d6d" d="M684.3,589.7 L703.4,581.2 L703.4,623.6 L684.3,629.9Z"/>
<path fill="#767676" d="M684.3,629.9 L703.4,623.6 L703.4,644.8 L684.3,649.0Z"/>
<path fill="#808080" d="M684.3,649.0 L703.4,644.8 L703.4,653.2 L684.3,659.6Z"/>
<path fill="#898989" d="M684.3,659.6 L703.4,653.2 L703.4,665.9 L684.3,674.4Z"/>
<path fill="#929292" d="M684.3,674.4 L703.4,665.9 L703.4,749.0 L684.3,749.0Z M608.1,685.0 L700.0,685.0 L700.0,749.0 L648.3,749.0Z"/>
<path fill="#808080" d="M614.4,687.1 L631.4,687.1 L648.3,697.7 L656.8,712.6 L669.5,721.0 L682.2,727.4 L669.5,735.9 L656.8,729.5 L648.3,716.8 L635.6,704.1 L622.9,695.6Z"/>
<path fill="#898989" d="M627.1,689.2 L644.1,699.8 L652.6,712.6 L646.2,712.6 L635.6,702.0Z"/>
<path fill="#767676" d="M655.7,714.7 L664.2,714.7 L665.3,725.3 L656.8,727.4Z"/>
<path fill="#9c9c9c" d="M652.6,740.1 L669.5,738.0 L686.5,729.5 L700.0,725.3 L700.0,749.0 L652.6,749.0Z"/>
<path fill="#a5a5a5" d="M656.8,746.5 L700.0,738.0 L700.0,749.0Z"/>
</g>
<clipPath id="tc27"><rect x="550" y="749" width="150" height="143"/></clipPath>
<g clip-path="url(#tc27)">
<rect x="550" y="749" width="150" height="143" fill="#9c9c9c"/>
<path fill="#929292" d="M613.6,703.0 L702.6,703.0 L702.6,745.4 L677.1,751.7 L655.9,745.4 L634.8,736.9 L619.9,720.0Z"/>
<path fill="#808080" d="M630.5,724.2 L643.2,728.4 L660.2,745.4 L672.9,758.1 L664.4,766.6 L651.7,758.1 L639.0,745.4Z"/>
<path fill="#767676" d="M649.6,736.9 L658.1,736.9 L660.2,749.6 L651.7,751.7Z"/>
<path fill="#a5a5a5" d="M645.3,772.9 L668.7,766.6 L685.6,768.7 L702.6,766.6 L702.6,787.8 L668.7,792.0 L649.6,787.8Z"/>
<path fill="#afafaf" d="M649.6,787.8 L668.7,783.5 L702.6,779.3 L702.6,808.9 L655.9,808.9Z"/>
<path fill="#b8b8b8" d="M660.2,802.6 L668.7,796.2 L675.0,800.5 L677.1,813.2 L664.4,813.2Z"/>
</g>
<clipPath id="tc28"><rect x="452" y="421" width="248" height="131"/></clipPath>
<g clip-path="url(#tc28)">
<rect x="452" y="421" width="248" height="131" fill="#050505"/>
<path fill="#050505" d="M490.4,425.1 L498.9,426.8 L500.5,440.2 L503.1,457.0 L498.9,465.4 L496.3,448.6 L493.8,435.2Z"/>
<path fill="#505050" d="M455.1,436.9 L461.9,430.1 L472.0,425.1 L482.0,426.8 L490.4,431.8 L497.2,441.9 L498.9,455.4 L493.8,465.4 L487.1,462.1 L480.4,470.5 L473.6,465.4 L466.9,468.8 L458.5,468.8 L455.1,457.0Z"/>
<path fill="#3d3d3d" d="M472.0,425.9 L483.7,426.8 L482.0,435.2 L473.6,433.5Z"/>
<path fill="#5a5a5a" d="M456.8,440.2 L470.3,438.5 L473.6,453.7 L463.5,462.1 L456.8,457.0Z"/>
<path fill="#050505" d="M468.6,467.1 L478.7,467.1 L480.4,473.9 L470.3,475.5Z"/>
<path fill="#505050" d="M455.1,472.2 L465.2,470.5 L470.3,478.9 L466.9,492.4 L470.3,505.8 L466.9,519.3 L460.2,526.0 L455.1,515.9 L456.8,495.7Z"/>
<path fill="#050505" d="M461.9,478.9 L466.9,482.3 L465.2,502.4 L460.2,499.1Z"/>
<path fill="#2a2a2a" d="M478.7,475.5 L490.4,472.2 L497.2,482.3 L490.4,495.7 L483.7,509.2 L477.0,522.6 L470.3,532.7 L465.2,531.0 L473.6,515.9 L480.4,499.1 L482.0,485.6Z"/>
<path fill="#050505" d="M482.0,480.6 L488.8,478.9 L490.4,487.3 L483.7,502.4 L478.7,515.9 L473.6,522.6 L478.7,505.8 L482.0,490.7Z M515.7,480.6 L519.0,478.9 L520.7,485.6 L517.4,485.6Z M520.7,470.5 L530.8,472.2 L534.2,478.9 L530.8,478.9 L524.1,473.9Z"/>
<path fill="#5a5a5a" d="M510.6,505.8 L519.0,502.4 L524.1,492.4 L534.2,490.7 L540.9,497.4 L549.3,492.4 L556.0,490.7 L556.0,547.8 L498.9,547.8 L503.9,532.7 L510.6,526.0 L514.0,515.9Z"/>
<path fill="#050505" d="M534.2,529.3 L544.3,526.0 L549.3,532.7 L540.9,536.1Z"/>
<path fill="#636363" d="M519.0,509.2 L527.4,499.1 L537.5,499.1 L547.6,495.7 L554.3,495.7 L554.3,519.3 L544.3,524.3 L534.2,522.6 L527.4,529.3 L519.0,524.3Z"/>
<path fill="#505050" d="M520.7,492.4 L530.8,489.0 L534.2,494.0 L525.8,499.1 L520.7,499.1Z"/>
<path fill="#6d6d6d" d="M530.8,504.1 L535.9,504.1 L539.2,512.5 L544.3,509.2 L545.9,514.2 L540.9,522.6 L535.9,519.3 L532.5,512.5Z"/>
<path fill="#808080" d="M517.4,531.0 L527.4,526.0 L534.2,529.3 L540.9,534.4 L556.0,541.1 L556.0,548.7 L503.9,548.7 L510.6,539.4Z"/>
<path fill="#6d6d6d" d="M520.7,536.1 L529.1,531.0 L534.2,536.1 L530.8,542.8 L540.9,541.1 L547.6,544.5 L540.9,548.7 L519.0,548.7Z"/>
<path fill="#636363" d="M540.9,536.1 L549.3,539.4 L547.6,544.5 L542.6,542.8Z"/>
<path fill="#767676" d="M453.5,542.8 L495.5,542.8 L500.5,549.5 L453.5,549.5Z"/>
<path fill="#505050" d="M454.3,532.7 L463.5,531.0 L473.6,539.4 L463.5,544.5 L454.3,542.8Z M559.4,489.0 L571.2,489.0 L579.6,492.4 L586.3,502.4 L581.3,510.9 L572.8,507.5 L569.5,515.9 L561.1,519.3 L559.4,509.2Z"/>
<path fill="#636363" d="M560.2,494.0 L567.8,494.0 L571.2,502.4 L564.4,505.8 L560.2,502.4Z"/>
<path fill="#050505" d="M559.4,524.3 L564.4,526.0 L564.4,539.4 L559.4,539.4Z M579.6,539.4 L582.9,539.4 L582.9,544.5 L579.6,544.5Z M589.7,544.5 L594.7,544.5 L594.7,547.8 L589.7,547.8Z M634.2,455.4 L637.6,456.2 L638.4,465.4 L635.1,472.2 L633.4,463.8Z M640.1,531.0 L644.3,532.7 L646.8,544.5 L641.8,542.8Z"/>
<path fill="#2a2a2a" d="M641.8,480.6 L657.8,480.6 L656.9,489.0 L645.2,490.7Z"/>
<path fill="#3d3d3d" d="M638.4,468.8 L648.5,472.2 L656.9,478.9 L656.9,482.3 L641.8,482.3 L637.6,475.5Z"/>
<path fill="#2a2a2a" d="M633.4,512.5 L644.3,505.8 L652.7,502.4 L651.0,509.2 L638.4,515.9Z"/>
<path fill="#505050" d="M635.1,514.2 L645.2,510.9 L650.2,505.8 L651.9,515.9 L650.2,524.3 L658.6,527.7 L665.3,531.0 L662.0,536.1 L651.9,534.4 L646.8,531.0 L641.8,524.3Z"/>
<path fill="#2a2a2a" d="M641.8,531.0 L650.2,536.1 L648.5,542.8 L641.8,539.4Z"/>
<path fill="#505050" d="M672.1,549.5 L678.8,542.8 L683.8,536.1 L682.2,549.5Z"/>
<path fill="#5a5a5a" d="M682.2,549.5 L683.8,536.1 L692.2,531.0 L700.0,531.0 L700.0,549.5Z"/>
<path fill="#212121" d="M641.0,418.4 L648.5,417.5 L649.4,423.4 L642.6,423.4Z"/>
</g>
<clipPath id="tc29"><rect x="300" y="421" width="152" height="144"/></clipPath>
<g clip-path="url(#tc29)">
<rect x="300" y="421" width="152" height="144" fill="#050505"/>
<path fill="#050505" d="M300.0,421.7 L325.2,421.7 L325.2,499.1 L333.6,509.2 L342.0,522.6 L355.5,546.2 L363.9,565.0 L347.1,565.0 L338.7,546.2 L326.9,526.0 L318.5,509.2 L310.1,492.4 L300.0,482.3Z"/>
<path fill="#505050" d="M300.0,482.3 L310.1,492.4 L318.5,509.2 L326.9,526.0 L338.7,546.2 L347.1,565.0 L340.4,565.0 L333.6,549.5 L321.9,532.7 L310.1,509.2 L300.0,494.0Z"/>
<path fill="#767676" d="M300.0,494.0 L310.1,509.2 L321.9,532.7 L333.6,549.5 L340.4,565.0 L300.0,565.0Z"/>
<path fill="#6d6d6d" d="M300.0,502.4 L306.7,509.2 L308.4,522.6 L300.0,522.6Z"/>
<path fill="#808080" d="M300.0,532.7 L313.5,539.4 L323.5,552.9 L326.9,565.0 L300.0,565.0Z"/>
<path fill="#050505" d="M325.2,498.2 L404.3,566.3 L362.2,566.3 L355.5,546.2 L342.0,522.6 L333.6,509.2 L325.2,499.9Z"/>
<path fill="#808080" d="M355.5,542.8 L370.6,539.4 L394.2,559.6 L399.2,566.3 L363.9,566.3Z"/>
<path fill="#050505" d="M326.9,504.1 L332.8,506.6 L341.2,517.9 L349.6,531.0 L356.3,544.5 L362.6,559.6 L365.2,566.3 L358.5,566.3 L352.5,549.5 L345.7,536.4 L337.3,523.0 L328.9,512.9Z M301.7,452.0 L308.4,450.3 L310.1,457.0 L303.4,458.7Z M310.1,447.0 L315.1,447.0 L315.1,451.2 L310.1,451.2Z"/>
<path fill="#2a2a2a" d="M300.0,465.4 L310.1,463.8 L316.8,470.5 L306.7,472.2Z"/>
<path fill="#050505" d="M326.9,422.6 L407.6,422.6 L404.3,440.2 L394.2,457.0 L375.7,470.5 L372.3,485.6 L374.0,502.4 L380.7,512.5 L394.2,515.9 L404.3,522.6 L394.2,532.7 L380.7,536.1 L367.3,532.7 L350.4,522.6 L326.9,499.1Z"/>
<path fill="#2a2a2a" d="M348.8,423.4 L372.3,422.6 L387.4,431.8 L400.9,441.9 L404.3,453.7 L394.2,458.7 L384.1,470.5 L374.0,468.8 L367.3,457.0 L355.5,448.6 L347.1,435.2Z"/>
<path fill="#343434" d="M367.3,435.2 L384.1,436.9 L394.2,448.6 L387.4,458.7 L374.0,453.7Z"/>
<path fill="#212121" d="M372.3,425.1 L379.0,425.1 L375.7,438.5 L370.6,436.9Z"/>
<path fill="#505050" d="M328.6,457.0 L338.7,452.0 L343.7,440.2 L352.1,431.8 L362.2,433.5 L363.9,445.3 L367.3,458.7 L374.0,465.4 L377.4,472.2 L367.3,478.9 L360.5,489.0 L353.8,495.7 L343.7,499.1 L338.7,489.0 L332.0,478.9 L328.6,468.8Z"/>
<path fill="#3d3d3d" d="M355.5,433.5 L361.4,432.7 L364.7,453.7 L368.9,465.4 L364.7,465.4 L358.9,452.0Z M338.7,457.0 L350.4,455.4 L353.8,465.4 L342.0,467.1Z"/>
<path fill="#050505" d="M345.4,470.5 L348.8,470.5 L355.5,485.6 L352.1,487.3Z M335.3,423.4 L342.0,424.2 L341.2,430.1 L336.2,429.3Z M407.6,422.6 L449.7,422.6 L449.7,524.3 L439.6,515.9 L427.8,509.2 L417.7,515.9 L404.3,522.6 L394.2,515.9 L380.7,512.5 L374.0,502.4 L372.3,485.6 L375.7,470.5 L394.2,457.0 L404.3,440.2Z M417.7,443.6 L420.7,442.7 L416.7,458.7 L413.7,459.1Z M432.8,448.6 L435.9,448.6 L431.8,465.4 L428.8,465.4Z M407.6,458.7 L411.0,457.9 L401.6,477.2 L398.5,477.2Z M424.4,465.4 L427.5,465.4 L421.1,482.3 L418.0,482.3Z M394.2,478.9 L397.5,478.1 L389.8,495.7 L386.4,495.7Z M411.0,482.3 L414.0,482.3 L408.5,499.1 L405.4,499.1Z M439.6,470.5 L442.6,470.5 L438.7,487.3 L435.7,487.3Z M429.5,489.0 L432.5,489.0 L427.0,505.8 L423.9,505.8Z M380.7,482.3 L384.1,481.4 L379.7,499.1 L376.3,499.1Z M444.6,495.7 L446.6,495.7 L443.8,509.2 L441.8,509.2Z M400.9,499.1 L402.9,499.1 L399.2,510.9 L397.2,510.9Z M442.9,431.8 L445.0,431.8 L442.1,445.3 L440.1,445.3Z M421.1,428.5 L423.6,428.5 L421.9,438.5 L419.7,438.5Z"/>
<path fill="#505050" d="M355.5,515.9 L367.3,522.6 L380.7,515.9 L394.2,519.3 L404.3,526.0 L417.7,519.3 L427.8,512.5 L439.6,519.3 L449.7,526.0 L449.7,551.2 L434.5,547.8 L417.7,551.2 L400.9,547.8 L384.1,541.1 L370.6,541.1 L360.5,529.3Z"/>
<path fill="#3d3d3d" d="M400.9,529.3 L414.3,522.6 L421.1,532.7 L407.6,536.1Z M427.8,519.3 L439.6,524.3 L437.9,532.7 L427.8,529.3Z"/>
<path fill="#2a2a2a" d="M394.2,514.2 L400.9,512.5 L407.6,522.6 L402.6,526.0Z M417.7,509.2 L422.8,505.8 L429.5,512.5 L424.4,517.6Z"/>
<path fill="#6d6d6d" d="M370.6,536.1 L384.1,536.1 L400.9,542.8 L417.7,546.2 L434.5,542.8 L449.7,546.2 L449.7,565.0 L400.9,565.0 L387.4,549.5Z"/>
<path fill="#767676" d="M400.9,549.5 L417.7,549.5 L431.2,552.9 L427.8,565.0 L407.6,565.0Z"/>
<path fill="#9c9c9c" d="M432.8,549.5 L442.9,547.8 L449.7,552.9 L449.7,565.0 L434.5,565.0Z M374.0,549.5 L384.1,554.6 L394.2,565.0 L377.4,565.0Z"/>
<path fill="#b8b8b8" d="M384.1,556.3 L389.1,557.9 L392.5,565.0 L387.4,565.0Z"/>
</g>
</g>
<mask id="gm" maskUnits="userSpaceOnUse" x="180" y="180" width="1340" height="712"><g filter="url(#rough)"><rect x="150" y="150" width="1400" height="800" fill="#fff"/>
<g clip-path="url(#tc0)">
<rect x="700" y="210" width="500" height="270" fill="#fff"/>
<path fill="#000" d="M775.7,482.4 L784.8,479.4 L799.9,476.4 L821.1,473.3 L839.2,471.8 L845.3,461.2 L863.5,461.2 L881.6,462.7 L899.8,461.2 L911.9,456.7 L921.0,452.2 L930.0,449.1 L939.1,452.2 L951.2,449.1 L966.4,440.0 L984.5,435.5 L996.6,421.9 L1002.7,412.8 L1011.8,418.9 L1011.8,425.5 L1160.1,425.5 L1160.1,421.9 L1175.2,415.8 L1200.0,403.7 L1200.0,482.4Z M775.7,482.4 L784.8,479.4 L799.9,476.4 L821.1,473.3 L839.2,471.8 L845.3,461.2 L863.5,461.2 L881.6,462.7 L899.8,461.2 L911.9,456.7 L921.0,452.2 L930.0,449.1 L939.1,456.7 L951.2,455.2 L966.4,449.1 L984.5,446.1 L999.7,440.0 L1010.3,446.1 L1010.3,482.4Z M775.7,483.6 L784.8,480.6 L799.9,477.6 L821.1,474.6 L839.2,473.0 L845.3,462.4 L863.5,462.4 L881.6,464.0 L899.8,462.4 L911.9,457.9 L924.0,461.2 L933.1,467.3 L942.2,464.3 L957.3,464.3 L972.4,461.2 L987.6,467.3 L1002.7,464.3 L1010.3,467.3 L1010.3,482.4Z M781.7,482.4 L799.9,479.4 L821.1,478.2 L842.3,477.0 L857.4,482.4Z M1010.3,425.5 L1160.1,425.5 L1160.1,482.4 L1010.3,482.4Z M1014.8,452.2 L1033.0,446.1 L1048.1,458.2 L1039.0,473.3 L1020.9,470.3Z M1072.3,434.0 L1093.5,431.0 L1105.6,446.1 L1090.5,458.2 L1075.3,452.2Z M1102.6,461.2 L1123.8,467.3 L1117.7,480.0 L1099.6,480.0Z M1129.8,434.0 L1145.0,440.0 L1138.9,461.2 L1129.8,452.2Z M1048.1,434.0 L1063.2,440.0 L1060.2,452.2 L1051.1,449.1Z M1010.3,465.8 L1033.0,462.7 L1063.2,467.3 L1093.5,464.3 L1123.8,467.3 L1160.1,461.2 L1160.1,482.4 L1010.3,482.4Z M1017.8,431.0 L1063.2,427.9 L1064.7,435.5 L1054.1,443.1 L1045.1,440.0 L1036.0,434.0 L1026.9,440.0 L1019.3,437.0Z M1117.7,449.1 L1126.8,443.1 L1131.3,452.2 L1123.8,464.3 L1116.2,461.2Z M1135.9,431.0 L1157.1,421.9 L1157.1,467.3 L1148.0,452.2 L1138.9,443.1Z M1160.1,421.9 L1175.2,415.8 L1200.0,427.9 L1200.0,482.4 L1160.1,482.4Z M1034.5,385.6 L1039.0,379.5 L1051.1,385.6 L1075.3,387.1 L1081.4,378.0 L1090.5,375.9 L1093.5,391.6 L1087.4,400.7 L1090.5,409.8 L1102.6,403.7 L1116.2,397.7 L1117.7,406.7 L1105.6,418.9 L1099.6,425.5 L1033.0,425.5Z M1033.0,425.5 L1037.5,400.7 L1054.1,403.7 L1072.3,409.8 L1087.4,415.8 L1099.6,425.5Z M1033.0,425.5 L1039.0,412.8 L1057.2,415.8 L1078.4,420.4 L1093.5,422.5 L1099.6,425.5Z M1090.5,415.8 L1099.6,406.7 L1108.6,403.7 L1111.7,409.8 L1102.6,421.9 L1096.5,425.5 L1090.5,423.4Z M1187.3,391.6 L1200.0,382.5 L1200.0,415.8 L1175.2,418.9 L1172.2,415.8 L1184.3,406.7Z"/>
<path fill="#fff" d="M1175.2,419.5 L1200.0,415.8 L1200.0,429.5 L1184.3,426.4Z"/>
</g>
<g clip-path="url(#tc1)">
<rect x="1200" y="210" width="280" height="270" fill="#fff"/>
<path fill="#000" d="M1200.0,434.0 L1218.2,440.0 L1230.3,435.5 L1242.4,434.0 L1254.5,440.0 L1263.6,443.1 L1275.7,435.5 L1280.2,443.1 L1272.6,452.2 L1272.6,482.4 L1200.0,482.4Z M1200.0,418.9 L1266.6,418.9 L1268.1,422.5 L1245.4,426.4 L1224.2,424.9 L1200.0,422.5Z M1200.0,452.2 L1215.1,449.1 L1230.3,452.2 L1245.4,446.1 L1260.5,452.2 L1272.6,461.2 L1269.6,482.4 L1200.0,482.4Z M1218.2,470.3 L1245.4,464.3 L1269.6,470.3 L1269.6,482.4 L1218.2,482.4Z M1272.6,452.2 L1281.7,449.1 L1293.8,452.2 L1296.9,482.4 L1269.6,482.4Z M1275.7,435.5 L1287.8,443.1 L1293.8,449.1 L1281.7,450.6 L1272.6,452.2 L1280.2,443.1Z M1200.0,384.0 L1218.2,385.6 L1239.3,382.5 L1257.5,390.1 L1245.4,397.7 L1236.3,409.8 L1227.2,403.7 L1212.1,397.7 L1200.0,399.2Z M1203.0,388.6 L1218.2,390.1 L1236.3,388.6 L1230.3,396.2 L1212.1,394.6Z M1293.8,394.6 L1302.9,393.1 L1304.4,406.7 L1301.4,421.9 L1293.8,434.0 L1287.8,443.1 L1278.7,435.5 L1286.3,421.9 L1295.3,409.8Z M1298.4,400.7 L1301.4,400.7 L1298.4,421.9 L1290.8,437.0 L1287.8,435.5 L1295.3,421.9Z M1305.9,421.9 L1321.1,418.9 L1324.1,409.8 L1336.2,412.8 L1348.3,403.7 L1348.3,396.2 L1360.4,393.1 L1365.0,400.7 L1360.4,406.7 L1365.0,418.9 L1369.5,427.9 L1363.5,434.0 L1351.3,435.5 L1342.3,440.0 L1321.1,446.1 L1304.4,449.1Z M1318.0,421.9 L1327.1,421.9 L1328.6,434.0 L1334.7,435.5 L1330.2,443.1 L1309.0,447.6 L1313.5,437.0Z M1345.3,421.9 L1349.8,421.9 L1349.8,434.0 L1345.3,435.5Z M1355.9,409.8 L1360.4,409.8 L1360.4,418.9 L1355.9,417.3Z M1299.9,449.1 L1342.3,438.5 L1339.2,444.6 L1302.9,455.2Z M1365.0,421.9 L1384.6,417.3 L1386.2,437.0 L1369.5,438.5Z"/>
</g>
<g clip-path="url(#tc2)">
<rect x="700" y="210" width="500" height="270" fill="#fff"/>
<path fill="#000" d="M775.7,482.4 L784.8,479.4 L799.9,476.4 L821.1,473.3 L839.2,471.8 L845.3,461.2 L863.5,461.2 L881.6,462.7 L899.8,461.2 L911.9,456.7 L921.0,452.2 L930.0,449.1 L939.1,452.2 L951.2,449.1 L966.4,440.0 L984.5,435.5 L996.6,421.9 L1002.7,412.8 L1011.8,418.9 L1011.8,425.5 L1160.1,425.5 L1160.1,421.9 L1175.2,415.8 L1200.0,403.7 L1200.0,482.4Z M775.7,482.4 L784.8,479.4 L799.9,476.4 L821.1,473.3 L839.2,471.8 L845.3,461.2 L863.5,461.2 L881.6,462.7 L899.8,461.2 L911.9,456.7 L921.0,452.2 L930.0,449.1 L939.1,456.7 L951.2,455.2 L966.4,449.1 L984.5,446.1 L999.7,440.0 L1010.3,446.1 L1010.3,482.4Z M775.7,483.6 L784.8,480.6 L799.9,477.6 L821.1,474.6 L839.2,473.0 L845.3,462.4 L863.5,462.4 L881.6,464.0 L899.8,462.4 L911.9,457.9 L924.0,461.2 L933.1,467.3 L942.2,464.3 L957.3,464.3 L972.4,461.2 L987.6,467.3 L1002.7,464.3 L1010.3,467.3 L1010.3,482.4Z M781.7,482.4 L799.9,479.4 L821.1,478.2 L842.3,477.0 L857.4,482.4Z M1010.3,425.5 L1160.1,425.5 L1160.1,482.4 L1010.3,482.4Z M1014.8,452.2 L1033.0,446.1 L1048.1,458.2 L1039.0,473.3 L1020.9,470.3Z M1072.3,434.0 L1093.5,431.0 L1105.6,446.1 L1090.5,458.2 L1075.3,452.2Z M1102.6,461.2 L1123.8,467.3 L1117.7,480.0 L1099.6,480.0Z M1129.8,434.0 L1145.0,440.0 L1138.9,461.2 L1129.8,452.2Z M1048.1,434.0 L1063.2,440.0 L1060.2,452.2 L1051.1,449.1Z M1010.3,465.8 L1033.0,462.7 L1063.2,467.3 L1093.5,464.3 L1123.8,467.3 L1160.1,461.2 L1160.1,482.4 L1010.3,482.4Z M1017.8,431.0 L1063.2,427.9 L1064.7,435.5 L1054.1,443.1 L1045.1,440.0 L1036.0,434.0 L1026.9,440.0 L1019.3,437.0Z M1117.7,449.1 L1126.8,443.1 L1131.3,452.2 L1123.8,464.3 L1116.2,461.2Z M1135.9,431.0 L1157.1,421.9 L1157.1,467.3 L1148.0,452.2 L1138.9,443.1Z M1160.1,421.9 L1175.2,415.8 L1200.0,427.9 L1200.0,482.4 L1160.1,482.4Z M1034.5,385.6 L1039.0,379.5 L1051.1,385.6 L1075.3,387.1 L1081.4,378.0 L1090.5,375.9 L1093.5,391.6 L1087.4,400.7 L1090.5,409.8 L1102.6,403.7 L1116.2,397.7 L1117.7,406.7 L1105.6,418.9 L1099.6,425.5 L1033.0,425.5Z M1033.0,425.5 L1037.5,400.7 L1054.1,403.7 L1072.3,409.8 L1087.4,415.8 L1099.6,425.5Z M1033.0,425.5 L1039.0,412.8 L1057.2,415.8 L1078.4,420.4 L1093.5,422.5 L1099.6,425.5Z M1090.5,415.8 L1099.6,406.7 L1108.6,403.7 L1111.7,409.8 L1102.6,421.9 L1096.5,425.5 L1090.5,423.4Z M1187.3,391.6 L1200.0,382.5 L1200.0,415.8 L1175.2,418.9 L1172.2,415.8 L1184.3,406.7Z"/>
<path fill="#fff" d="M1175.2,419.5 L1200.0,415.8 L1200.0,429.5 L1184.3,426.4Z"/>
</g>
<g clip-path="url(#tc3)">
<rect x="1200" y="210" width="280" height="270" fill="#fff"/>
<path fill="#000" d="M1200.0,434.0 L1218.2,440.0 L1230.3,435.5 L1242.4,434.0 L1254.5,440.0 L1263.6,443.1 L1275.7,435.5 L1280.2,443.1 L1272.6,452.2 L1272.6,482.4 L1200.0,482.4Z M1200.0,418.9 L1266.6,418.9 L1268.1,422.5 L1245.4,426.4 L1224.2,424.9 L1200.0,422.5Z M1200.0,452.2 L1215.1,449.1 L1230.3,452.2 L1245.4,446.1 L1260.5,452.2 L1272.6,461.2 L1269.6,482.4 L1200.0,482.4Z M1218.2,470.3 L1245.4,464.3 L1269.6,470.3 L1269.6,482.4 L1218.2,482.4Z M1272.6,452.2 L1281.7,449.1 L1293.8,452.2 L1296.9,482.4 L1269.6,482.4Z M1275.7,435.5 L1287.8,443.1 L1293.8,449.1 L1281.7,450.6 L1272.6,452.2 L1280.2,443.1Z M1200.0,384.0 L1218.2,385.6 L1239.3,382.5 L1257.5,390.1 L1245.4,397.7 L1236.3,409.8 L1227.2,403.7 L1212.1,397.7 L1200.0,399.2Z M1203.0,388.6 L1218.2,390.1 L1236.3,388.6 L1230.3,396.2 L1212.1,394.6Z M1293.8,394.6 L1302.9,393.1 L1304.4,406.7 L1301.4,421.9 L1293.8,434.0 L1287.8,443.1 L1278.7,435.5 L1286.3,421.9 L1295.3,409.8Z M1298.4,400.7 L1301.4,400.7 L1298.4,421.9 L1290.8,437.0 L1287.8,435.5 L1295.3,421.9Z M1305.9,421.9 L1321.1,418.9 L1324.1,409.8 L1336.2,412.8 L1348.3,403.7 L1348.3,396.2 L1360.4,393.1 L1365.0,400.7 L1360.4,406.7 L1365.0,418.9 L1369.5,427.9 L1363.5,434.0 L1351.3,435.5 L1342.3,440.0 L1321.1,446.1 L1304.4,449.1Z M1318.0,421.9 L1327.1,421.9 L1328.6,434.0 L1334.7,435.5 L1330.2,443.1 L1309.0,447.6 L1313.5,437.0Z M1345.3,421.9 L1349.8,421.9 L1349.8,434.0 L1345.3,435.5Z M1355.9,409.8 L1360.4,409.8 L1360.4,418.9 L1355.9,417.3Z M1299.9,449.1 L1342.3,438.5 L1339.2,444.6 L1302.9,455.2Z M1365.0,421.9 L1384.6,417.3 L1386.2,437.0 L1369.5,438.5Z"/>
</g>
<g clip-path="url(#tc4)">
<rect x="700" y="480" width="500" height="270" fill="#000"/>
<path fill="#000" d="M1008.7,480.0 L1011.8,498.2 L1033.0,504.2 L1051.1,498.2 L1069.3,495.1 L1093.5,507.2 L1111.7,513.3 L1123.8,528.4 L1135.9,540.5 L1154.0,537.5 L1172.2,525.4 L1200.0,516.3 L1200.0,480.0Z M1069.3,480.0 L1075.3,489.1 L1093.5,495.1 L1117.7,492.1 L1138.9,486.1 L1154.0,480.0Z M1117.7,513.3 L1141.9,504.2 L1160.1,492.1 L1172.2,498.2 L1154.0,522.4 L1132.8,537.5 L1123.8,528.4Z M700.0,545.1 L712.1,531.5 L718.2,525.4 L736.3,513.3 L739.3,493.6 L769.6,489.1 L778.7,480.0 L857.4,480.0 L863.5,495.1 L881.6,501.2 L896.7,496.6 L911.9,495.1 L924.0,507.2 L942.2,510.3 L951.2,504.2 L960.3,507.2 L969.4,510.3 L984.5,505.7 L999.7,508.8 L1011.8,504.2 L1020.9,511.8 L1039.0,522.4 L1057.2,516.3 L1078.4,522.4 L1093.5,528.4 L1108.6,540.5 L1123.8,543.6 L1135.9,549.6 L1123.8,558.7 L1200.0,558.7 L1200.0,750.0 L700.0,750.0Z M924.0,510.3 L939.1,507.2 L945.2,525.4 L933.1,534.5 L921.0,525.4Z M1033.0,531.5 L1045.1,528.4 L1048.1,540.5 L1036.0,543.6Z M1078.4,534.5 L1090.5,531.5 L1090.5,543.6 L1081.4,545.1Z"/>
<path fill="#fff" d="M700.0,480.0 L775.7,480.0 L769.6,489.1 L739.3,492.1 L736.3,513.3 L718.2,525.4 L715.1,537.5 L700.0,540.5Z"/>
<path fill="#000" d="M690.9,555.7 L700.0,555.7 L715.1,551.1 L739.3,546.6 L751.5,540.5 L772.6,537.5 L775.7,525.4 L790.8,519.3 L805.9,517.8 L821.1,522.4 L830.2,531.5 L842.3,525.4 L857.4,526.9 L865.0,525.4 L869.5,531.5 L881.6,528.4 L887.7,540.5 L881.6,552.6 L893.7,555.7 L911.9,552.6 L936.1,552.6 L948.2,546.6 L963.3,545.1 L969.4,534.5 L960.3,525.4 L951.2,516.3 L945.2,507.2 L951.2,504.2 L960.3,510.3 L966.4,522.4 L981.5,525.4 L990.6,537.5 L1002.7,531.5 L1020.9,534.5 L1039.0,540.5 L1048.1,552.6 L1063.2,557.2 L1081.4,560.2 L1123.8,559.3 L1154.0,561.7 L1200.0,552.6 L1209.1,552.6 L1209.1,759.1 L690.9,759.1Z M790.8,495.1 L805.9,493.6 L807.5,504.2 L799.9,510.3 L792.3,504.2Z M690.9,601.1 L700.0,601.1 L718.2,595.0 L730.3,579.9 L745.4,570.8 L748.4,555.7 L775.7,554.2 L805.9,555.7 L836.2,554.2 L860.4,555.7 L865.0,567.8 L869.5,579.9 L881.6,585.9 L899.8,589.0 L917.9,582.9 L936.1,579.9 L951.2,576.9 L960.3,567.8 L972.4,564.8 L1002.7,566.3 L1017.8,579.9 L1033.0,570.8 L1048.1,582.9 L1045.1,595.0 L1057.2,601.1 L1075.3,604.1 L1087.4,613.2 L1102.6,607.1 L1117.7,601.1 L1132.8,595.0 L1154.0,582.9 L1172.2,576.9 L1200.0,570.8 L1209.1,570.8 L1209.1,759.1 L690.9,759.1Z M878.6,576.9 L887.7,572.3 L893.7,579.9 L902.8,582.9 L896.7,587.5 L884.6,584.4Z M690.9,622.3 L700.0,622.3 L715.1,619.2 L730.3,613.2 L748.4,607.1 L766.6,601.1 L784.8,595.0 L799.9,582.9 L821.1,576.9 L830.2,585.9 L845.3,595.0 L860.4,601.1 L869.5,607.1 L887.7,601.1 L905.8,598.0 L924.0,601.1 L942.2,595.0 L954.3,585.9 L966.4,579.9 L978.5,589.0 L996.6,592.0 L1014.8,598.0 L1033.0,604.1 L1051.1,607.1 L1063.2,616.2 L1081.4,622.3 L1099.6,613.2 L1117.7,607.1 L1135.9,604.1 L1154.0,598.0 L1172.2,592.0 L1200.0,582.9 L1209.1,582.9 L1209.1,759.1 L690.9,759.1Z M690.9,637.4 L700.0,637.4 L718.2,631.3 L730.3,622.3 L745.4,616.2 L760.5,622.3 L778.7,625.3 L799.9,628.3 L821.1,622.3 L839.2,616.2 L851.3,610.2 L863.5,619.2 L872.5,634.4 L887.7,631.3 L905.8,625.3 L917.9,610.2 L936.1,601.1 L948.2,610.2 L960.3,619.2 L978.5,623.8 L996.6,629.8 L1014.8,634.4 L1033.0,637.4 L1051.1,640.4 L1069.3,641.9 L1087.4,634.4 L1105.6,625.3 L1123.8,622.3 L1141.9,616.2 L1160.1,610.2 L1178.3,613.2 L1200.0,607.1 L1209.1,607.1 L1209.1,759.1 L690.9,759.1Z M690.9,667.7 L700.0,667.7 L712.1,658.6 L724.2,643.5 L742.4,634.4 L760.5,634.4 L778.7,637.4 L799.9,643.5 L821.1,640.4 L839.2,634.4 L857.4,637.4 L872.5,643.5 L881.6,652.5 L905.8,649.5 L924.0,643.5 L936.1,634.4 L951.2,640.4 L966.4,655.6 L984.5,652.5 L1002.7,658.6 L1020.9,652.5 L1039.0,658.6 L1057.2,667.7 L1075.3,658.6 L1093.5,652.5 L1111.7,652.5 L1129.8,649.5 L1148.0,643.5 L1166.1,637.4 L1184.3,631.3 L1200.0,625.3 L1209.1,625.3 L1209.1,759.1 L690.9,759.1Z M690.9,685.8 L700.0,685.8 L718.2,679.8 L736.3,673.7 L754.5,676.7 L772.6,685.8 L790.8,688.9 L809.0,682.8 L827.1,685.8 L845.3,691.9 L863.5,688.9 L881.6,685.8 L899.8,676.7 L917.9,673.7 L936.1,673.7 L954.3,679.8 L972.4,685.8 L990.6,682.8 L1008.7,679.8 L1026.9,682.8 L1045.1,685.8 L1063.2,682.8 L1081.4,676.7 L1099.6,673.7 L1117.7,673.7 L1135.9,667.7 L1154.0,661.6 L1172.2,658.6 L1200.0,649.5 L1209.1,649.5 L1209.1,759.1 L690.9,759.1Z M690.9,710.0 L700.0,710.0 L724.2,707.0 L748.4,710.0 L772.6,713.1 L796.9,713.1 L821.1,710.0 L845.3,713.1 L869.5,710.0 L893.7,704.0 L917.9,701.0 L942.2,704.0 L966.4,707.0 L990.6,707.0 L1014.8,704.0 L1039.0,707.0 L1063.2,704.0 L1087.4,701.0 L1111.7,697.9 L1135.9,691.9 L1154.0,688.9 L1172.2,682.8 L1200.0,676.7 L1209.1,676.7 L1209.1,759.1 L690.9,759.1Z M690.9,731.2 L700.0,731.2 L730.3,728.2 L760.5,731.2 L790.8,734.3 L821.1,731.2 L851.3,728.2 L881.6,725.2 L911.9,725.2 L942.2,725.2 L972.4,722.2 L1002.7,722.2 L1033.0,719.1 L1063.2,719.1 L1093.5,719.1 L1123.8,719.1 L1135.9,716.1 L1141.9,710.0 L1200.0,704.0 L1209.1,704.0 L1209.1,759.1 L690.9,759.1Z M700.0,752.4 L709.1,746.4 L730.3,747.9 L760.5,746.4 L790.8,747.9 L821.1,743.3 L830.2,737.3 L845.3,734.3 L857.4,740.3 L869.5,737.3 L881.6,737.3 L893.7,740.3 L911.9,737.3 L930.0,734.3 L948.2,728.2 L963.3,731.2 L972.4,752.4Z M1117.7,752.4 L1123.8,734.3 L1135.9,722.2 L1145.0,719.1 L1148.0,752.4Z M1045.1,564.8 L1081.4,560.2 L1123.8,540.5 L1135.9,549.6 L1123.8,559.3 L1135.9,563.2 L1123.8,579.9 L1102.6,601.1 L1081.4,616.2 L1069.3,613.2 L1048.1,601.1 L1042.0,582.9Z M1051.1,576.9 L1072.3,567.8 L1102.6,564.8 L1090.5,582.9 L1075.3,601.1 L1057.2,598.0Z M1075.3,604.1 L1093.5,595.0 L1117.7,579.9 L1132.8,564.8 L1154.0,546.6 L1172.2,525.4 L1190.4,504.2 L1200.0,492.1 L1200.0,513.3 L1184.3,531.5 L1166.1,552.6 L1145.0,570.8 L1129.8,589.0 L1105.6,604.1 L1090.5,614.7 L1078.4,613.2Z M1087.4,602.6 L1105.6,592.0 L1123.8,576.9 L1138.9,561.7 L1157.1,545.1 L1175.2,525.4 L1191.9,505.7 L1200.0,496.6 L1200.0,507.2 L1181.3,529.9 L1163.1,549.6 L1143.4,567.8 L1126.8,584.4 L1105.6,599.6 L1090.5,608.6Z M1117.7,584.4 L1135.9,567.8 L1154.0,551.1 L1172.2,531.5 L1184.3,516.3 L1188.8,520.9 L1175.2,536.0 L1157.1,554.2 L1138.9,570.8 L1122.3,585.9Z"/>
</g>
<g clip-path="url(#tc5)">
<rect x="1100" y="400" width="210" height="189" fill="#000"/>
<path fill="#000" d="M1100.0,400.0 L1159.3,400.0 L1159.3,480.5 L1150.9,484.8 L1142.4,491.1 L1131.8,499.6 L1121.2,505.9 L1112.7,510.2 L1100.0,505.9Z M1106.4,442.4 L1119.1,438.1 L1131.8,450.9 L1125.4,463.6 L1110.6,461.4Z M1131.8,469.9 L1148.7,463.6 L1155.1,476.3 L1142.4,484.8 L1133.9,480.5Z M1100.0,461.4 L1121.2,465.7 L1142.4,463.6 L1155.5,469.9 L1150.9,484.8 L1131.8,499.6 L1112.7,510.2 L1100.0,505.9Z M1100.0,480.5 L1121.2,483.7 L1138.1,486.9 L1131.8,499.6 L1112.7,510.2 L1100.0,505.9Z M1112.7,459.3 L1118.0,447.7 L1125.4,442.4 L1129.7,450.9 L1125.4,461.4 L1118.0,465.7Z M1138.1,431.8 L1148.7,425.4 L1159.3,421.2 L1159.3,459.3 L1153.0,453.0 L1144.5,446.6 L1139.2,440.3Z M1100.0,531.4 L1117.0,518.7 L1127.5,527.1 L1121.2,544.1 L1108.5,552.6 L1100.0,548.3Z M1112.7,489.0 L1129.7,484.8 L1142.4,495.3 L1131.8,510.2 L1119.1,505.9Z M1159.3,412.7 L1174.2,421.2 L1172.0,431.8 L1189.0,438.1 L1201.7,440.3 L1218.7,438.1 L1237.7,431.8 L1248.3,431.8 L1256.8,440.3 L1267.4,446.6 L1275.9,440.3 L1275.9,450.9 L1265.3,455.1 L1248.3,453.0 L1231.4,448.7 L1218.7,455.1 L1205.9,463.6 L1193.2,472.0 L1184.8,480.5 L1172.0,480.5 L1178.4,467.8 L1184.8,459.3 L1180.5,450.9 L1169.9,448.7 L1160.4,455.1Z M1163.6,425.4 L1172.0,433.9 L1184.8,440.3 L1182.6,448.7 L1169.9,446.6 L1161.4,450.9Z"/>
<path fill="#fff" d="M1174.2,420.1 L1265.3,420.1 L1273.7,425.4 L1275.9,438.1 L1267.4,444.5 L1256.8,438.1 L1248.3,429.7 L1237.7,429.7 L1218.7,436.0 L1201.7,438.1 L1189.0,436.0 L1176.3,431.8 L1172.0,425.4Z"/>
<path fill="#808080" d="M1176.3,429.7 L1189.0,433.9 L1201.7,436.0 L1218.7,433.9 L1237.7,427.5 L1248.3,427.5 L1256.8,436.0 L1267.4,442.4 L1269.5,447.7 L1256.8,443.4 L1248.3,433.9 L1237.7,433.9 L1218.7,440.3 L1201.7,442.4 L1189.0,440.3 L1174.2,435.0Z"/>
<path fill="#fff" d="M1174.2,417.0 L1189.0,404.2 L1218.7,400.0 L1290.7,400.0 L1294.9,419.1 L1280.1,433.9 L1275.9,427.5 L1267.4,419.1 L1174.2,419.1Z"/>
<path fill="#000" d="M1174.2,415.9 L1189.0,404.2 L1201.7,402.1 L1197.5,408.5 L1184.8,414.8 L1178.4,420.1Z M1182.6,476.3 L1191.1,465.7 L1201.7,455.1 L1212.3,446.6 L1215.5,449.8 L1205.9,458.3 L1195.3,469.9 L1186.9,478.4Z M1160.4,455.1 L1169.9,449.8 L1180.5,451.9 L1183.7,460.4 L1177.3,468.9 L1171.0,480.5 L1160.4,480.5Z M1205.9,463.6 L1218.7,455.1 L1231.4,449.8 L1248.3,454.0 L1239.8,461.4 L1227.1,463.6 L1214.4,472.0 L1205.9,472.0Z M1214.4,472.0 L1227.1,463.6 L1248.3,459.3 L1269.5,457.2 L1278.0,463.6 L1265.3,469.9 L1248.3,469.9 L1231.4,474.2Z M1216.5,482.6 L1258.9,481.6 L1248.3,491.1 L1235.6,499.6 L1227.1,510.2 L1220.8,499.6 L1214.4,489.0Z M1140.3,535.6 L1150.9,518.7 L1163.6,505.9 L1174.2,493.2 L1180.5,482.6 L1189.0,482.6 L1197.5,486.9 L1189.0,499.6 L1178.4,514.4 L1167.8,527.1 L1155.1,537.7 L1144.5,542.0Z M1148.7,527.1 L1159.3,514.4 L1167.8,505.9 L1171.0,509.1 L1162.5,518.7 L1153.0,531.4Z M1161.4,520.8 L1172.0,505.9 L1180.5,495.3 L1183.7,498.5 L1175.2,510.2 L1164.6,524.0Z M1169.9,535.6 L1184.8,518.7 L1197.5,501.7 L1205.9,493.2 L1210.2,497.5 L1199.6,512.3 L1184.8,531.4 L1174.2,542.0Z M1201.7,510.2 L1214.4,495.3 L1227.1,510.2 L1222.9,518.7 L1218.7,531.4 L1201.7,542.0 L1189.0,552.6 L1180.5,561.0 L1163.6,561.0 L1172.0,548.3 L1184.8,535.6 L1193.2,522.9Z M1220.8,522.9 L1231.4,518.7 L1246.2,520.8 L1254.7,531.4 L1254.7,548.3 L1258.9,563.2 L1180.5,563.2 L1189.0,552.6 L1201.7,542.0 L1218.7,531.4Z M1258.9,482.6 L1269.5,484.8 L1273.7,501.7 L1269.5,518.7 L1261.0,518.7 L1258.9,501.7Z M1248.3,518.7 L1267.4,520.8 L1261.0,535.6 L1252.6,548.3Z M1280.1,455.1 L1290.7,453.0 L1290.7,472.0 L1282.2,484.8 L1275.9,480.5 L1282.2,467.8Z M1278.0,440.3 L1286.5,431.8 L1297.1,442.4 L1290.7,448.7 L1280.1,450.9Z M1284.3,429.7 L1294.9,417.0 L1299.2,400.0 L1307.6,400.0 L1303.4,421.2 L1299.2,442.4 L1290.7,446.6Z"/>
<path fill="#fff" d="M1307.6,400.0 L1339.4,400.0 L1339.4,408.5 L1322.5,412.7 L1309.8,410.6Z"/>
<path fill="#000" d="M1303.4,421.2 L1309.8,410.6 L1322.5,412.7 L1339.4,408.5 L1354.3,400.0 L1367.0,404.2 L1362.7,421.2 L1354.3,433.9 L1339.4,438.1 L1303.4,444.5Z M1316.1,421.2 L1326.7,421.2 L1326.7,436.0 L1303.4,444.5 L1307.6,436.0 L1316.1,433.9Z M1294.9,455.1 L1339.4,442.4 L1341.5,445.6 L1297.1,458.3Z M1136.0,564.2 L1265.3,564.2 L1265.3,590.7 L1121.2,590.7Z M1129.7,590.7 L1142.4,582.2 L1163.6,575.9 L1184.8,569.5 L1201.7,571.6 L1218.7,575.9 L1237.7,578.0 L1252.6,582.2 L1261.0,590.7Z M1100.0,564.2 L1136.0,564.2 L1125.4,575.9 L1112.7,584.3 L1100.0,590.7Z M1121.2,569.5 L1136.0,563.2 L1140.3,567.4 L1125.4,578.0 L1112.7,586.5 L1106.4,584.3Z"/>
</g>
<g clip-path="url(#tc6)">
<rect x="1050" y="540" width="350" height="189" fill="#000"/>
<path fill="#000" d="M1050.0,540.0 L1119.9,540.0 L1109.3,548.5 L1092.4,559.1 L1071.2,560.1 L1050.0,560.1Z M1050.0,540.0 L1075.4,540.0 L1069.1,548.5 L1056.4,552.7 L1050.0,550.6Z M1088.1,540.0 L1105.1,540.0 L1098.7,548.5 L1088.1,550.6Z M1050.0,567.5 L1062.7,563.3 L1077.5,567.5 L1092.4,571.8 L1081.8,582.4 L1071.2,593.0 L1058.5,601.4 L1050.0,601.4Z M1054.2,573.9 L1067.0,569.7 L1077.5,573.9 L1069.1,586.6 L1058.5,593.0Z M1050.0,582.4 L1058.5,578.1 L1062.7,582.4 L1054.2,590.9 L1050.0,590.9Z M1168.7,540.0 L1198.3,540.0 L1187.7,548.5 L1177.1,559.1 L1155.9,561.2 L1160.2,552.7Z M1043.6,620.5 L1050.0,620.5 L1062.7,624.8 L1075.4,622.6 L1092.4,620.5 L1105.1,609.9 L1119.9,603.6 L1139.0,595.1 L1155.9,588.7 L1164.4,578.1 L1181.4,571.8 L1198.3,569.7 L1219.5,569.7 L1234.3,571.8 L1240.7,576.0 L1266.1,576.0 L1406.4,576.0 L1406.4,735.4 L1043.6,735.4Z M1043.6,629.0 L1050.0,629.0 L1067.0,633.2 L1083.9,629.0 L1100.9,624.8 L1105.1,612.0 L1119.9,607.8 L1139.0,605.7 L1151.7,601.4 L1168.7,595.1 L1185.6,590.9 L1202.6,582.4 L1219.5,578.1 L1236.5,582.4 L1266.1,582.4 L1406.4,582.4 L1406.4,735.4 L1043.6,735.4Z M1043.6,639.6 L1050.0,639.6 L1062.7,645.9 L1079.7,639.6 L1096.6,633.2 L1113.6,629.0 L1130.5,624.8 L1143.2,620.5 L1155.9,612.0 L1168.7,603.6 L1181.4,599.3 L1194.1,595.1 L1211.0,597.2 L1223.7,590.9 L1240.7,588.7 L1266.1,588.7 L1406.4,588.7 L1406.4,735.4 L1043.6,735.4Z M1043.6,667.1 L1050.0,667.1 L1062.7,665.0 L1075.4,660.8 L1092.4,654.4 L1109.3,648.1 L1122.0,643.8 L1134.8,637.5 L1143.2,629.0 L1155.9,629.0 L1164.4,635.3 L1168.7,641.7 L1181.4,641.7 L1194.1,639.6 L1198.3,635.3 L1219.5,635.3 L1406.4,635.3 L1406.4,735.4 L1043.6,735.4Z M1168.7,624.8 L1177.1,624.8 L1175.0,630.1 L1170.8,629.0Z M1043.6,679.8 L1050.0,679.8 L1067.0,675.6 L1083.9,671.4 L1100.9,667.1 L1117.8,667.1 L1134.8,665.0 L1147.5,658.7 L1160.2,654.4 L1172.9,652.3 L1185.6,650.2 L1198.3,645.9 L1406.4,645.9 L1406.4,735.4 L1043.6,735.4Z M1043.6,692.6 L1050.0,692.6 L1067.0,688.3 L1083.9,686.2 L1100.9,684.1 L1117.8,684.1 L1134.8,686.2 L1143.2,684.1 L1151.7,677.7 L1168.7,667.1 L1406.4,667.1 L1406.4,735.4 L1043.6,735.4Z M1043.6,711.6 L1050.0,711.6 L1067.0,707.4 L1083.9,707.4 L1100.9,707.4 L1113.6,705.3 L1126.3,707.4 L1139.0,707.4 L1147.5,701.0 L1406.4,701.0 L1406.4,735.4 L1043.6,735.4Z M1128.4,730.7 L1131.6,722.2 L1136.9,718.0 L1141.1,730.7Z M1077.5,601.4 L1092.4,588.7 L1109.3,578.1 L1124.2,565.4 L1134.8,552.7 L1145.3,540.0 L1168.7,540.0 L1160.2,552.7 L1147.5,563.3 L1134.8,576.0 L1119.9,588.7 L1103.0,601.4 L1090.3,609.9 L1081.8,607.8Z M1077.5,609.9 L1092.4,605.7 L1105.1,609.9 L1092.4,618.4 L1079.7,620.5Z M1119.9,540.0 L1134.8,540.0 L1130.5,548.5 L1122.0,546.4Z M1092.4,599.3 L1107.2,586.6 L1122.0,576.0 L1132.6,565.4 L1136.9,567.5 L1126.3,580.3 L1111.4,590.9 L1098.7,601.4Z M1103.0,596.1 L1113.6,586.6 L1117.8,589.8 L1107.2,598.3Z M1130.5,550.6 L1145.3,544.2 L1160.2,546.4 L1149.6,554.8 L1134.8,557.0Z M1139.0,550.6 L1147.5,547.4 L1151.7,549.5 L1143.2,553.1Z"/>
</g>
<g clip-path="url(#tc7)">
<rect x="700" y="733" width="350" height="159" fill="#000"/>
<path fill="#000" d="M700.0,703.0 L805.9,703.0 L795.3,715.7 L774.2,728.4 L753.0,734.8 L721.2,728.4 L700.0,724.2Z M693.6,726.3 L700.0,726.3 L721.2,732.7 L742.4,736.9 L763.6,732.7 L784.8,728.4 L805.9,722.1 L827.1,716.8 L848.3,713.6 L869.5,711.5 L882.2,709.4 L901.3,707.7 L922.5,707.7 L943.7,706.2 L964.9,704.7 L996.6,703.0 L1050.0,703.0 L1056.4,703.0 L1056.4,898.4 L693.6,898.4Z M693.6,734.8 L700.0,734.8 L717.0,738.0 L731.8,745.4 L753.0,747.9 L774.2,742.2 L795.3,738.0 L810.2,733.7 L827.1,729.5 L844.1,725.2 L861.0,722.1 L882.2,718.9 L901.3,716.8 L922.5,718.9 L943.7,723.1 L964.9,721.0 L975.4,723.1 L996.6,723.1 L1050.0,723.1 L1056.4,723.1 L1056.4,898.4 L693.6,898.4Z M721.2,744.3 L738.1,749.2 L759.3,751.3 L780.5,746.0 L795.3,747.1 L810.2,741.1 L827.1,736.9 L839.8,730.5 L856.8,730.5 L867.4,734.8 L873.7,731.6 L880.1,734.8 L880.1,851.3 L721.2,851.3Z M924.6,748.6 L931.0,744.3 L937.3,736.9 L950.0,732.7 L954.3,726.3 L967.0,728.4 L977.6,734.8 L983.9,758.1 L975.4,766.6 L933.1,766.6Z M731.8,760.2 L742.4,764.4 L763.6,766.6 L780.5,764.4 L793.2,766.6 L805.9,772.9 L814.4,770.8 L827.1,764.4 L839.8,758.1 L848.3,753.9 L861.0,751.7 L861.0,851.3 L731.8,851.3Z M742.4,779.3 L755.1,775.0 L765.7,772.9 L774.2,781.4 L784.8,787.8 L795.3,792.0 L801.7,787.8 L810.2,792.0 L810.2,851.3 L742.4,851.3Z M753.0,796.2 L761.4,792.0 L769.9,800.5 L774.2,811.1 L784.8,808.9 L793.2,804.7 L801.7,808.9 L810.2,813.2 L810.2,851.3 L753.0,851.3Z M761.4,817.4 L767.8,821.7 L778.4,823.8 L786.9,821.7 L795.3,825.9 L801.7,830.1 L810.2,838.6 L810.2,851.3 L761.4,851.3Z"/>
</g>
<g clip-path="url(#tc8)">
<rect x="1050" y="729" width="350" height="163" fill="#000"/>
<path fill="#000" d="M1050.0,703.0 L1139.0,703.0 L1139.0,709.4 L1113.6,711.5 L1092.4,709.4 L1071.2,713.6 L1050.0,711.5Z M1067.0,703.0 L1139.0,703.0 L1137.9,706.2 L1103.0,707.2 L1071.2,708.3Z M1099.8,750.7 L1107.2,745.4 L1111.4,739.0 L1119.9,734.8 L1128.4,728.4 L1134.8,721.0 L1177.1,721.0 L1177.1,893.7 L1099.8,893.7Z M1109.3,764.4 L1117.8,756.0 L1126.3,753.9 L1134.8,751.7 L1143.2,753.9 L1177.1,753.9 L1177.1,893.7 L1109.3,893.7Z M1111.4,777.2 L1122.0,775.0 L1130.5,770.8 L1134.8,764.4 L1143.2,764.4 L1151.7,768.7 L1177.1,768.7 L1177.1,893.7 L1111.4,893.7Z M1111.4,787.8 L1119.9,783.5 L1130.5,779.3 L1139.0,775.0 L1147.5,777.2 L1153.8,787.8 L1177.1,787.8 L1177.1,893.7 L1111.4,893.7Z M1122.0,823.8 L1130.5,821.7 L1139.0,815.3 L1147.5,812.1 L1160.2,813.2 L1168.7,815.3 L1177.1,815.3 L1177.1,893.7 L1122.0,893.7Z M1130.5,842.8 L1139.0,838.6 L1147.5,836.5 L1153.8,830.1 L1160.2,823.8 L1165.5,819.5 L1177.1,819.5 L1177.1,893.7 L1130.5,893.7Z M1153.8,842.8 L1160.2,836.5 L1165.5,838.6 L1164.4,851.3 L1158.1,853.4Z"/>
</g>
<g clip-path="url(#tc9)">
<rect x="200" y="215" width="350" height="189" fill="#000"/>
<path fill="#fff" d="M408.7,236.2 L550.0,236.2 L550.0,404.0 L488.2,404.0 L483.9,395.1 L471.2,399.3 L458.5,395.1 L445.8,393.0 L433.1,384.5 L424.6,382.4 L418.2,371.8 L411.9,363.3 L403.4,359.1 L400.2,350.6 L403.4,342.1 L411.9,333.7 L416.1,325.2 L424.6,318.8 L433.1,314.6 L439.4,320.9 L443.7,312.5 L441.5,299.8 L437.3,289.2 L431.0,278.6 L422.5,270.1 L416.1,261.6 L411.9,253.1Z"/>
<path fill="#000" d="M414.0,244.7 L422.5,244.7 L428.8,238.3 L433.1,244.7 L428.8,253.1 L439.4,263.7 L451.1,257.4 L454.3,268.0 L452.1,282.8 L443.7,284.9 L439.4,278.6 L431.0,270.1 L420.4,261.6 L414.0,255.3Z M443.7,293.4 L452.1,293.4 L450.0,308.2 L445.8,314.6 L443.7,304.0Z"/>
<path fill="#646464" d="M300.0,237.0 L390.1,237.0 L390.1,257.4 L369.5,263.7 L348.3,257.4 L335.6,270.1 L318.7,278.6 L301.7,268.0Z M282.6,333.7 L318.7,350.6 L348.3,333.7 L384.3,325.2 L386.5,363.3 L378.0,404.0 L280.5,404.0 L278.4,363.3Z M414.0,244.7 L433.1,242.5 L452.1,257.4 L453.2,282.8 L443.7,284.9 L431.0,270.1 L418.2,261.6Z"/>
<path fill="#808080" d="M400.2,342.1 L411.9,329.4 L424.6,316.7 L435.2,312.5 L440.5,318.8 L431.0,325.2 L420.4,333.7 L411.9,346.4 L406.6,361.2Z"/>
<path fill="#fff" d="M301.7,238.3 L331.4,237.2 L329.2,244.7 L320.8,246.8 L314.4,255.3 L308.1,263.7 L301.7,261.6 L305.9,251.0Z M344.1,237.2 L361.0,237.2 L356.8,248.9 L348.3,246.8Z M371.6,242.5 L386.5,237.2 L386.5,255.3 L378.0,253.1Z M391.8,237.2 L409.8,237.2 L407.6,248.9 L399.2,253.1 L392.8,246.8Z M375.9,331.5 L386.5,325.2 L390.7,337.9 L382.2,340.0Z M352.6,346.4 L369.5,337.9 L375.9,350.6 L367.4,359.1 L356.8,354.8Z M320.8,359.1 L327.1,357.0 L329.2,363.3 L322.9,363.3Z M280.5,399.3 L284.8,384.5 L295.3,378.2 L310.2,371.8 L322.9,376.0 L329.2,367.6 L344.1,361.2 L356.8,363.3 L369.5,361.2 L375.9,367.6 L369.5,380.3 L356.8,382.4 L361.0,390.9 L348.3,395.1 L335.6,388.7 L327.1,395.1 L316.5,390.9 L301.7,397.2 L291.1,404.0Z M390.7,397.2 L399.2,404.0 L390.7,404.0Z M293.2,306.1 L296.4,306.1 L296.4,310.3 L293.2,310.3Z"/>
<path fill="#000" d="M333.1,240.4 L337.3,240.4 L336.7,254.2 L344.1,260.6 L348.3,270.1 L356.8,284.9 L369.5,289.2 L382.2,297.6 L386.5,306.1 L388.6,312.5 L361.0,313.5 L352.6,325.2 L335.6,331.5 L318.7,329.4 L315.5,322.0 L327.1,312.9 L318.7,308.2 L310.2,305.7 L311.9,298.7 L318.7,295.1 L325.4,299.8 L325.4,282.8 L320.3,276.9 L325.4,275.2 L331.8,278.6 L335.6,268.0 L332.6,257.4Z M346.2,259.5 L361.0,263.7 L369.5,278.6 L361.0,282.8 L352.6,274.3Z M339.8,272.2 L348.3,274.3 L356.8,287.0 L365.3,291.3 L361.0,299.8 L348.3,295.5 L342.0,284.9Z M325.0,278.6 L335.6,275.4 L339.8,278.6 L342.0,291.3 L348.3,299.8 L356.8,304.0 L367.4,297.6 L378.0,295.5 L380.1,299.8 L365.3,306.1 L356.8,310.3 L346.2,310.3 L337.7,304.0 L329.2,295.5 L325.0,287.0Z M329.2,293.4 L337.7,289.2 L346.2,301.9 L352.6,308.2 L344.1,310.3 L335.6,301.9Z M329.2,282.8 L337.7,282.8 L337.7,289.2 L330.3,289.2Z M314.4,299.8 L322.9,300.8 L331.4,308.2 L322.9,310.3 L316.5,306.1Z M316.5,325.2 L325.0,316.7 L335.6,312.5 L348.3,315.6 L354.7,323.1 L346.2,325.2 L335.6,325.2 L325.0,328.4Z M301.3,334.7 L305.5,331.5 L308.1,334.7 L303.8,342.1 L304.9,348.5 L301.3,347.4Z M315.5,334.7 L318.2,333.2 L320.3,343.2 L335.6,345.3 L336.7,348.9 L323.3,348.9 L317.2,345.9Z M261.9,331.1 L271.0,329.4 L272.5,333.7 L267.4,339.6 L263.1,348.5 L261.0,343.8Z M262.5,337.9 L269.9,333.7 L268.9,340.0 L263.6,344.2Z M250.9,381.3 L256.8,379.8 L263.6,386.2 L267.4,393.4 L264.0,404.0 L245.6,404.0 L252.5,393.4Z M382.2,350.6 L394.9,346.4 L401.3,350.6 L403.4,363.3 L409.8,376.0 L422.5,384.5 L435.2,388.7 L447.9,395.1 L454.3,404.0 L399.2,404.0 L386.5,384.5 L378.0,371.8 L375.9,361.2Z M379.0,361.2 L388.6,361.2 L392.8,367.6 L399.2,378.2 L407.6,384.5 L420.4,390.9 L433.1,393.0 L441.5,397.2 L443.7,404.0 L411.9,404.0 L403.4,395.1 L394.9,384.5 L386.5,378.2 L380.1,369.7Z M364.2,398.9 L370.6,393.4 L377.6,388.3 L382.6,394.7 L384.3,404.0 L361.0,404.0Z M391.8,306.1 L398.7,302.9 L406.6,308.2 L401.3,312.5 L394.9,311.4Z"/>
</g>
<g clip-path="url(#tc10)">
<rect x="200" y="404" width="350" height="189" fill="#000"/>
<path fill="#fff" d="M407.6,423.1 L450.0,422.0 L451.1,539.6 L433.1,522.7 L424.6,514.2 L411.9,522.7 L403.4,514.2 L394.9,509.9 L386.5,503.6 L375.9,497.2 L371.6,488.8 L375.9,480.3 L386.5,473.9 L397.1,463.3 L403.4,450.6 L409.8,435.8Z"/>
<path fill="#000" d="M411.9,446.4 L416.1,444.3 L424.6,473.9 L420.4,476.0Z M428.8,442.1 L433.1,440.0 L441.5,467.6 L437.3,469.7Z M390.7,484.5 L394.9,482.4 L407.6,505.7 L403.4,507.8Z M433.1,484.5 L437.3,484.5 L443.7,509.9 L439.4,509.9Z M416.1,488.8 L420.4,488.8 L428.8,514.2 L424.6,514.2Z M399.2,467.6 L403.4,465.4 L411.9,484.5 L408.7,486.6Z"/>
<path fill="#fff" d="M453.2,473.9 L467.0,467.6 L475.4,476.0 L488.2,488.8 L486.0,503.6 L475.4,514.2 L486.0,526.9 L496.6,535.4 L481.8,541.7 L464.9,539.6 L453.2,531.1Z M500.9,422.0 L550.0,422.0 L550.0,490.9 L539.0,493.0 L526.3,486.6 L517.8,488.8 L511.5,497.2 L505.1,512.1 L500.9,524.8 L496.6,531.1 L494.5,518.4 L498.8,503.6 L505.1,488.8 L503.0,473.9 L505.1,463.3 L503.0,446.4Z M327.1,503.6 L335.6,509.9 L346.2,522.7 L356.8,535.4 L361.0,552.3 L367.4,569.3 L361.0,573.5 L352.6,560.8 L346.2,548.1 L337.7,535.4 L331.4,522.7 L327.1,514.2Z"/>
<path fill="#646464" d="M293.2,423.1 L325.0,423.1 L325.0,467.6 L310.2,471.8 L299.6,457.0 L293.2,437.9Z"/>
<path fill="#fff" d="M293.2,404.0 L318.7,404.0 L314.4,414.6 L301.7,412.5Z M335.6,422.0 L346.2,423.1 L344.1,429.4 L335.6,428.4Z M301.7,452.7 L314.4,448.5 L316.5,457.0 L305.9,459.1Z M390.7,404.0 L411.9,404.0 L409.8,416.7 L394.9,414.6Z M422.5,412.9 L450.0,412.5 L450.0,417.1 L424.6,416.7Z M454.3,404.0 L513.6,404.0 L513.6,417.8 L454.3,417.8Z M513.6,404.0 L550.0,404.0 L550.0,423.1 L513.6,423.1Z"/>
<path fill="#000" d="M240.3,423.1 L272.0,423.1 L276.3,433.7 L269.9,446.4 L261.4,454.9 L250.9,463.3 L242.4,459.1 L238.1,442.1Z M248.7,427.3 L263.6,425.2 L267.8,435.8 L257.2,446.4 L249.8,440.0Z M348.3,423.1 L373.7,423.1 L390.7,433.7 L403.4,446.4 L399.2,459.1 L386.5,467.6 L369.5,471.8 L356.8,463.3 L348.3,446.4 L335.6,450.6 L331.4,442.1 L344.1,433.7Z M365.3,431.5 L382.2,433.7 L390.7,446.4 L380.1,457.0 L367.4,450.6Z M331.4,457.0 L344.1,446.4 L348.3,433.7 L361.0,431.5 L365.3,446.4 L369.5,461.2 L378.0,467.6 L369.5,476.0 L361.0,484.5 L356.8,495.1 L346.2,497.2 L339.8,488.8 L335.6,476.0 L329.2,467.6Z M352.6,431.5 L358.9,429.4 L365.3,450.6 L361.0,459.1 L356.8,446.4Z M250.9,465.4 L263.6,454.9 L274.2,444.3 L284.8,444.3 L291.1,459.1 L299.6,476.0 L310.2,497.2 L320.8,518.4 L331.4,535.4 L344.1,556.6 L352.6,573.5 L356.8,593.0 L293.2,593.0 L289.0,565.0 L280.5,552.3 L274.2,531.1 L263.6,518.4 L253.0,503.6 L246.6,488.8 L248.7,473.9Z M255.1,488.8 L263.6,484.5 L272.0,501.5 L280.5,522.7 L284.8,543.8 L276.3,539.6 L263.6,514.2Z M274.2,448.5 L282.6,446.4 L286.9,459.1 L291.1,471.8 L299.6,493.0 L308.1,509.9 L318.7,526.9 L329.2,543.8 L339.8,560.8 L348.3,577.7 L350.4,593.0 L318.7,593.0 L312.3,573.5 L301.7,556.6 L291.1,535.4 L282.6,514.2 L274.2,497.2 L269.9,478.2 L269.9,461.2Z M284.8,484.5 L293.2,488.8 L301.7,505.7 L310.2,522.7 L305.9,526.9 L295.3,514.2 L286.9,499.3Z M272.0,463.3 L280.5,459.1 L284.8,473.9 L276.3,484.5 L271.0,476.0Z M314.4,539.6 L327.1,548.1 L337.7,565.0 L346.2,593.0 L327.1,593.0 L318.7,565.0Z M284.8,516.3 L293.2,514.2 L297.5,520.5 L291.1,526.9 L284.8,524.8Z M356.8,503.6 L369.5,514.2 L382.2,522.7 L394.9,522.7 L407.6,529.0 L420.4,522.7 L433.1,531.1 L451.1,541.7 L451.1,552.3 L433.1,556.6 L411.9,552.3 L390.7,548.1 L378.0,539.6 L365.3,522.7Z M367.4,548.1 L382.2,552.3 L403.4,571.4 L428.8,593.0 L361.0,593.0 L365.3,573.5Z M378.0,543.8 L390.7,550.2 L411.9,554.4 L433.1,558.7 L451.1,554.4 L451.1,569.3 L439.4,573.5 L433.1,593.0 L428.8,593.0 L403.4,569.3 L386.5,552.3Z M428.8,558.7 L439.4,552.3 L447.9,560.8 L447.9,573.5 L437.3,575.6 L431.0,569.3Z M371.6,556.6 L382.2,560.8 L390.7,573.5 L401.3,586.2 L403.4,593.0 L373.7,593.0 L369.5,573.5Z M384.3,556.6 L388.6,558.7 L392.8,571.4 L401.3,584.1 L406.6,593.0 L402.3,593.0 L396.0,584.1 L389.6,573.5Z M454.3,433.7 L467.0,427.3 L481.8,429.4 L496.6,435.8 L503.0,450.6 L500.9,467.6 L492.4,473.9 L483.9,467.6 L473.3,463.3 L462.7,465.4 L454.3,471.8Z M467.0,437.9 L479.7,435.8 L481.8,452.7 L471.2,459.1 L464.9,450.6Z M471.2,425.2 L483.9,425.2 L486.0,433.7 L475.4,435.8Z M475.4,476.0 L483.9,471.8 L492.4,476.0 L496.6,488.8 L492.4,501.5 L486.0,509.9 L477.6,514.2 L471.2,531.1 L462.7,531.1 L467.0,514.2 L475.4,501.5 L479.7,488.8Z M494.5,437.9 L503.0,429.4 L505.1,463.3 L500.9,476.0 L505.1,488.8 L498.8,503.6 L494.5,518.4 L490.3,503.6 L496.6,488.8 L494.5,473.9 L503.0,467.6Z M500.9,535.4 L509.3,514.2 L517.8,497.2 L530.5,488.8 L543.3,495.1 L550.0,493.0 L550.0,552.3 L454.3,552.3 L454.3,543.8 L475.4,546.0 L492.4,541.7Z M509.3,531.1 L517.8,509.9 L530.5,499.3 L543.3,501.5 L550.0,505.7 L550.0,543.8 L530.5,548.1 L513.6,546.0Z M513.6,522.7 L526.3,505.7 L539.0,503.6 L550.0,509.9 L550.0,531.1 L534.8,539.6 L517.8,539.6Z M454.3,553.4 L550.0,553.4 L550.0,593.0 L454.3,593.0Z M454.3,556.6 L481.8,556.6 L486.0,573.5 L475.4,593.0 L454.3,593.0Z M488.2,560.8 L496.6,556.6 L500.9,569.3 L492.4,573.5Z M530.5,565.0 L547.5,560.8 L550.0,573.5 L534.8,577.7Z M505.1,565.0 L522.1,560.8 L526.3,577.7 L511.5,582.0Z"/>
</g>
<g clip-path="url(#tc11)">
<rect x="300" y="421" width="152" height="144" fill="#fff"/>
<path fill="#000" d="M300.0,421.7 L325.2,421.7 L325.2,499.1 L333.6,509.2 L342.0,522.6 L355.5,546.2 L363.9,565.0 L347.1,565.0 L338.7,546.2 L326.9,526.0 L318.5,509.2 L310.1,492.4 L300.0,482.3Z M300.0,482.3 L310.1,492.4 L318.5,509.2 L326.9,526.0 L338.7,546.2 L347.1,565.0 L340.4,565.0 L333.6,549.5 L321.9,532.7 L310.1,509.2 L300.0,494.0Z M300.0,494.0 L310.1,509.2 L321.9,532.7 L333.6,549.5 L340.4,565.0 L300.0,565.0Z M300.0,502.4 L306.7,509.2 L308.4,522.6 L300.0,522.6Z M300.0,532.7 L313.5,539.4 L323.5,552.9 L326.9,565.0 L300.0,565.0Z M325.2,498.2 L404.3,566.3 L362.2,566.3 L355.5,546.2 L342.0,522.6 L333.6,509.2 L325.2,499.9Z M355.5,542.8 L370.6,539.4 L394.2,559.6 L399.2,566.3 L363.9,566.3Z"/>
<path fill="#fff" d="M326.9,504.1 L332.8,506.6 L341.2,517.9 L349.6,531.0 L356.3,544.5 L362.6,559.6 L365.2,566.3 L358.5,566.3 L352.5,549.5 L345.7,536.4 L337.3,523.0 L328.9,512.9Z M301.7,452.0 L308.4,450.3 L310.1,457.0 L303.4,458.7Z M310.1,447.0 L315.1,447.0 L315.1,451.2 L310.1,451.2Z"/>
<path fill="#000" d="M300.0,465.4 L310.1,463.8 L316.8,470.5 L306.7,472.2Z M326.9,422.6 L407.6,422.6 L404.3,440.2 L394.2,457.0 L375.7,470.5 L372.3,485.6 L374.0,502.4 L380.7,512.5 L394.2,515.9 L404.3,522.6 L394.2,532.7 L380.7,536.1 L367.3,532.7 L350.4,522.6 L326.9,499.1Z M348.8,423.4 L372.3,422.6 L387.4,431.8 L400.9,441.9 L404.3,453.7 L394.2,458.7 L384.1,470.5 L374.0,468.8 L367.3,457.0 L355.5,448.6 L347.1,435.2Z M367.3,435.2 L384.1,436.9 L394.2,448.6 L387.4,458.7 L374.0,453.7Z M372.3,425.1 L379.0,425.1 L375.7,438.5 L370.6,436.9Z M328.6,457.0 L338.7,452.0 L343.7,440.2 L352.1,431.8 L362.2,433.5 L363.9,445.3 L367.3,458.7 L374.0,465.4 L377.4,472.2 L367.3,478.9 L360.5,489.0 L353.8,495.7 L343.7,499.1 L338.7,489.0 L332.0,478.9 L328.6,468.8Z M355.5,433.5 L361.4,432.7 L364.7,453.7 L368.9,465.4 L364.7,465.4 L358.9,452.0Z M338.7,457.0 L350.4,455.4 L353.8,465.4 L342.0,467.1Z M345.4,470.5 L348.8,470.5 L355.5,485.6 L352.1,487.3Z"/>
<path fill="#fff" d="M335.3,423.4 L342.0,424.2 L341.2,430.1 L336.2,429.3Z M407.6,422.6 L449.7,422.6 L449.7,524.3 L439.6,515.9 L427.8,509.2 L417.7,515.9 L404.3,522.6 L394.2,515.9 L380.7,512.5 L374.0,502.4 L372.3,485.6 L375.7,470.5 L394.2,457.0 L404.3,440.2Z"/>
<path fill="#000" d="M417.7,443.6 L420.7,442.7 L416.7,458.7 L413.7,459.1Z M432.8,448.6 L435.9,448.6 L431.8,465.4 L428.8,465.4Z M407.6,458.7 L411.0,457.9 L401.6,477.2 L398.5,477.2Z M424.4,465.4 L427.5,465.4 L421.1,482.3 L418.0,482.3Z M394.2,478.9 L397.5,478.1 L389.8,495.7 L386.4,495.7Z M411.0,482.3 L414.0,482.3 L408.5,499.1 L405.4,499.1Z M439.6,470.5 L442.6,470.5 L438.7,487.3 L435.7,487.3Z M429.5,489.0 L432.5,489.0 L427.0,505.8 L423.9,505.8Z M380.7,482.3 L384.1,481.4 L379.7,499.1 L376.3,499.1Z M444.6,495.7 L446.6,495.7 L443.8,509.2 L441.8,509.2Z M400.9,499.1 L402.9,499.1 L399.2,510.9 L397.2,510.9Z M442.9,431.8 L445.0,431.8 L442.1,445.3 L440.1,445.3Z M421.1,428.5 L423.6,428.5 L421.9,438.5 L419.7,438.5Z M355.5,515.9 L367.3,522.6 L380.7,515.9 L394.2,519.3 L404.3,526.0 L417.7,519.3 L427.8,512.5 L439.6,519.3 L449.7,526.0 L449.7,551.2 L434.5,547.8 L417.7,551.2 L400.9,547.8 L384.1,541.1 L370.6,541.1 L360.5,529.3Z M400.9,529.3 L414.3,522.6 L421.1,532.7 L407.6,536.1Z M427.8,519.3 L439.6,524.3 L437.9,532.7 L427.8,529.3Z M394.2,514.2 L400.9,512.5 L407.6,522.6 L402.6,526.0Z M417.7,509.2 L422.8,505.8 L429.5,512.5 L424.4,517.6Z M370.6,536.1 L384.1,536.1 L400.9,542.8 L417.7,546.2 L434.5,542.8 L449.7,546.2 L449.7,565.0 L400.9,565.0 L387.4,549.5Z M400.9,549.5 L417.7,549.5 L431.2,552.9 L427.8,565.0 L407.6,565.0Z M432.8,549.5 L442.9,547.8 L449.7,552.9 L449.7,565.0 L434.5,565.0Z M374.0,549.5 L384.1,554.6 L394.2,565.0 L377.4,565.0Z M384.1,556.3 L389.1,557.9 L392.5,565.0 L387.4,565.0Z"/>
</g>
<g clip-path="url(#tc12)">
<rect x="550" y="404" width="150" height="189" fill="#fff"/>
<path fill="#000" d="M542.4,488.8 L556.8,488.8 L556.8,550.2 L542.4,550.2Z M556.8,488.8 L569.9,488.8 L578.4,497.2 L589.0,501.5 L584.8,512.1 L572.0,509.9 L567.8,518.4 L559.3,522.7 L556.8,518.4Z M558.3,493.0 L567.8,493.0 L572.0,503.6 L563.6,509.9 L558.3,505.7Z M639.8,482.4 L657.9,481.3 L656.8,488.8 L646.2,489.8Z M637.7,467.6 L644.1,471.8 L654.7,476.0 L656.8,482.4 L648.3,484.5 L639.8,480.3Z M634.5,455.9 L637.7,457.0 L638.8,467.6 L635.6,476.0 L633.5,467.6Z M633.5,512.1 L646.2,503.6 L651.5,502.5 L648.3,509.9 L637.7,514.2Z M635.6,512.1 L646.2,507.8 L650.4,503.6 L652.6,509.9 L648.3,520.5 L656.8,526.9 L667.4,533.2 L661.0,537.5 L652.6,535.4 L648.3,531.1 L644.1,522.7Z M646.2,531.1 L654.7,535.4 L652.6,539.6 L646.2,537.5Z M682.2,552.3 L684.3,533.2 L694.9,528.2 L705.1,530.3 L705.1,552.3Z M685.4,552.3 L687.5,536.4 L694.9,531.1 L704.5,533.2 L704.5,552.3Z M559.3,524.8 L565.7,522.7 L567.8,535.4 L561.4,539.6Z M578.4,539.6 L582.6,539.6 L583.7,548.1 L579.5,548.1Z M591.1,544.9 L595.3,544.9 L595.3,549.1 L591.1,549.1Z M642.0,531.1 L646.2,533.2 L648.3,543.8 L644.1,541.7Z M558.3,553.4 L589.0,553.4 L591.1,565.0 L584.8,579.9 L569.9,586.2 L559.3,584.1Z M561.4,556.6 L580.5,555.5 L582.6,569.3 L572.0,577.7 L562.5,573.5Z M580.5,565.0 L589.0,567.2 L586.9,575.6 L580.5,573.5Z M595.3,593.0 L599.6,584.1 L610.2,575.6 L618.7,577.7 L627.1,586.2 L637.7,590.5 L648.3,586.2 L661.0,588.3 L671.6,577.7 L678.0,565.0 L681.2,558.7 L682.2,593.0Z M610.2,571.4 L618.7,573.5 L622.9,582.0 L618.7,584.1 L612.3,577.7Z M661.0,593.0 L669.5,586.2 L678.0,579.9 L682.2,582.0 L682.2,593.0Z M682.6,550.2 L703.4,550.2 L703.4,593.0 L682.6,593.0Z M684.3,579.9 L700.0,573.5 L700.0,593.0 L684.3,593.0Z"/>
</g>
<g clip-path="url(#tc13)">
<rect x="452" y="421" width="248" height="131" fill="#fff"/>
<path fill="#000" d="M490.4,425.1 L498.9,426.8 L500.5,440.2 L503.1,457.0 L498.9,465.4 L496.3,448.6 L493.8,435.2Z M455.1,436.9 L461.9,430.1 L472.0,425.1 L482.0,426.8 L490.4,431.8 L497.2,441.9 L498.9,455.4 L493.8,465.4 L487.1,462.1 L480.4,470.5 L473.6,465.4 L466.9,468.8 L458.5,468.8 L455.1,457.0Z M472.0,425.9 L483.7,426.8 L482.0,435.2 L473.6,433.5Z M456.8,440.2 L470.3,438.5 L473.6,453.7 L463.5,462.1 L456.8,457.0Z"/>
<path fill="#fff" d="M468.6,467.1 L478.7,467.1 L480.4,473.9 L470.3,475.5Z"/>
<path fill="#000" d="M455.1,472.2 L465.2,470.5 L470.3,478.9 L466.9,492.4 L470.3,505.8 L466.9,519.3 L460.2,526.0 L455.1,515.9 L456.8,495.7Z"/>
<path fill="#fff" d="M461.9,478.9 L466.9,482.3 L465.2,502.4 L460.2,499.1Z"/>
<path fill="#000" d="M478.7,475.5 L490.4,472.2 L497.2,482.3 L490.4,495.7 L483.7,509.2 L477.0,522.6 L470.3,532.7 L465.2,531.0 L473.6,515.9 L480.4,499.1 L482.0,485.6Z M482.0,480.6 L488.8,478.9 L490.4,487.3 L483.7,502.4 L478.7,515.9 L473.6,522.6 L478.7,505.8 L482.0,490.7Z M515.7,480.6 L519.0,478.9 L520.7,485.6 L517.4,485.6Z M520.7,470.5 L530.8,472.2 L534.2,478.9 L530.8,478.9 L524.1,473.9Z M510.6,505.8 L519.0,502.4 L524.1,492.4 L534.2,490.7 L540.9,497.4 L549.3,492.4 L556.0,490.7 L556.0,547.8 L498.9,547.8 L503.9,532.7 L510.6,526.0 L514.0,515.9Z M534.2,529.3 L544.3,526.0 L549.3,532.7 L540.9,536.1Z M519.0,509.2 L527.4,499.1 L537.5,499.1 L547.6,495.7 L554.3,495.7 L554.3,519.3 L544.3,524.3 L534.2,522.6 L527.4,529.3 L519.0,524.3Z M520.7,492.4 L530.8,489.0 L534.2,494.0 L525.8,499.1 L520.7,499.1Z M530.8,504.1 L535.9,504.1 L539.2,512.5 L544.3,509.2 L545.9,514.2 L540.9,522.6 L535.9,519.3 L532.5,512.5Z M517.4,531.0 L527.4,526.0 L534.2,529.3 L540.9,534.4 L556.0,541.1 L556.0,548.7 L503.9,548.7 L510.6,539.4Z M520.7,536.1 L529.1,531.0 L534.2,536.1 L530.8,542.8 L540.9,541.1 L547.6,544.5 L540.9,548.7 L519.0,548.7Z M540.9,536.1 L549.3,539.4 L547.6,544.5 L542.6,542.8Z M453.5,542.8 L495.5,542.8 L500.5,549.5 L453.5,549.5Z M454.3,532.7 L463.5,531.0 L473.6,539.4 L463.5,544.5 L454.3,542.8Z M559.4,489.0 L571.2,489.0 L579.6,492.4 L586.3,502.4 L581.3,510.9 L572.8,507.5 L569.5,515.9 L561.1,519.3 L559.4,509.2Z M560.2,494.0 L567.8,494.0 L571.2,502.4 L564.4,505.8 L560.2,502.4Z M559.4,524.3 L564.4,526.0 L564.4,539.4 L559.4,539.4Z M579.6,539.4 L582.9,539.4 L582.9,544.5 L579.6,544.5Z M589.7,544.5 L594.7,544.5 L594.7,547.8 L589.7,547.8Z M634.2,455.4 L637.6,456.2 L638.4,465.4 L635.1,472.2 L633.4,463.8Z M640.1,531.0 L644.3,532.7 L646.8,544.5 L641.8,542.8Z M641.8,480.6 L657.8,480.6 L656.9,489.0 L645.2,490.7Z M638.4,468.8 L648.5,472.2 L656.9,478.9 L656.9,482.3 L641.8,482.3 L637.6,475.5Z M633.4,512.5 L644.3,505.8 L652.7,502.4 L651.0,509.2 L638.4,515.9Z M635.1,514.2 L645.2,510.9 L650.2,505.8 L651.9,515.9 L650.2,524.3 L658.6,527.7 L665.3,531.0 L662.0,536.1 L651.9,534.4 L646.8,531.0 L641.8,524.3Z M641.8,531.0 L650.2,536.1 L648.5,542.8 L641.8,539.4Z M672.1,549.5 L678.8,542.8 L683.8,536.1 L682.2,549.5Z M682.2,549.5 L683.8,536.1 L692.2,531.0 L700.0,531.0 L700.0,549.5Z M641.0,418.4 L648.5,417.5 L649.4,423.4 L642.6,423.4Z"/>
</g>
<g clip-path="url(#tc14)">
<rect x="290" y="540" width="350" height="189" fill="#000"/>
<path fill="#000" d="M290.0,540.0 L323.9,540.0 L319.7,552.7 L309.1,565.4 L302.7,582.4 L294.2,573.9 L290.0,565.4Z M323.9,571.8 L338.7,565.4 L351.4,582.4 L353.6,601.4 L343.0,603.6 L330.3,590.9Z M290.0,557.0 L298.5,569.7 L307.0,588.7 L315.4,609.9 L332.4,622.6 L349.3,629.0 L359.9,633.2 L353.6,624.8 L336.6,616.3 L323.9,603.6 L315.4,586.6 L307.0,569.7 L298.5,552.7 L290.0,546.4Z M302.7,582.4 L315.4,593.0 L326.0,605.7 L345.1,609.9 L359.9,620.5 L353.6,609.9 L336.6,603.6 L323.9,595.1 L311.2,578.1Z M337.7,540.0 L344.0,540.0 L353.6,567.5 L363.1,580.3 L357.8,583.4 L347.2,567.5Z"/>
<path fill="#fff" d="M343.0,540.0 L362.0,540.0 L366.3,565.4 L359.9,576.0 L351.4,561.2Z"/>
<path fill="#000" d="M317.5,609.9 L345.1,605.7 L370.5,609.9 L389.6,620.5 L400.2,633.2 L406.5,650.2 L408.7,667.1 L387.5,668.2 L381.1,654.4 L370.5,641.7 L359.9,633.2 L349.3,629.0 L332.4,622.6 L317.5,618.4Z M359.9,614.2 L374.8,614.2 L379.0,624.8 L366.3,624.8Z M391.7,637.5 L400.2,639.6 L402.3,662.9 L395.9,662.9Z M370.5,567.5 L391.7,552.7 L408.7,565.4 L421.4,582.4 L438.3,605.7 L442.6,624.8 L436.2,629.0 L425.6,616.3 L408.7,612.0 L395.9,603.6 L383.2,593.0 L370.5,582.4Z M381.1,590.9 L395.9,588.7 L404.4,599.3 L391.7,603.6Z M370.5,548.5 L389.6,544.2 L408.7,552.7 L425.6,561.2 L417.1,565.4 L400.2,559.1 L383.2,557.0Z M425.6,561.2 L438.3,552.7 L451.0,561.2 L451.0,573.9 L438.3,576.0 L427.7,569.7Z M383.2,557.0 L387.5,557.0 L393.8,576.0 L404.4,586.6 L406.5,591.9 L401.2,589.8 L391.7,580.3Z M340.2,609.9 L341.0,608.0 L343.0,607.2 L344.9,608.0 L345.7,609.9 L344.9,611.8 L343.0,612.7 L341.0,611.8Z M388.7,625.8 L389.8,623.4 L392.1,622.4 L394.5,623.4 L395.5,625.8 L394.5,628.2 L392.1,629.2 L389.8,628.2Z M414.6,571.8 L415.4,570.0 L417.1,569.2 L418.9,570.0 L419.7,571.8 L418.9,573.6 L417.1,574.3 L415.4,573.6Z M410.8,615.2 L423.5,614.2 L429.8,622.6 L442.6,620.5 L447.9,624.8 L442.6,633.2 L438.3,645.9 L436.2,658.7 L438.3,665.0 L408.7,667.1 L405.5,654.4 L398.1,633.2 L408.7,639.6 L419.2,645.9 L425.6,637.5 L419.2,626.9Z M415.0,652.3 L425.6,652.3 L423.5,658.7 L416.1,658.7Z M408.7,641.7 L417.1,645.9 L412.9,650.2 L406.5,648.1Z M429.8,658.7 L438.3,658.7 L438.3,664.0 L432.0,662.9Z M453.2,552.7 L480.7,552.7 L476.5,569.7 L468.0,586.6 L459.5,603.6 L451.0,603.6 L446.8,582.4 L453.2,576.0Z M438.3,629.0 L451.0,624.8 L465.9,624.8 L480.7,631.1 L501.9,639.6 L523.1,650.2 L544.3,667.1 L554.9,684.1 L554.9,701.0 L514.6,701.0 L436.2,671.4 L438.3,658.7 L436.2,645.9Z M451.0,603.6 L468.0,609.9 L484.9,624.8 L506.1,633.2 L527.3,645.9 L548.5,660.8 L554.9,675.6 L544.3,667.1 L523.1,650.2 L501.9,639.6 L480.7,631.1 L465.9,624.8 L451.0,624.8Z M444.7,609.9 L453.2,603.6 L459.5,614.2 L451.0,624.8 L442.6,622.6Z M438.3,667.1 L446.8,658.7 L459.5,654.4 L474.3,645.9 L484.9,637.5 L497.6,639.6 L506.1,648.1 L501.9,654.4 L489.2,658.7 L480.7,667.1 L476.5,679.8 L472.2,686.2Z M457.4,658.7 L465.9,658.7 L465.9,667.1 L457.4,667.1Z M489.2,641.7 L499.8,643.8 L497.6,650.2 L490.2,650.2Z M501.9,688.3 L523.1,675.6 L544.3,679.8 L554.9,688.3 L554.9,701.0 L514.6,701.0Z M480.7,609.9 L497.6,620.5 L514.6,633.2 L531.5,641.7 L544.3,650.2 L555.9,654.4 L555.9,667.1 L540.0,658.7 L523.1,650.2 L506.1,639.6 L489.2,629.0 L476.5,618.4Z M455.3,552.7 L555.9,552.7 L555.9,633.2 L544.3,637.5 L533.7,629.0 L523.1,620.5 L510.4,607.8 L497.6,595.1 L489.2,582.4 L476.5,573.9 L468.0,586.6 L459.5,582.4Z M501.9,561.2 L523.1,559.1 L544.3,565.4 L550.6,593.0 L540.0,609.9 L523.1,603.6 L510.4,586.6Z M506.1,576.0 L514.6,578.1 L527.3,595.1 L533.7,603.6 L527.3,603.6 L514.6,590.9Z M472.2,576.0 L484.9,578.1 L493.4,593.0 L484.9,603.6 L472.2,595.1Z M529.4,563.3 L542.1,561.2 L544.3,578.1 L535.8,586.6 L529.4,576.0Z M474.3,578.1 L480.7,578.1 L478.6,590.9 L474.3,588.7Z M489.6,587.0 L501.0,597.6 L511.6,610.3 L524.8,620.1 L520.1,626.4 L505.7,618.0 L493.8,605.3Z"/>
<path fill="#fff" d="M495.5,593.0 L501.9,593.0 L504.0,599.3 L497.6,599.3Z"/>
<path fill="#000" d="M541.1,623.7 L551.7,623.7 L551.7,636.4 L541.1,636.4Z"/>
<path fill="#fff" d="M543.6,626.2 L549.6,626.2 L549.6,633.9 L543.6,633.9Z"/>
<path fill="#000" d="M453.2,540.0 L555.9,540.0 L555.9,549.5 L453.2,549.5Z M480.7,540.0 L523.1,540.0 L518.8,549.5 L484.9,549.5Z M559.1,552.7 L640.0,552.7 L640.0,729.0 L559.1,729.0Z M559.1,552.7 L586.6,552.7 L603.6,565.4 L607.8,582.4 L595.1,590.9 L582.4,586.6 L571.8,586.6 L559.1,590.9Z M580.3,567.5 L588.8,565.4 L590.9,573.9 L582.4,576.0Z"/>
<path fill="#fff" d="M559.1,540.0 L640.0,540.0 L640.0,549.5 L559.1,549.5Z M607.8,565.4 L640.0,561.2 L640.0,582.4 L629.0,586.6 L616.3,582.4Z"/>
<path fill="#000" d="M559.9,593.0 L573.5,589.6 L586.2,599.3 L594.5,612.5 L590.9,628.6 L582.8,633.2 L574.3,641.3 L563.3,645.1 L559.9,633.7Z"/>
<path fill="#9c9c9c" d="M561.2,595.1 L572.9,591.9 L584.5,601.4 L591.9,613.1 L588.8,626.9 L581.3,631.1 L572.9,638.5 L564.4,641.7 L561.6,632.2Z"/>
<path fill="#000" d="M620.5,603.6 L640.0,599.3 L640.0,658.7 L629.0,667.1 L620.5,650.2Z M599.3,603.6 L612.1,599.3 L616.3,624.8 L607.8,650.2 L599.3,641.7Z M624.8,641.7 L631.1,641.7 L632.2,665.0 L625.8,665.0Z"/>
<path fill="#fff" d="M618.4,601.4 L624.8,601.4 L626.9,614.2 L620.5,614.2Z"/>
<path fill="#000" d="M622.7,623.7 L629.0,623.7 L629.0,630.1 L622.7,630.1Z M586.6,675.6 L607.8,667.1 L616.3,684.1 L595.1,688.3Z M607.8,684.1 L640.0,684.1 L640.0,729.0 L620.5,701.0Z"/>
</g>
<g clip-path="url(#tc15)">
<rect x="540" y="560" width="160" height="189" fill="#000"/>
<path fill="#000" d="M500.0,560.0 L555.1,560.0 L555.1,587.5 L546.6,581.2 L533.9,583.3 L525.4,572.7 L512.7,568.5 L500.0,572.7Z M500.0,572.7 L512.7,568.5 L525.4,572.7 L533.9,583.3 L546.6,581.2 L555.1,587.5 L555.1,623.6 L542.4,621.4 L525.4,610.9 L512.7,598.1 L500.0,587.5Z M504.2,577.0 L517.0,587.5 L527.5,602.4 L521.2,602.4 L510.6,591.8Z M529.7,562.1 L540.3,562.1 L538.1,570.6 L531.8,568.5Z M548.7,579.1 L555.1,581.2 L554.0,591.8 L549.8,589.7Z M500.0,592.2 L508.9,600.3 L521.6,612.5 L536.4,623.1 L551.3,629.5 L553.4,640.9 L542.4,644.8 L537.7,635.0 L522.5,624.4 L509.7,613.8 L500.0,604.9Z"/>
<path fill="#fff" d="M542.4,627.8 L550.9,629.9 L549.8,637.3 L543.4,636.3Z"/>
<path fill="#000" d="M500.0,608.7 L512.7,617.2 L525.4,627.8 L538.1,638.4 L542.4,649.0 L529.7,644.8 L517.0,636.3 L500.0,623.6Z M500.0,621.4 L514.8,634.2 L531.8,646.9 L548.7,655.3 L555.5,661.7 L555.5,670.2 L542.4,665.9 L525.4,655.3 L508.5,642.6 L500.0,634.2Z M500.0,632.0 L517.0,644.8 L533.9,655.3 L550.9,663.8 L555.1,678.7 L542.4,678.7 L521.2,661.7 L500.0,649.0Z M500.0,649.0 L517.0,661.7 L525.4,678.7 L512.7,695.6 L500.0,693.5Z M521.2,661.7 L542.4,678.7 L555.1,678.7 L555.1,698.8 L512.7,698.8 L525.4,680.8Z M558.3,560.0 L589.0,560.0 L593.2,574.8 L584.8,583.3 L569.9,583.3 L558.3,589.7Z M561.4,562.1 L580.5,562.1 L582.6,574.8 L572.0,581.2 L562.5,577.0Z M665.3,579.1 L675.9,566.4 L682.2,566.4 L682.2,583.3 L669.5,587.5Z M590.1,572.7 L605.9,591.8 L615.5,583.3 L625.4,593.9 L637.7,591.8 L648.3,587.5 L661.0,583.3 L671.6,574.8 L680.1,568.5 L682.2,581.2 L667.4,591.8 L652.6,596.0 L639.8,601.3 L625.0,603.4 L615.5,593.9 L605.9,602.4 L589.0,589.7Z"/>
<path fill="#fff" d="M589.0,560.0 L593.2,578.6 L605.7,584.8 L615.1,575.7 L625.9,586.5 L636.7,584.8 L642.8,578.6 L652.1,577.2 L661.5,578.6 L670.8,571.0 L675.9,560.0Z"/>
<path fill="#808080" d="M592.2,574.8 L605.7,581.2 L615.1,572.3 L625.9,582.9 L636.7,581.2 L642.8,575.3 L652.1,573.8 L661.5,575.3 L669.5,568.5 L672.7,572.7 L662.1,582.2 L652.1,580.8 L644.1,582.2 L637.3,588.6 L625.4,590.1 L615.5,579.5 L605.9,588.6 L592.4,582.2Z"/>
<path fill="#000" d="M599.6,581.2 L605.9,586.5 L615.5,578.0 L625.4,588.6 L637.3,587.1 L646.2,581.2 L648.3,586.5 L637.7,591.8 L625.0,592.8 L615.5,583.3 L605.9,591.8 L597.5,586.5Z M559.3,589.2 L571.6,585.0 L591.5,589.2 L597.5,598.6 L593.2,612.5 L595.3,629.5 L590.3,642.6 L584.3,653.2 L574.6,654.9 L564.4,646.4 L559.8,629.5Z"/>
<path fill="#9c9c9c" d="M560.4,591.8 L569.9,585.4 L589.0,589.7 L595.3,598.1 L591.1,610.9 L584.8,617.2 L593.2,627.8 L589.0,638.4 L580.5,642.6 L569.9,636.3 L563.6,623.6 L560.4,610.9Z"/>
<path fill="#000" d="M561.4,659.6 L574.2,663.8 L586.9,661.7 L593.2,651.1 L599.6,634.2 L605.9,640.5 L599.6,659.6 L589.0,670.2 L572.0,672.3 L563.6,668.1Z M595.3,613.0 L605.9,623.6 L614.4,649.0 L618.7,670.2 L610.2,682.9 L599.6,665.9 L593.2,644.8Z M605.9,596.0 L618.7,591.8 L631.4,598.1 L639.8,606.6 L644.1,623.6 L639.8,640.5 L631.4,649.0 L618.7,644.8 L610.2,627.8 L605.9,613.0Z M610.2,596.0 L618.7,593.9 L627.1,602.4 L629.2,615.1 L622.9,623.6 L616.5,615.1 L612.3,604.5Z"/>
<path fill="#fff" d="M618.7,601.3 L624.0,601.3 L626.1,615.1 L620.8,616.1Z"/>
<path fill="#000" d="M624.0,622.5 L631.4,623.6 L630.3,629.9 L625.0,628.9Z M624.0,642.6 L632.4,643.7 L634.5,665.9 L626.1,667.0Z M646.2,585.4 L665.3,581.2 L682.2,585.4 L682.2,629.9 L669.5,623.6 L656.8,606.6 L648.3,596.0Z M639.8,629.9 L656.8,613.0 L669.5,623.6 L682.2,632.0 L682.2,684.0 L648.3,684.0 L644.1,657.5Z M648.3,644.8 L661.0,636.3 L669.5,649.0 L682.2,657.5 L682.2,674.4 L669.5,670.2 L656.8,665.9 L648.3,657.5Z M652.6,670.2 L665.3,663.8 L682.2,674.4 L682.2,684.0 L652.6,684.0Z M559.3,674.4 L605.9,674.4 L608.1,685.0 L574.2,689.2 L574.2,699.8 L557.2,699.8Z M684.3,566.4 L703.4,566.4 L703.4,581.2 L684.3,589.7Z M684.3,589.7 L703.4,581.2 L703.4,623.6 L684.3,629.9Z M684.3,629.9 L703.4,623.6 L703.4,644.8 L684.3,649.0Z M684.3,649.0 L703.4,644.8 L703.4,653.2 L684.3,659.6Z M684.3,659.6 L703.4,653.2 L703.4,665.9 L684.3,674.4Z M684.3,674.4 L703.4,665.9 L703.4,749.0 L684.3,749.0Z M608.1,685.0 L700.0,685.0 L700.0,749.0 L648.3,749.0Z M614.4,687.1 L631.4,687.1 L648.3,697.7 L656.8,712.6 L669.5,721.0 L682.2,727.4 L669.5,735.9 L656.8,729.5 L648.3,716.8 L635.6,704.1 L622.9,695.6Z M627.1,689.2 L644.1,699.8 L652.6,712.6 L646.2,712.6 L635.6,702.0Z M655.7,714.7 L664.2,714.7 L665.3,725.3 L656.8,727.4Z M652.6,740.1 L669.5,738.0 L686.5,729.5 L700.0,725.3 L700.0,749.0 L652.6,749.0Z M656.8,746.5 L700.0,738.0 L700.0,749.0Z"/>
</g>
<g clip-path="url(#tc16)">
<rect x="550" y="749" width="150" height="143" fill="#000"/>
<path fill="#000" d="M613.6,703.0 L702.6,703.0 L702.6,745.4 L677.1,751.7 L655.9,745.4 L634.8,736.9 L619.9,720.0Z M630.5,724.2 L643.2,728.4 L660.2,745.4 L672.9,758.1 L664.4,766.6 L651.7,758.1 L639.0,745.4Z M649.6,736.9 L658.1,736.9 L660.2,749.6 L651.7,751.7Z M645.3,772.9 L668.7,766.6 L685.6,768.7 L702.6,766.6 L702.6,787.8 L668.7,792.0 L649.6,787.8Z M649.6,787.8 L668.7,783.5 L702.6,779.3 L702.6,808.9 L655.9,808.9Z M660.2,802.6 L668.7,796.2 L675.0,800.5 L677.1,813.2 L664.4,813.2Z"/>
</g>
<g clip-path="url(#tc17)">
<rect x="700" y="480" width="500" height="270" fill="#000"/>
<path fill="#000" d="M1008.7,480.0 L1011.8,498.2 L1033.0,504.2 L1051.1,498.2 L1069.3,495.1 L1093.5,507.2 L1111.7,513.3 L1123.8,528.4 L1135.9,540.5 L1154.0,537.5 L1172.2,525.4 L1200.0,516.3 L1200.0,480.0Z M1069.3,480.0 L1075.3,489.1 L1093.5,495.1 L1117.7,492.1 L1138.9,486.1 L1154.0,480.0Z M1117.7,513.3 L1141.9,504.2 L1160.1,492.1 L1172.2,498.2 L1154.0,522.4 L1132.8,537.5 L1123.8,528.4Z M700.0,545.1 L712.1,531.5 L718.2,525.4 L736.3,513.3 L739.3,493.6 L769.6,489.1 L778.7,480.0 L857.4,480.0 L863.5,495.1 L881.6,501.2 L896.7,496.6 L911.9,495.1 L924.0,507.2 L942.2,510.3 L951.2,504.2 L960.3,507.2 L969.4,510.3 L984.5,505.7 L999.7,508.8 L1011.8,504.2 L1020.9,511.8 L1039.0,522.4 L1057.2,516.3 L1078.4,522.4 L1093.5,528.4 L1108.6,540.5 L1123.8,543.6 L1135.9,549.6 L1123.8,558.7 L1200.0,558.7 L1200.0,750.0 L700.0,750.0Z M924.0,510.3 L939.1,507.2 L945.2,525.4 L933.1,534.5 L921.0,525.4Z M1033.0,531.5 L1045.1,528.4 L1048.1,540.5 L1036.0,543.6Z M1078.4,534.5 L1090.5,531.5 L1090.5,543.6 L1081.4,545.1Z"/>
<path fill="#fff" d="M700.0,480.0 L775.7,480.0 L769.6,489.1 L739.3,492.1 L736.3,513.3 L718.2,525.4 L715.1,537.5 L700.0,540.5Z"/>
<path fill="#000" d="M690.9,555.7 L700.0,555.7 L715.1,551.1 L739.3,546.6 L751.5,540.5 L772.6,537.5 L775.7,525.4 L790.8,519.3 L805.9,517.8 L821.1,522.4 L830.2,531.5 L842.3,525.4 L857.4,526.9 L865.0,525.4 L869.5,531.5 L881.6,528.4 L887.7,540.5 L881.6,552.6 L893.7,555.7 L911.9,552.6 L936.1,552.6 L948.2,546.6 L963.3,545.1 L969.4,534.5 L960.3,525.4 L951.2,516.3 L945.2,507.2 L951.2,504.2 L960.3,510.3 L966.4,522.4 L981.5,525.4 L990.6,537.5 L1002.7,531.5 L1020.9,534.5 L1039.0,540.5 L1048.1,552.6 L1063.2,557.2 L1081.4,560.2 L1123.8,559.3 L1154.0,561.7 L1200.0,552.6 L1209.1,552.6 L1209.1,759.1 L690.9,759.1Z M790.8,495.1 L805.9,493.6 L807.5,504.2 L799.9,510.3 L792.3,504.2Z M690.9,601.1 L700.0,601.1 L718.2,595.0 L730.3,579.9 L745.4,570.8 L748.4,555.7 L775.7,554.2 L805.9,555.7 L836.2,554.2 L860.4,555.7 L865.0,567.8 L869.5,579.9 L881.6,585.9 L899.8,589.0 L917.9,582.9 L936.1,579.9 L951.2,576.9 L960.3,567.8 L972.4,564.8 L1002.7,566.3 L1017.8,579.9 L1033.0,570.8 L1048.1,582.9 L1045.1,595.0 L1057.2,601.1 L1075.3,604.1 L1087.4,613.2 L1102.6,607.1 L1117.7,601.1 L1132.8,595.0 L1154.0,582.9 L1172.2,576.9 L1200.0,570.8 L1209.1,570.8 L1209.1,759.1 L690.9,759.1Z M878.6,576.9 L887.7,572.3 L893.7,579.9 L902.8,582.9 L896.7,587.5 L884.6,584.4Z M690.9,622.3 L700.0,622.3 L715.1,619.2 L730.3,613.2 L748.4,607.1 L766.6,601.1 L784.8,595.0 L799.9,582.9 L821.1,576.9 L830.2,585.9 L845.3,595.0 L860.4,601.1 L869.5,607.1 L887.7,601.1 L905.8,598.0 L924.0,601.1 L942.2,595.0 L954.3,585.9 L966.4,579.9 L978.5,589.0 L996.6,592.0 L1014.8,598.0 L1033.0,604.1 L1051.1,607.1 L1063.2,616.2 L1081.4,622.3 L1099.6,613.2 L1117.7,607.1 L1135.9,604.1 L1154.0,598.0 L1172.2,592.0 L1200.0,582.9 L1209.1,582.9 L1209.1,759.1 L690.9,759.1Z M690.9,637.4 L700.0,637.4 L718.2,631.3 L730.3,622.3 L745.4,616.2 L760.5,622.3 L778.7,625.3 L799.9,628.3 L821.1,622.3 L839.2,616.2 L851.3,610.2 L863.5,619.2 L872.5,634.4 L887.7,631.3 L905.8,625.3 L917.9,610.2 L936.1,601.1 L948.2,610.2 L960.3,619.2 L978.5,623.8 L996.6,629.8 L1014.8,634.4 L1033.0,637.4 L1051.1,640.4 L1069.3,641.9 L1087.4,634.4 L1105.6,625.3 L1123.8,622.3 L1141.9,616.2 L1160.1,610.2 L1178.3,613.2 L1200.0,607.1 L1209.1,607.1 L1209.1,759.1 L690.9,759.1Z M690.9,667.7 L700.0,667.7 L712.1,658.6 L724.2,643.5 L742.4,634.4 L760.5,634.4 L778.7,637.4 L799.9,643.5 L821.1,640.4 L839.2,634.4 L857.4,637.4 L872.5,643.5 L881.6,652.5 L905.8,649.5 L924.0,643.5 L936.1,634.4 L951.2,640.4 L966.4,655.6 L984.5,652.5 L1002.7,658.6 L1020.9,652.5 L1039.0,658.6 L1057.2,667.7 L1075.3,658.6 L1093.5,652.5 L1111.7,652.5 L1129.8,649.5 L1148.0,643.5 L1166.1,637.4 L1184.3,631.3 L1200.0,625.3 L1209.1,625.3 L1209.1,759.1 L690.9,759.1Z M690.9,685.8 L700.0,685.8 L718.2,679.8 L736.3,673.7 L754.5,676.7 L772.6,685.8 L790.8,688.9 L809.0,682.8 L827.1,685.8 L845.3,691.9 L863.5,688.9 L881.6,685.8 L899.8,676.7 L917.9,673.7 L936.1,673.7 L954.3,679.8 L972.4,685.8 L990.6,682.8 L1008.7,679.8 L1026.9,682.8 L1045.1,685.8 L1063.2,682.8 L1081.4,676.7 L1099.6,673.7 L1117.7,673.7 L1135.9,667.7 L1154.0,661.6 L1172.2,658.6 L1200.0,649.5 L1209.1,649.5 L1209.1,759.1 L690.9,759.1Z M690.9,710.0 L700.0,710.0 L724.2,707.0 L748.4,710.0 L772.6,713.1 L796.9,713.1 L821.1,710.0 L845.3,713.1 L869.5,710.0 L893.7,704.0 L917.9,701.0 L942.2,704.0 L966.4,707.0 L990.6,707.0 L1014.8,704.0 L1039.0,707.0 L1063.2,704.0 L1087.4,701.0 L1111.7,697.9 L1135.9,691.9 L1154.0,688.9 L1172.2,682.8 L1200.0,676.7 L1209.1,676.7 L1209.1,759.1 L690.9,759.1Z M690.9,731.2 L700.0,731.2 L730.3,728.2 L760.5,731.2 L790.8,734.3 L821.1,731.2 L851.3,728.2 L881.6,725.2 L911.9,725.2 L942.2,725.2 L972.4,722.2 L1002.7,722.2 L1033.0,719.1 L1063.2,719.1 L1093.5,719.1 L1123.8,719.1 L1135.9,716.1 L1141.9,710.0 L1200.0,704.0 L1209.1,704.0 L1209.1,759.1 L690.9,759.1Z M700.0,752.4 L709.1,746.4 L730.3,747.9 L760.5,746.4 L790.8,747.9 L821.1,743.3 L830.2,737.3 L845.3,734.3 L857.4,740.3 L869.5,737.3 L881.6,737.3 L893.7,740.3 L911.9,737.3 L930.0,734.3 L948.2,728.2 L963.3,731.2 L972.4,752.4Z M1117.7,752.4 L1123.8,734.3 L1135.9,722.2 L1145.0,719.1 L1148.0,752.4Z M1045.1,564.8 L1081.4,560.2 L1123.8,540.5 L1135.9,549.6 L1123.8,559.3 L1135.9,563.2 L1123.8,579.9 L1102.6,601.1 L1081.4,616.2 L1069.3,613.2 L1048.1,601.1 L1042.0,582.9Z M1051.1,576.9 L1072.3,567.8 L1102.6,564.8 L1090.5,582.9 L1075.3,601.1 L1057.2,598.0Z M1075.3,604.1 L1093.5,595.0 L1117.7,579.9 L1132.8,564.8 L1154.0,546.6 L1172.2,525.4 L1190.4,504.2 L1200.0,492.1 L1200.0,513.3 L1184.3,531.5 L1166.1,552.6 L1145.0,570.8 L1129.8,589.0 L1105.6,604.1 L1090.5,614.7 L1078.4,613.2Z M1087.4,602.6 L1105.6,592.0 L1123.8,576.9 L1138.9,561.7 L1157.1,545.1 L1175.2,525.4 L1191.9,505.7 L1200.0,496.6 L1200.0,507.2 L1181.3,529.9 L1163.1,549.6 L1143.4,567.8 L1126.8,584.4 L1105.6,599.6 L1090.5,608.6Z M1117.7,584.4 L1135.9,567.8 L1154.0,551.1 L1172.2,531.5 L1184.3,516.3 L1188.8,520.9 L1175.2,536.0 L1157.1,554.2 L1138.9,570.8 L1122.3,585.9Z"/>
</g>
<g clip-path="url(#tc18)">
<rect x="1100" y="400" width="210" height="189" fill="#000"/>
<path fill="#000" d="M1100.0,400.0 L1159.3,400.0 L1159.3,480.5 L1150.9,484.8 L1142.4,491.1 L1131.8,499.6 L1121.2,505.9 L1112.7,510.2 L1100.0,505.9Z M1106.4,442.4 L1119.1,438.1 L1131.8,450.9 L1125.4,463.6 L1110.6,461.4Z M1131.8,469.9 L1148.7,463.6 L1155.1,476.3 L1142.4,484.8 L1133.9,480.5Z M1100.0,461.4 L1121.2,465.7 L1142.4,463.6 L1155.5,469.9 L1150.9,484.8 L1131.8,499.6 L1112.7,510.2 L1100.0,505.9Z M1100.0,480.5 L1121.2,483.7 L1138.1,486.9 L1131.8,499.6 L1112.7,510.2 L1100.0,505.9Z M1112.7,459.3 L1118.0,447.7 L1125.4,442.4 L1129.7,450.9 L1125.4,461.4 L1118.0,465.7Z M1138.1,431.8 L1148.7,425.4 L1159.3,421.2 L1159.3,459.3 L1153.0,453.0 L1144.5,446.6 L1139.2,440.3Z M1100.0,531.4 L1117.0,518.7 L1127.5,527.1 L1121.2,544.1 L1108.5,552.6 L1100.0,548.3Z M1112.7,489.0 L1129.7,484.8 L1142.4,495.3 L1131.8,510.2 L1119.1,505.9Z M1159.3,412.7 L1174.2,421.2 L1172.0,431.8 L1189.0,438.1 L1201.7,440.3 L1218.7,438.1 L1237.7,431.8 L1248.3,431.8 L1256.8,440.3 L1267.4,446.6 L1275.9,440.3 L1275.9,450.9 L1265.3,455.1 L1248.3,453.0 L1231.4,448.7 L1218.7,455.1 L1205.9,463.6 L1193.2,472.0 L1184.8,480.5 L1172.0,480.5 L1178.4,467.8 L1184.8,459.3 L1180.5,450.9 L1169.9,448.7 L1160.4,455.1Z M1163.6,425.4 L1172.0,433.9 L1184.8,440.3 L1182.6,448.7 L1169.9,446.6 L1161.4,450.9Z"/>
<path fill="#fff" d="M1174.2,420.1 L1265.3,420.1 L1273.7,425.4 L1275.9,438.1 L1267.4,444.5 L1256.8,438.1 L1248.3,429.7 L1237.7,429.7 L1218.7,436.0 L1201.7,438.1 L1189.0,436.0 L1176.3,431.8 L1172.0,425.4Z"/>
<path fill="#808080" d="M1176.3,429.7 L1189.0,433.9 L1201.7,436.0 L1218.7,433.9 L1237.7,427.5 L1248.3,427.5 L1256.8,436.0 L1267.4,442.4 L1269.5,447.7 L1256.8,443.4 L1248.3,433.9 L1237.7,433.9 L1218.7,440.3 L1201.7,442.4 L1189.0,440.3 L1174.2,435.0Z"/>
<path fill="#fff" d="M1174.2,417.0 L1189.0,404.2 L1218.7,400.0 L1290.7,400.0 L1294.9,419.1 L1280.1,433.9 L1275.9,427.5 L1267.4,419.1 L1174.2,419.1Z"/>
<path fill="#000" d="M1174.2,415.9 L1189.0,404.2 L1201.7,402.1 L1197.5,408.5 L1184.8,414.8 L1178.4,420.1Z M1182.6,476.3 L1191.1,465.7 L1201.7,455.1 L1212.3,446.6 L1215.5,449.8 L1205.9,458.3 L1195.3,469.9 L1186.9,478.4Z M1160.4,455.1 L1169.9,449.8 L1180.5,451.9 L1183.7,460.4 L1177.3,468.9 L1171.0,480.5 L1160.4,480.5Z M1205.9,463.6 L1218.7,455.1 L1231.4,449.8 L1248.3,454.0 L1239.8,461.4 L1227.1,463.6 L1214.4,472.0 L1205.9,472.0Z M1214.4,472.0 L1227.1,463.6 L1248.3,459.3 L1269.5,457.2 L1278.0,463.6 L1265.3,469.9 L1248.3,469.9 L1231.4,474.2Z M1216.5,482.6 L1258.9,481.6 L1248.3,491.1 L1235.6,499.6 L1227.1,510.2 L1220.8,499.6 L1214.4,489.0Z M1140.3,535.6 L1150.9,518.7 L1163.6,505.9 L1174.2,493.2 L1180.5,482.6 L1189.0,482.6 L1197.5,486.9 L1189.0,499.6 L1178.4,514.4 L1167.8,527.1 L1155.1,537.7 L1144.5,542.0Z M1148.7,527.1 L1159.3,514.4 L1167.8,505.9 L1171.0,509.1 L1162.5,518.7 L1153.0,531.4Z M1161.4,520.8 L1172.0,505.9 L1180.5,495.3 L1183.7,498.5 L1175.2,510.2 L1164.6,524.0Z M1169.9,535.6 L1184.8,518.7 L1197.5,501.7 L1205.9,493.2 L1210.2,497.5 L1199.6,512.3 L1184.8,531.4 L1174.2,542.0Z M1201.7,510.2 L1214.4,495.3 L1227.1,510.2 L1222.9,518.7 L1218.7,531.4 L1201.7,542.0 L1189.0,552.6 L1180.5,561.0 L1163.6,561.0 L1172.0,548.3 L1184.8,535.6 L1193.2,522.9Z M1220.8,522.9 L1231.4,518.7 L1246.2,520.8 L1254.7,531.4 L1254.7,548.3 L1258.9,563.2 L1180.5,563.2 L1189.0,552.6 L1201.7,542.0 L1218.7,531.4Z M1258.9,482.6 L1269.5,484.8 L1273.7,501.7 L1269.5,518.7 L1261.0,518.7 L1258.9,501.7Z M1248.3,518.7 L1267.4,520.8 L1261.0,535.6 L1252.6,548.3Z M1280.1,455.1 L1290.7,453.0 L1290.7,472.0 L1282.2,484.8 L1275.9,480.5 L1282.2,467.8Z M1278.0,440.3 L1286.5,431.8 L1297.1,442.4 L1290.7,448.7 L1280.1,450.9Z M1284.3,429.7 L1294.9,417.0 L1299.2,400.0 L1307.6,400.0 L1303.4,421.2 L1299.2,442.4 L1290.7,446.6Z"/>
<path fill="#fff" d="M1307.6,400.0 L1339.4,400.0 L1339.4,408.5 L1322.5,412.7 L1309.8,410.6Z"/>
<path fill="#000" d="M1303.4,421.2 L1309.8,410.6 L1322.5,412.7 L1339.4,408.5 L1354.3,400.0 L1367.0,404.2 L1362.7,421.2 L1354.3,433.9 L1339.4,438.1 L1303.4,444.5Z M1316.1,421.2 L1326.7,421.2 L1326.7,436.0 L1303.4,444.5 L1307.6,436.0 L1316.1,433.9Z M1294.9,455.1 L1339.4,442.4 L1341.5,445.6 L1297.1,458.3Z M1136.0,564.2 L1265.3,564.2 L1265.3,590.7 L1121.2,590.7Z M1129.7,590.7 L1142.4,582.2 L1163.6,575.9 L1184.8,569.5 L1201.7,571.6 L1218.7,575.9 L1237.7,578.0 L1252.6,582.2 L1261.0,590.7Z M1100.0,564.2 L1136.0,564.2 L1125.4,575.9 L1112.7,584.3 L1100.0,590.7Z M1121.2,569.5 L1136.0,563.2 L1140.3,567.4 L1125.4,578.0 L1112.7,586.5 L1106.4,584.3Z"/>
</g>
<g clip-path="url(#tc19)">
<rect x="1050" y="540" width="350" height="189" fill="#000"/>
<path fill="#000" d="M1050.0,540.0 L1119.9,540.0 L1109.3,548.5 L1092.4,559.1 L1071.2,560.1 L1050.0,560.1Z M1050.0,540.0 L1075.4,540.0 L1069.1,548.5 L1056.4,552.7 L1050.0,550.6Z M1088.1,540.0 L1105.1,540.0 L1098.7,548.5 L1088.1,550.6Z M1050.0,567.5 L1062.7,563.3 L1077.5,567.5 L1092.4,571.8 L1081.8,582.4 L1071.2,593.0 L1058.5,601.4 L1050.0,601.4Z M1054.2,573.9 L1067.0,569.7 L1077.5,573.9 L1069.1,586.6 L1058.5,593.0Z M1050.0,582.4 L1058.5,578.1 L1062.7,582.4 L1054.2,590.9 L1050.0,590.9Z M1168.7,540.0 L1198.3,540.0 L1187.7,548.5 L1177.1,559.1 L1155.9,561.2 L1160.2,552.7Z M1043.6,620.5 L1050.0,620.5 L1062.7,624.8 L1075.4,622.6 L1092.4,620.5 L1105.1,609.9 L1119.9,603.6 L1139.0,595.1 L1155.9,588.7 L1164.4,578.1 L1181.4,571.8 L1198.3,569.7 L1219.5,569.7 L1234.3,571.8 L1240.7,576.0 L1266.1,576.0 L1406.4,576.0 L1406.4,735.4 L1043.6,735.4Z M1043.6,629.0 L1050.0,629.0 L1067.0,633.2 L1083.9,629.0 L1100.9,624.8 L1105.1,612.0 L1119.9,607.8 L1139.0,605.7 L1151.7,601.4 L1168.7,595.1 L1185.6,590.9 L1202.6,582.4 L1219.5,578.1 L1236.5,582.4 L1266.1,582.4 L1406.4,582.4 L1406.4,735.4 L1043.6,735.4Z M1043.6,639.6 L1050.0,639.6 L1062.7,645.9 L1079.7,639.6 L1096.6,633.2 L1113.6,629.0 L1130.5,624.8 L1143.2,620.5 L1155.9,612.0 L1168.7,603.6 L1181.4,599.3 L1194.1,595.1 L1211.0,597.2 L1223.7,590.9 L1240.7,588.7 L1266.1,588.7 L1406.4,588.7 L1406.4,735.4 L1043.6,735.4Z M1043.6,667.1 L1050.0,667.1 L1062.7,665.0 L1075.4,660.8 L1092.4,654.4 L1109.3,648.1 L1122.0,643.8 L1134.8,637.5 L1143.2,629.0 L1155.9,629.0 L1164.4,635.3 L1168.7,641.7 L1181.4,641.7 L1194.1,639.6 L1198.3,635.3 L1219.5,635.3 L1406.4,635.3 L1406.4,735.4 L1043.6,735.4Z M1168.7,624.8 L1177.1,624.8 L1175.0,630.1 L1170.8,629.0Z M1043.6,679.8 L1050.0,679.8 L1067.0,675.6 L1083.9,671.4 L1100.9,667.1 L1117.8,667.1 L1134.8,665.0 L1147.5,658.7 L1160.2,654.4 L1172.9,652.3 L1185.6,650.2 L1198.3,645.9 L1406.4,645.9 L1406.4,735.4 L1043.6,735.4Z M1043.6,692.6 L1050.0,692.6 L1067.0,688.3 L1083.9,686.2 L1100.9,684.1 L1117.8,684.1 L1134.8,686.2 L1143.2,684.1 L1151.7,677.7 L1168.7,667.1 L1406.4,667.1 L1406.4,735.4 L1043.6,735.4Z M1043.6,711.6 L1050.0,711.6 L1067.0,707.4 L1083.9,707.4 L1100.9,707.4 L1113.6,705.3 L1126.3,707.4 L1139.0,707.4 L1147.5,701.0 L1406.4,701.0 L1406.4,735.4 L1043.6,735.4Z M1128.4,730.7 L1131.6,722.2 L1136.9,718.0 L1141.1,730.7Z M1077.5,601.4 L1092.4,588.7 L1109.3,578.1 L1124.2,565.4 L1134.8,552.7 L1145.3,540.0 L1168.7,540.0 L1160.2,552.7 L1147.5,563.3 L1134.8,576.0 L1119.9,588.7 L1103.0,601.4 L1090.3,609.9 L1081.8,607.8Z M1077.5,609.9 L1092.4,605.7 L1105.1,609.9 L1092.4,618.4 L1079.7,620.5Z M1119.9,540.0 L1134.8,540.0 L1130.5,548.5 L1122.0,546.4Z M1092.4,599.3 L1107.2,586.6 L1122.0,576.0 L1132.6,565.4 L1136.9,567.5 L1126.3,580.3 L1111.4,590.9 L1098.7,601.4Z M1103.0,596.1 L1113.6,586.6 L1117.8,589.8 L1107.2,598.3Z M1130.5,550.6 L1145.3,544.2 L1160.2,546.4 L1149.6,554.8 L1134.8,557.0Z M1139.0,550.6 L1147.5,547.4 L1151.7,549.5 L1143.2,553.1Z"/>
</g>
<g clip-path="url(#tc20)">
<rect x="700" y="733" width="350" height="159" fill="#000"/>
<path fill="#000" d="M700.0,703.0 L805.9,703.0 L795.3,715.7 L774.2,728.4 L753.0,734.8 L721.2,728.4 L700.0,724.2Z M693.6,726.3 L700.0,726.3 L721.2,732.7 L742.4,736.9 L763.6,732.7 L784.8,728.4 L805.9,722.1 L827.1,716.8 L848.3,713.6 L869.5,711.5 L882.2,709.4 L901.3,707.7 L922.5,707.7 L943.7,706.2 L964.9,704.7 L996.6,703.0 L1050.0,703.0 L1056.4,703.0 L1056.4,898.4 L693.6,898.4Z M693.6,734.8 L700.0,734.8 L717.0,738.0 L731.8,745.4 L753.0,747.9 L774.2,742.2 L795.3,738.0 L810.2,733.7 L827.1,729.5 L844.1,725.2 L861.0,722.1 L882.2,718.9 L901.3,716.8 L922.5,718.9 L943.7,723.1 L964.9,721.0 L975.4,723.1 L996.6,723.1 L1050.0,723.1 L1056.4,723.1 L1056.4,898.4 L693.6,898.4Z M721.2,744.3 L738.1,749.2 L759.3,751.3 L780.5,746.0 L795.3,747.1 L810.2,741.1 L827.1,736.9 L839.8,730.5 L856.8,730.5 L867.4,734.8 L873.7,731.6 L880.1,734.8 L880.1,851.3 L721.2,851.3Z M924.6,748.6 L931.0,744.3 L937.3,736.9 L950.0,732.7 L954.3,726.3 L967.0,728.4 L977.6,734.8 L983.9,758.1 L975.4,766.6 L933.1,766.6Z M731.8,760.2 L742.4,764.4 L763.6,766.6 L780.5,764.4 L793.2,766.6 L805.9,772.9 L814.4,770.8 L827.1,764.4 L839.8,758.1 L848.3,753.9 L861.0,751.7 L861.0,851.3 L731.8,851.3Z M742.4,779.3 L755.1,775.0 L765.7,772.9 L774.2,781.4 L784.8,787.8 L795.3,792.0 L801.7,787.8 L810.2,792.0 L810.2,851.3 L742.4,851.3Z M753.0,796.2 L761.4,792.0 L769.9,800.5 L774.2,811.1 L784.8,808.9 L793.2,804.7 L801.7,808.9 L810.2,813.2 L810.2,851.3 L753.0,851.3Z M761.4,817.4 L767.8,821.7 L778.4,823.8 L786.9,821.7 L795.3,825.9 L801.7,830.1 L810.2,838.6 L810.2,851.3 L761.4,851.3Z"/>
</g>
<g clip-path="url(#tc21)">
<rect x="1050" y="729" width="350" height="163" fill="#000"/>
<path fill="#000" d="M1050.0,703.0 L1139.0,703.0 L1139.0,709.4 L1113.6,711.5 L1092.4,709.4 L1071.2,713.6 L1050.0,711.5Z M1067.0,703.0 L1139.0,703.0 L1137.9,706.2 L1103.0,707.2 L1071.2,708.3Z M1099.8,750.7 L1107.2,745.4 L1111.4,739.0 L1119.9,734.8 L1128.4,728.4 L1134.8,721.0 L1177.1,721.0 L1177.1,893.7 L1099.8,893.7Z M1109.3,764.4 L1117.8,756.0 L1126.3,753.9 L1134.8,751.7 L1143.2,753.9 L1177.1,753.9 L1177.1,893.7 L1109.3,893.7Z M1111.4,777.2 L1122.0,775.0 L1130.5,770.8 L1134.8,764.4 L1143.2,764.4 L1151.7,768.7 L1177.1,768.7 L1177.1,893.7 L1111.4,893.7Z M1111.4,787.8 L1119.9,783.5 L1130.5,779.3 L1139.0,775.0 L1147.5,777.2 L1153.8,787.8 L1177.1,787.8 L1177.1,893.7 L1111.4,893.7Z M1122.0,823.8 L1130.5,821.7 L1139.0,815.3 L1147.5,812.1 L1160.2,813.2 L1168.7,815.3 L1177.1,815.3 L1177.1,893.7 L1122.0,893.7Z M1130.5,842.8 L1139.0,838.6 L1147.5,836.5 L1153.8,830.1 L1160.2,823.8 L1165.5,819.5 L1177.1,819.5 L1177.1,893.7 L1130.5,893.7Z M1153.8,842.8 L1160.2,836.5 L1165.5,838.6 L1164.4,851.3 L1158.1,853.4Z"/>
</g>
<g clip-path="url(#tc22)">
<rect x="200" y="215" width="350" height="189" fill="#000"/>
<path fill="#fff" d="M408.7,236.2 L550.0,236.2 L550.0,404.0 L488.2,404.0 L483.9,395.1 L471.2,399.3 L458.5,395.1 L445.8,393.0 L433.1,384.5 L424.6,382.4 L418.2,371.8 L411.9,363.3 L403.4,359.1 L400.2,350.6 L403.4,342.1 L411.9,333.7 L416.1,325.2 L424.6,318.8 L433.1,314.6 L439.4,320.9 L443.7,312.5 L441.5,299.8 L437.3,289.2 L431.0,278.6 L422.5,270.1 L416.1,261.6 L411.9,253.1Z"/>
<path fill="#000" d="M414.0,244.7 L422.5,244.7 L428.8,238.3 L433.1,244.7 L428.8,253.1 L439.4,263.7 L451.1,257.4 L454.3,268.0 L452.1,282.8 L443.7,284.9 L439.4,278.6 L431.0,270.1 L420.4,261.6 L414.0,255.3Z M443.7,293.4 L452.1,293.4 L450.0,308.2 L445.8,314.6 L443.7,304.0Z"/>
<path fill="#646464" d="M300.0,237.0 L390.1,237.0 L390.1,257.4 L369.5,263.7 L348.3,257.4 L335.6,270.1 L318.7,278.6 L301.7,268.0Z M282.6,333.7 L318.7,350.6 L348.3,333.7 L384.3,325.2 L386.5,363.3 L378.0,404.0 L280.5,404.0 L278.4,363.3Z M414.0,244.7 L433.1,242.5 L452.1,257.4 L453.2,282.8 L443.7,284.9 L431.0,270.1 L418.2,261.6Z"/>
<path fill="#808080" d="M400.2,342.1 L411.9,329.4 L424.6,316.7 L435.2,312.5 L440.5,318.8 L431.0,325.2 L420.4,333.7 L411.9,346.4 L406.6,361.2Z"/>
<path fill="#fff" d="M301.7,238.3 L331.4,237.2 L329.2,244.7 L320.8,246.8 L314.4,255.3 L308.1,263.7 L301.7,261.6 L305.9,251.0Z M344.1,237.2 L361.0,237.2 L356.8,248.9 L348.3,246.8Z M371.6,242.5 L386.5,237.2 L386.5,255.3 L378.0,253.1Z M391.8,237.2 L409.8,237.2 L407.6,248.9 L399.2,253.1 L392.8,246.8Z M375.9,331.5 L386.5,325.2 L390.7,337.9 L382.2,340.0Z M352.6,346.4 L369.5,337.9 L375.9,350.6 L367.4,359.1 L356.8,354.8Z M320.8,359.1 L327.1,357.0 L329.2,363.3 L322.9,363.3Z M280.5,399.3 L284.8,384.5 L295.3,378.2 L310.2,371.8 L322.9,376.0 L329.2,367.6 L344.1,361.2 L356.8,363.3 L369.5,361.2 L375.9,367.6 L369.5,380.3 L356.8,382.4 L361.0,390.9 L348.3,395.1 L335.6,388.7 L327.1,395.1 L316.5,390.9 L301.7,397.2 L291.1,404.0Z M390.7,397.2 L399.2,404.0 L390.7,404.0Z M293.2,306.1 L296.4,306.1 L296.4,310.3 L293.2,310.3Z"/>
<path fill="#000" d="M333.1,240.4 L337.3,240.4 L336.7,254.2 L344.1,260.6 L348.3,270.1 L356.8,284.9 L369.5,289.2 L382.2,297.6 L386.5,306.1 L388.6,312.5 L361.0,313.5 L352.6,325.2 L335.6,331.5 L318.7,329.4 L315.5,322.0 L327.1,312.9 L318.7,308.2 L310.2,305.7 L311.9,298.7 L318.7,295.1 L325.4,299.8 L325.4,282.8 L320.3,276.9 L325.4,275.2 L331.8,278.6 L335.6,268.0 L332.6,257.4Z M346.2,259.5 L361.0,263.7 L369.5,278.6 L361.0,282.8 L352.6,274.3Z M339.8,272.2 L348.3,274.3 L356.8,287.0 L365.3,291.3 L361.0,299.8 L348.3,295.5 L342.0,284.9Z M325.0,278.6 L335.6,275.4 L339.8,278.6 L342.0,291.3 L348.3,299.8 L356.8,304.0 L367.4,297.6 L378.0,295.5 L380.1,299.8 L365.3,306.1 L356.8,310.3 L346.2,310.3 L337.7,304.0 L329.2,295.5 L325.0,287.0Z M329.2,293.4 L337.7,289.2 L346.2,301.9 L352.6,308.2 L344.1,310.3 L335.6,301.9Z M329.2,282.8 L337.7,282.8 L337.7,289.2 L330.3,289.2Z M314.4,299.8 L322.9,300.8 L331.4,308.2 L322.9,310.3 L316.5,306.1Z M316.5,325.2 L325.0,316.7 L335.6,312.5 L348.3,315.6 L354.7,323.1 L346.2,325.2 L335.6,325.2 L325.0,328.4Z M301.3,334.7 L305.5,331.5 L308.1,334.7 L303.8,342.1 L304.9,348.5 L301.3,347.4Z M315.5,334.7 L318.2,333.2 L320.3,343.2 L335.6,345.3 L336.7,348.9 L323.3,348.9 L317.2,345.9Z M261.9,331.1 L271.0,329.4 L272.5,333.7 L267.4,339.6 L263.1,348.5 L261.0,343.8Z M262.5,337.9 L269.9,333.7 L268.9,340.0 L263.6,344.2Z M250.9,381.3 L256.8,379.8 L263.6,386.2 L267.4,393.4 L264.0,404.0 L245.6,404.0 L252.5,393.4Z M382.2,350.6 L394.9,346.4 L401.3,350.6 L403.4,363.3 L409.8,376.0 L422.5,384.5 L435.2,388.7 L447.9,395.1 L454.3,404.0 L399.2,404.0 L386.5,384.5 L378.0,371.8 L375.9,361.2Z M379.0,361.2 L388.6,361.2 L392.8,367.6 L399.2,378.2 L407.6,384.5 L420.4,390.9 L433.1,393.0 L441.5,397.2 L443.7,404.0 L411.9,404.0 L403.4,395.1 L394.9,384.5 L386.5,378.2 L380.1,369.7Z M364.2,398.9 L370.6,393.4 L377.6,388.3 L382.6,394.7 L384.3,404.0 L361.0,404.0Z M391.8,306.1 L398.7,302.9 L406.6,308.2 L401.3,312.5 L394.9,311.4Z"/>
</g>
<g clip-path="url(#tc23)">
<rect x="200" y="404" width="350" height="189" fill="#000"/>
<path fill="#fff" d="M407.6,423.1 L450.0,422.0 L451.1,539.6 L433.1,522.7 L424.6,514.2 L411.9,522.7 L403.4,514.2 L394.9,509.9 L386.5,503.6 L375.9,497.2 L371.6,488.8 L375.9,480.3 L386.5,473.9 L397.1,463.3 L403.4,450.6 L409.8,435.8Z"/>
<path fill="#000" d="M411.9,446.4 L416.1,444.3 L424.6,473.9 L420.4,476.0Z M428.8,442.1 L433.1,440.0 L441.5,467.6 L437.3,469.7Z M390.7,484.5 L394.9,482.4 L407.6,505.7 L403.4,507.8Z M433.1,484.5 L437.3,484.5 L443.7,509.9 L439.4,509.9Z M416.1,488.8 L420.4,488.8 L428.8,514.2 L424.6,514.2Z M399.2,467.6 L403.4,465.4 L411.9,484.5 L408.7,486.6Z"/>
<path fill="#fff" d="M453.2,473.9 L467.0,467.6 L475.4,476.0 L488.2,488.8 L486.0,503.6 L475.4,514.2 L486.0,526.9 L496.6,535.4 L481.8,541.7 L464.9,539.6 L453.2,531.1Z M500.9,422.0 L550.0,422.0 L550.0,490.9 L539.0,493.0 L526.3,486.6 L517.8,488.8 L511.5,497.2 L505.1,512.1 L500.9,524.8 L496.6,531.1 L494.5,518.4 L498.8,503.6 L505.1,488.8 L503.0,473.9 L505.1,463.3 L503.0,446.4Z M327.1,503.6 L335.6,509.9 L346.2,522.7 L356.8,535.4 L361.0,552.3 L367.4,569.3 L361.0,573.5 L352.6,560.8 L346.2,548.1 L337.7,535.4 L331.4,522.7 L327.1,514.2Z"/>
<path fill="#646464" d="M293.2,423.1 L325.0,423.1 L325.0,467.6 L310.2,471.8 L299.6,457.0 L293.2,437.9Z"/>
<path fill="#fff" d="M293.2,404.0 L318.7,404.0 L314.4,414.6 L301.7,412.5Z M335.6,422.0 L346.2,423.1 L344.1,429.4 L335.6,428.4Z M301.7,452.7 L314.4,448.5 L316.5,457.0 L305.9,459.1Z M390.7,404.0 L411.9,404.0 L409.8,416.7 L394.9,414.6Z M422.5,412.9 L450.0,412.5 L450.0,417.1 L424.6,416.7Z M454.3,404.0 L513.6,404.0 L513.6,417.8 L454.3,417.8Z M513.6,404.0 L550.0,404.0 L550.0,423.1 L513.6,423.1Z"/>
<path fill="#000" d="M240.3,423.1 L272.0,423.1 L276.3,433.7 L269.9,446.4 L261.4,454.9 L250.9,463.3 L242.4,459.1 L238.1,442.1Z M248.7,427.3 L263.6,425.2 L267.8,435.8 L257.2,446.4 L249.8,440.0Z M348.3,423.1 L373.7,423.1 L390.7,433.7 L403.4,446.4 L399.2,459.1 L386.5,467.6 L369.5,471.8 L356.8,463.3 L348.3,446.4 L335.6,450.6 L331.4,442.1 L344.1,433.7Z M365.3,431.5 L382.2,433.7 L390.7,446.4 L380.1,457.0 L367.4,450.6Z M331.4,457.0 L344.1,446.4 L348.3,433.7 L361.0,431.5 L365.3,446.4 L369.5,461.2 L378.0,467.6 L369.5,476.0 L361.0,484.5 L356.8,495.1 L346.2,497.2 L339.8,488.8 L335.6,476.0 L329.2,467.6Z M352.6,431.5 L358.9,429.4 L365.3,450.6 L361.0,459.1 L356.8,446.4Z M250.9,465.4 L263.6,454.9 L274.2,444.3 L284.8,444.3 L291.1,459.1 L299.6,476.0 L310.2,497.2 L320.8,518.4 L331.4,535.4 L344.1,556.6 L352.6,573.5 L356.8,593.0 L293.2,593.0 L289.0,565.0 L280.5,552.3 L274.2,531.1 L263.6,518.4 L253.0,503.6 L246.6,488.8 L248.7,473.9Z M255.1,488.8 L263.6,484.5 L272.0,501.5 L280.5,522.7 L284.8,543.8 L276.3,539.6 L263.6,514.2Z M274.2,448.5 L282.6,446.4 L286.9,459.1 L291.1,471.8 L299.6,493.0 L308.1,509.9 L318.7,526.9 L329.2,543.8 L339.8,560.8 L348.3,577.7 L350.4,593.0 L318.7,593.0 L312.3,573.5 L301.7,556.6 L291.1,535.4 L282.6,514.2 L274.2,497.2 L269.9,478.2 L269.9,461.2Z M284.8,484.5 L293.2,488.8 L301.7,505.7 L310.2,522.7 L305.9,526.9 L295.3,514.2 L286.9,499.3Z M272.0,463.3 L280.5,459.1 L284.8,473.9 L276.3,484.5 L271.0,476.0Z M314.4,539.6 L327.1,548.1 L337.7,565.0 L346.2,593.0 L327.1,593.0 L318.7,565.0Z M284.8,516.3 L293.2,514.2 L297.5,520.5 L291.1,526.9 L284.8,524.8Z M356.8,503.6 L369.5,514.2 L382.2,522.7 L394.9,522.7 L407.6,529.0 L420.4,522.7 L433.1,531.1 L451.1,541.7 L451.1,552.3 L433.1,556.6 L411.9,552.3 L390.7,548.1 L378.0,539.6 L365.3,522.7Z M367.4,548.1 L382.2,552.3 L403.4,571.4 L428.8,593.0 L361.0,593.0 L365.3,573.5Z M378.0,543.8 L390.7,550.2 L411.9,554.4 L433.1,558.7 L451.1,554.4 L451.1,569.3 L439.4,573.5 L433.1,593.0 L428.8,593.0 L403.4,569.3 L386.5,552.3Z M428.8,558.7 L439.4,552.3 L447.9,560.8 L447.9,573.5 L437.3,575.6 L431.0,569.3Z M371.6,556.6 L382.2,560.8 L390.7,573.5 L401.3,586.2 L403.4,593.0 L373.7,593.0 L369.5,573.5Z M384.3,556.6 L388.6,558.7 L392.8,571.4 L401.3,584.1 L406.6,593.0 L402.3,593.0 L396.0,584.1 L389.6,573.5Z M454.3,433.7 L467.0,427.3 L481.8,429.4 L496.6,435.8 L503.0,450.6 L500.9,467.6 L492.4,473.9 L483.9,467.6 L473.3,463.3 L462.7,465.4 L454.3,471.8Z M467.0,437.9 L479.7,435.8 L481.8,452.7 L471.2,459.1 L464.9,450.6Z M471.2,425.2 L483.9,425.2 L486.0,433.7 L475.4,435.8Z M475.4,476.0 L483.9,471.8 L492.4,476.0 L496.6,488.8 L492.4,501.5 L486.0,509.9 L477.6,514.2 L471.2,531.1 L462.7,531.1 L467.0,514.2 L475.4,501.5 L479.7,488.8Z M494.5,437.9 L503.0,429.4 L505.1,463.3 L500.9,476.0 L505.1,488.8 L498.8,503.6 L494.5,518.4 L490.3,503.6 L496.6,488.8 L494.5,473.9 L503.0,467.6Z M500.9,535.4 L509.3,514.2 L517.8,497.2 L530.5,488.8 L543.3,495.1 L550.0,493.0 L550.0,552.3 L454.3,552.3 L454.3,543.8 L475.4,546.0 L492.4,541.7Z M509.3,531.1 L517.8,509.9 L530.5,499.3 L543.3,501.5 L550.0,505.7 L550.0,543.8 L530.5,548.1 L513.6,546.0Z M513.6,522.7 L526.3,505.7 L539.0,503.6 L550.0,509.9 L550.0,531.1 L534.8,539.6 L517.8,539.6Z M454.3,553.4 L550.0,553.4 L550.0,593.0 L454.3,593.0Z M454.3,556.6 L481.8,556.6 L486.0,573.5 L475.4,593.0 L454.3,593.0Z M488.2,560.8 L496.6,556.6 L500.9,569.3 L492.4,573.5Z M530.5,565.0 L547.5,560.8 L550.0,573.5 L534.8,577.7Z M505.1,565.0 L522.1,560.8 L526.3,577.7 L511.5,582.0Z"/>
</g>
<g clip-path="url(#tc24)">
<rect x="550" y="404" width="150" height="189" fill="#fff"/>
<path fill="#000" d="M542.4,488.8 L556.8,488.8 L556.8,550.2 L542.4,550.2Z M556.8,488.8 L569.9,488.8 L578.4,497.2 L589.0,501.5 L584.8,512.1 L572.0,509.9 L567.8,518.4 L559.3,522.7 L556.8,518.4Z M558.3,493.0 L567.8,493.0 L572.0,503.6 L563.6,509.9 L558.3,505.7Z M639.8,482.4 L657.9,481.3 L656.8,488.8 L646.2,489.8Z M637.7,467.6 L644.1,471.8 L654.7,476.0 L656.8,482.4 L648.3,484.5 L639.8,480.3Z M634.5,455.9 L637.7,457.0 L638.8,467.6 L635.6,476.0 L633.5,467.6Z M633.5,512.1 L646.2,503.6 L651.5,502.5 L648.3,509.9 L637.7,514.2Z M635.6,512.1 L646.2,507.8 L650.4,503.6 L652.6,509.9 L648.3,520.5 L656.8,526.9 L667.4,533.2 L661.0,537.5 L652.6,535.4 L648.3,531.1 L644.1,522.7Z M646.2,531.1 L654.7,535.4 L652.6,539.6 L646.2,537.5Z M682.2,552.3 L684.3,533.2 L694.9,528.2 L705.1,530.3 L705.1,552.3Z M685.4,552.3 L687.5,536.4 L694.9,531.1 L704.5,533.2 L704.5,552.3Z M559.3,524.8 L565.7,522.7 L567.8,535.4 L561.4,539.6Z M578.4,539.6 L582.6,539.6 L583.7,548.1 L579.5,548.1Z M591.1,544.9 L595.3,544.9 L595.3,549.1 L591.1,549.1Z M642.0,531.1 L646.2,533.2 L648.3,543.8 L644.1,541.7Z M558.3,553.4 L589.0,553.4 L591.1,565.0 L584.8,579.9 L569.9,586.2 L559.3,584.1Z M561.4,556.6 L580.5,555.5 L582.6,569.3 L572.0,577.7 L562.5,573.5Z M580.5,565.0 L589.0,567.2 L586.9,575.6 L580.5,573.5Z M595.3,593.0 L599.6,584.1 L610.2,575.6 L618.7,577.7 L627.1,586.2 L637.7,590.5 L648.3,586.2 L661.0,588.3 L671.6,577.7 L678.0,565.0 L681.2,558.7 L682.2,593.0Z M610.2,571.4 L618.7,573.5 L622.9,582.0 L618.7,584.1 L612.3,577.7Z M661.0,593.0 L669.5,586.2 L678.0,579.9 L682.2,582.0 L682.2,593.0Z M682.6,550.2 L703.4,550.2 L703.4,593.0 L682.6,593.0Z M684.3,579.9 L700.0,573.5 L700.0,593.0 L684.3,593.0Z"/>
</g>
<g clip-path="url(#tc25)">
<rect x="290" y="540" width="350" height="189" fill="#000"/>
<path fill="#000" d="M290.0,540.0 L323.9,540.0 L319.7,552.7 L309.1,565.4 L302.7,582.4 L294.2,573.9 L290.0,565.4Z M323.9,571.8 L338.7,565.4 L351.4,582.4 L353.6,601.4 L343.0,603.6 L330.3,590.9Z M290.0,557.0 L298.5,569.7 L307.0,588.7 L315.4,609.9 L332.4,622.6 L349.3,629.0 L359.9,633.2 L353.6,624.8 L336.6,616.3 L323.9,603.6 L315.4,586.6 L307.0,569.7 L298.5,552.7 L290.0,546.4Z M302.7,582.4 L315.4,593.0 L326.0,605.7 L345.1,609.9 L359.9,620.5 L353.6,609.9 L336.6,603.6 L323.9,595.1 L311.2,578.1Z M337.7,540.0 L344.0,540.0 L353.6,567.5 L363.1,580.3 L357.8,583.4 L347.2,567.5Z"/>
<path fill="#fff" d="M343.0,540.0 L362.0,540.0 L366.3,565.4 L359.9,576.0 L351.4,561.2Z"/>
<path fill="#000" d="M317.5,609.9 L345.1,605.7 L370.5,609.9 L389.6,620.5 L400.2,633.2 L406.5,650.2 L408.7,667.1 L387.5,668.2 L381.1,654.4 L370.5,641.7 L359.9,633.2 L349.3,629.0 L332.4,622.6 L317.5,618.4Z M359.9,614.2 L374.8,614.2 L379.0,624.8 L366.3,624.8Z M391.7,637.5 L400.2,639.6 L402.3,662.9 L395.9,662.9Z M370.5,567.5 L391.7,552.7 L408.7,565.4 L421.4,582.4 L438.3,605.7 L442.6,624.8 L436.2,629.0 L425.6,616.3 L408.7,612.0 L395.9,603.6 L383.2,593.0 L370.5,582.4Z M381.1,590.9 L395.9,588.7 L404.4,599.3 L391.7,603.6Z M370.5,548.5 L389.6,544.2 L408.7,552.7 L425.6,561.2 L417.1,565.4 L400.2,559.1 L383.2,557.0Z M425.6,561.2 L438.3,552.7 L451.0,561.2 L451.0,573.9 L438.3,576.0 L427.7,569.7Z M383.2,557.0 L387.5,557.0 L393.8,576.0 L404.4,586.6 L406.5,591.9 L401.2,589.8 L391.7,580.3Z M340.2,609.9 L341.0,608.0 L343.0,607.2 L344.9,608.0 L345.7,609.9 L344.9,611.8 L343.0,612.7 L341.0,611.8Z M388.7,625.8 L389.8,623.4 L392.1,622.4 L394.5,623.4 L395.5,625.8 L394.5,628.2 L392.1,629.2 L389.8,628.2Z M414.6,571.8 L415.4,570.0 L417.1,569.2 L418.9,570.0 L419.7,571.8 L418.9,573.6 L417.1,574.3 L415.4,573.6Z M410.8,615.2 L423.5,614.2 L429.8,622.6 L442.6,620.5 L447.9,624.8 L442.6,633.2 L438.3,645.9 L436.2,658.7 L438.3,665.0 L408.7,667.1 L405.5,654.4 L398.1,633.2 L408.7,639.6 L419.2,645.9 L425.6,637.5 L419.2,626.9Z M415.0,652.3 L425.6,652.3 L423.5,658.7 L416.1,658.7Z M408.7,641.7 L417.1,645.9 L412.9,650.2 L406.5,648.1Z M429.8,658.7 L438.3,658.7 L438.3,664.0 L432.0,662.9Z M453.2,552.7 L480.7,552.7 L476.5,569.7 L468.0,586.6 L459.5,603.6 L451.0,603.6 L446.8,582.4 L453.2,576.0Z M438.3,629.0 L451.0,624.8 L465.9,624.8 L480.7,631.1 L501.9,639.6 L523.1,650.2 L544.3,667.1 L554.9,684.1 L554.9,701.0 L514.6,701.0 L436.2,671.4 L438.3,658.7 L436.2,645.9Z M451.0,603.6 L468.0,609.9 L484.9,624.8 L506.1,633.2 L527.3,645.9 L548.5,660.8 L554.9,675.6 L544.3,667.1 L523.1,650.2 L501.9,639.6 L480.7,631.1 L465.9,624.8 L451.0,624.8Z M444.7,609.9 L453.2,603.6 L459.5,614.2 L451.0,624.8 L442.6,622.6Z M438.3,667.1 L446.8,658.7 L459.5,654.4 L474.3,645.9 L484.9,637.5 L497.6,639.6 L506.1,648.1 L501.9,654.4 L489.2,658.7 L480.7,667.1 L476.5,679.8 L472.2,686.2Z M457.4,658.7 L465.9,658.7 L465.9,667.1 L457.4,667.1Z M489.2,641.7 L499.8,643.8 L497.6,650.2 L490.2,650.2Z M501.9,688.3 L523.1,675.6 L544.3,679.8 L554.9,688.3 L554.9,701.0 L514.6,701.0Z M480.7,609.9 L497.6,620.5 L514.6,633.2 L531.5,641.7 L544.3,650.2 L555.9,654.4 L555.9,667.1 L540.0,658.7 L523.1,650.2 L506.1,639.6 L489.2,629.0 L476.5,618.4Z M455.3,552.7 L555.9,552.7 L555.9,633.2 L544.3,637.5 L533.7,629.0 L523.1,620.5 L510.4,607.8 L497.6,595.1 L489.2,582.4 L476.5,573.9 L468.0,586.6 L459.5,582.4Z M501.9,561.2 L523.1,559.1 L544.3,565.4 L550.6,593.0 L540.0,609.9 L523.1,603.6 L510.4,586.6Z M506.1,576.0 L514.6,578.1 L527.3,595.1 L533.7,603.6 L527.3,603.6 L514.6,590.9Z M472.2,576.0 L484.9,578.1 L493.4,593.0 L484.9,603.6 L472.2,595.1Z M529.4,563.3 L542.1,561.2 L544.3,578.1 L535.8,586.6 L529.4,576.0Z M474.3,578.1 L480.7,578.1 L478.6,590.9 L474.3,588.7Z M489.6,587.0 L501.0,597.6 L511.6,610.3 L524.8,620.1 L520.1,626.4 L505.7,618.0 L493.8,605.3Z"/>
<path fill="#fff" d="M495.5,593.0 L501.9,593.0 L504.0,599.3 L497.6,599.3Z"/>
<path fill="#000" d="M541.1,623.7 L551.7,623.7 L551.7,636.4 L541.1,636.4Z"/>
<path fill="#fff" d="M543.6,626.2 L549.6,626.2 L549.6,633.9 L543.6,633.9Z"/>
<path fill="#000" d="M453.2,540.0 L555.9,540.0 L555.9,549.5 L453.2,549.5Z M480.7,540.0 L523.1,540.0 L518.8,549.5 L484.9,549.5Z M559.1,552.7 L640.0,552.7 L640.0,729.0 L559.1,729.0Z M559.1,552.7 L586.6,552.7 L603.6,565.4 L607.8,582.4 L595.1,590.9 L582.4,586.6 L571.8,586.6 L559.1,590.9Z M580.3,567.5 L588.8,565.4 L590.9,573.9 L582.4,576.0Z"/>
<path fill="#fff" d="M559.1,540.0 L640.0,540.0 L640.0,549.5 L559.1,549.5Z M607.8,565.4 L640.0,561.2 L640.0,582.4 L629.0,586.6 L616.3,582.4Z"/>
<path fill="#000" d="M559.9,593.0 L573.5,589.6 L586.2,599.3 L594.5,612.5 L590.9,628.6 L582.8,633.2 L574.3,641.3 L563.3,645.1 L559.9,633.7Z"/>
<path fill="#9c9c9c" d="M561.2,595.1 L572.9,591.9 L584.5,601.4 L591.9,613.1 L588.8,626.9 L581.3,631.1 L572.9,638.5 L564.4,641.7 L561.6,632.2Z"/>
<path fill="#000" d="M620.5,603.6 L640.0,599.3 L640.0,658.7 L629.0,667.1 L620.5,650.2Z M599.3,603.6 L612.1,599.3 L616.3,624.8 L607.8,650.2 L599.3,641.7Z M624.8,641.7 L631.1,641.7 L632.2,665.0 L625.8,665.0Z"/>
<path fill="#fff" d="M618.4,601.4 L624.8,601.4 L626.9,614.2 L620.5,614.2Z"/>
<path fill="#000" d="M622.7,623.7 L629.0,623.7 L629.0,630.1 L622.7,630.1Z M586.6,675.6 L607.8,667.1 L616.3,684.1 L595.1,688.3Z M607.8,684.1 L640.0,684.1 L640.0,729.0 L620.5,701.0Z"/>
</g>
<g clip-path="url(#tc26)">
<rect x="540" y="560" width="160" height="189" fill="#000"/>
<path fill="#000" d="M500.0,560.0 L555.1,560.0 L555.1,587.5 L546.6,581.2 L533.9,583.3 L525.4,572.7 L512.7,568.5 L500.0,572.7Z M500.0,572.7 L512.7,568.5 L525.4,572.7 L533.9,583.3 L546.6,581.2 L555.1,587.5 L555.1,623.6 L542.4,621.4 L525.4,610.9 L512.7,598.1 L500.0,587.5Z M504.2,577.0 L517.0,587.5 L527.5,602.4 L521.2,602.4 L510.6,591.8Z M529.7,562.1 L540.3,562.1 L538.1,570.6 L531.8,568.5Z M548.7,579.1 L555.1,581.2 L554.0,591.8 L549.8,589.7Z M500.0,592.2 L508.9,600.3 L521.6,612.5 L536.4,623.1 L551.3,629.5 L553.4,640.9 L542.4,644.8 L537.7,635.0 L522.5,624.4 L509.7,613.8 L500.0,604.9Z"/>
<path fill="#fff" d="M542.4,627.8 L550.9,629.9 L549.8,637.3 L543.4,636.3Z"/>
<path fill="#000" d="M500.0,608.7 L512.7,617.2 L525.4,627.8 L538.1,638.4 L542.4,649.0 L529.7,644.8 L517.0,636.3 L500.0,623.6Z M500.0,621.4 L514.8,634.2 L531.8,646.9 L548.7,655.3 L555.5,661.7 L555.5,670.2 L542.4,665.9 L525.4,655.3 L508.5,642.6 L500.0,634.2Z M500.0,632.0 L517.0,644.8 L533.9,655.3 L550.9,663.8 L555.1,678.7 L542.4,678.7 L521.2,661.7 L500.0,649.0Z M500.0,649.0 L517.0,661.7 L525.4,678.7 L512.7,695.6 L500.0,693.5Z M521.2,661.7 L542.4,678.7 L555.1,678.7 L555.1,698.8 L512.7,698.8 L525.4,680.8Z M558.3,560.0 L589.0,560.0 L593.2,574.8 L584.8,583.3 L569.9,583.3 L558.3,589.7Z M561.4,562.1 L580.5,562.1 L582.6,574.8 L572.0,581.2 L562.5,577.0Z M665.3,579.1 L675.9,566.4 L682.2,566.4 L682.2,583.3 L669.5,587.5Z M590.1,572.7 L605.9,591.8 L615.5,583.3 L625.4,593.9 L637.7,591.8 L648.3,587.5 L661.0,583.3 L671.6,574.8 L680.1,568.5 L682.2,581.2 L667.4,591.8 L652.6,596.0 L639.8,601.3 L625.0,603.4 L615.5,593.9 L605.9,602.4 L589.0,589.7Z"/>
<path fill="#fff" d="M589.0,560.0 L593.2,578.6 L605.7,584.8 L615.1,575.7 L625.9,586.5 L636.7,584.8 L642.8,578.6 L652.1,577.2 L661.5,578.6 L670.8,571.0 L675.9,560.0Z"/>
<path fill="#808080" d="M592.2,574.8 L605.7,581.2 L615.1,572.3 L625.9,582.9 L636.7,581.2 L642.8,575.3 L652.1,573.8 L661.5,575.3 L669.5,568.5 L672.7,572.7 L662.1,582.2 L652.1,580.8 L644.1,582.2 L637.3,588.6 L625.4,590.1 L615.5,579.5 L605.9,588.6 L592.4,582.2Z"/>
<path fill="#000" d="M599.6,581.2 L605.9,586.5 L615.5,578.0 L625.4,588.6 L637.3,587.1 L646.2,581.2 L648.3,586.5 L637.7,591.8 L625.0,592.8 L615.5,583.3 L605.9,591.8 L597.5,586.5Z M559.3,589.2 L571.6,585.0 L591.5,589.2 L597.5,598.6 L593.2,612.5 L595.3,629.5 L590.3,642.6 L584.3,653.2 L574.6,654.9 L564.4,646.4 L559.8,629.5Z"/>
<path fill="#9c9c9c" d="M560.4,591.8 L569.9,585.4 L589.0,589.7 L595.3,598.1 L591.1,610.9 L584.8,617.2 L593.2,627.8 L589.0,638.4 L580.5,642.6 L569.9,636.3 L563.6,623.6 L560.4,610.9Z"/>
<path fill="#000" d="M561.4,659.6 L574.2,663.8 L586.9,661.7 L593.2,651.1 L599.6,634.2 L605.9,640.5 L599.6,659.6 L589.0,670.2 L572.0,672.3 L563.6,668.1Z M595.3,613.0 L605.9,623.6 L614.4,649.0 L618.7,670.2 L610.2,682.9 L599.6,665.9 L593.2,644.8Z M605.9,596.0 L618.7,591.8 L631.4,598.1 L639.8,606.6 L644.1,623.6 L639.8,640.5 L631.4,649.0 L618.7,644.8 L610.2,627.8 L605.9,613.0Z M610.2,596.0 L618.7,593.9 L627.1,602.4 L629.2,615.1 L622.9,623.6 L616.5,615.1 L612.3,604.5Z"/>
<path fill="#fff" d="M618.7,601.3 L624.0,601.3 L626.1,615.1 L620.8,616.1Z"/>
<path fill="#000" d="M624.0,622.5 L631.4,623.6 L630.3,629.9 L625.0,628.9Z M624.0,642.6 L632.4,643.7 L634.5,665.9 L626.1,667.0Z M646.2,585.4 L665.3,581.2 L682.2,585.4 L682.2,629.9 L669.5,623.6 L656.8,606.6 L648.3,596.0Z M639.8,629.9 L656.8,613.0 L669.5,623.6 L682.2,632.0 L682.2,684.0 L648.3,684.0 L644.1,657.5Z M648.3,644.8 L661.0,636.3 L669.5,649.0 L682.2,657.5 L682.2,674.4 L669.5,670.2 L656.8,665.9 L648.3,657.5Z M652.6,670.2 L665.3,663.8 L682.2,674.4 L682.2,684.0 L652.6,684.0Z M559.3,674.4 L605.9,674.4 L608.1,685.0 L574.2,689.2 L574.2,699.8 L557.2,699.8Z M684.3,566.4 L703.4,566.4 L703.4,581.2 L684.3,589.7Z M684.3,589.7 L703.4,581.2 L703.4,623.6 L684.3,629.9Z M684.3,629.9 L703.4,623.6 L703.4,644.8 L684.3,649.0Z M684.3,649.0 L703.4,644.8 L703.4,653.2 L684.3,659.6Z M684.3,659.6 L703.4,653.2 L703.4,665.9 L684.3,674.4Z M684.3,674.4 L703.4,665.9 L703.4,749.0 L684.3,749.0Z M608.1,685.0 L700.0,685.0 L700.0,749.0 L648.3,749.0Z M614.4,687.1 L631.4,687.1 L648.3,697.7 L656.8,712.6 L669.5,721.0 L682.2,727.4 L669.5,735.9 L656.8,729.5 L648.3,716.8 L635.6,704.1 L622.9,695.6Z M627.1,689.2 L644.1,699.8 L652.6,712.6 L646.2,712.6 L635.6,702.0Z M655.7,714.7 L664.2,714.7 L665.3,725.3 L656.8,727.4Z M652.6,740.1 L669.5,738.0 L686.5,729.5 L700.0,725.3 L700.0,749.0 L652.6,749.0Z M656.8,746.5 L700.0,738.0 L700.0,749.0Z"/>
</g>
<g clip-path="url(#tc27)">
<rect x="550" y="749" width="150" height="143" fill="#000"/>
<path fill="#000" d="M613.6,703.0 L702.6,703.0 L702.6,745.4 L677.1,751.7 L655.9,745.4 L634.8,736.9 L619.9,720.0Z M630.5,724.2 L643.2,728.4 L660.2,745.4 L672.9,758.1 L664.4,766.6 L651.7,758.1 L639.0,745.4Z M649.6,736.9 L658.1,736.9 L660.2,749.6 L651.7,751.7Z M645.3,772.9 L668.7,766.6 L685.6,768.7 L702.6,766.6 L702.6,787.8 L668.7,792.0 L649.6,787.8Z M649.6,787.8 L668.7,783.5 L702.6,779.3 L702.6,808.9 L655.9,808.9Z M660.2,802.6 L668.7,796.2 L675.0,800.5 L677.1,813.2 L664.4,813.2Z"/>
</g>
<g clip-path="url(#tc28)">
<rect x="452" y="421" width="248" height="131" fill="#fff"/>
<path fill="#000" d="M490.4,425.1 L498.9,426.8 L500.5,440.2 L503.1,457.0 L498.9,465.4 L496.3,448.6 L493.8,435.2Z M455.1,436.9 L461.9,430.1 L472.0,425.1 L482.0,426.8 L490.4,431.8 L497.2,441.9 L498.9,455.4 L493.8,465.4 L487.1,462.1 L480.4,470.5 L473.6,465.4 L466.9,468.8 L458.5,468.8 L455.1,457.0Z M472.0,425.9 L483.7,426.8 L482.0,435.2 L473.6,433.5Z M456.8,440.2 L470.3,438.5 L473.6,453.7 L463.5,462.1 L456.8,457.0Z"/>
<path fill="#fff" d="M468.6,467.1 L478.7,467.1 L480.4,473.9 L470.3,475.5Z"/>
<path fill="#000" d="M455.1,472.2 L465.2,470.5 L470.3,478.9 L466.9,492.4 L470.3,505.8 L466.9,519.3 L460.2,526.0 L455.1,515.9 L456.8,495.7Z"/>
<path fill="#fff" d="M461.9,478.9 L466.9,482.3 L465.2,502.4 L460.2,499.1Z"/>
<path fill="#000" d="M478.7,475.5 L490.4,472.2 L497.2,482.3 L490.4,495.7 L483.7,509.2 L477.0,522.6 L470.3,532.7 L465.2,531.0 L473.6,515.9 L480.4,499.1 L482.0,485.6Z M482.0,480.6 L488.8,478.9 L490.4,487.3 L483.7,502.4 L478.7,515.9 L473.6,522.6 L478.7,505.8 L482.0,490.7Z M515.7,480.6 L519.0,478.9 L520.7,485.6 L517.4,485.6Z M520.7,470.5 L530.8,472.2 L534.2,478.9 L530.8,478.9 L524.1,473.9Z M510.6,505.8 L519.0,502.4 L524.1,492.4 L534.2,490.7 L540.9,497.4 L549.3,492.4 L556.0,490.7 L556.0,547.8 L498.9,547.8 L503.9,532.7 L510.6,526.0 L514.0,515.9Z M534.2,529.3 L544.3,526.0 L549.3,532.7 L540.9,536.1Z M519.0,509.2 L527.4,499.1 L537.5,499.1 L547.6,495.7 L554.3,495.7 L554.3,519.3 L544.3,524.3 L534.2,522.6 L527.4,529.3 L519.0,524.3Z M520.7,492.4 L530.8,489.0 L534.2,494.0 L525.8,499.1 L520.7,499.1Z M530.8,504.1 L535.9,504.1 L539.2,512.5 L544.3,509.2 L545.9,514.2 L540.9,522.6 L535.9,519.3 L532.5,512.5Z M517.4,531.0 L527.4,526.0 L534.2,529.3 L540.9,534.4 L556.0,541.1 L556.0,548.7 L503.9,548.7 L510.6,539.4Z M520.7,536.1 L529.1,531.0 L534.2,536.1 L530.8,542.8 L540.9,541.1 L547.6,544.5 L540.9,548.7 L519.0,548.7Z M540.9,536.1 L549.3,539.4 L547.6,544.5 L542.6,542.8Z M453.5,542.8 L495.5,542.8 L500.5,549.5 L453.5,549.5Z M454.3,532.7 L463.5,531.0 L473.6,539.4 L463.5,544.5 L454.3,542.8Z M559.4,489.0 L571.2,489.0 L579.6,492.4 L586.3,502.4 L581.3,510.9 L572.8,507.5 L569.5,515.9 L561.1,519.3 L559.4,509.2Z M560.2,494.0 L567.8,494.0 L571.2,502.4 L564.4,505.8 L560.2,502.4Z M559.4,524.3 L564.4,526.0 L564.4,539.4 L559.4,539.4Z M579.6,539.4 L582.9,539.4 L582.9,544.5 L579.6,544.5Z M589.7,544.5 L594.7,544.5 L594.7,547.8 L589.7,547.8Z M634.2,455.4 L637.6,456.2 L638.4,465.4 L635.1,472.2 L633.4,463.8Z M640.1,531.0 L644.3,532.7 L646.8,544.5 L641.8,542.8Z M641.8,480.6 L657.8,480.6 L656.9,489.0 L645.2,490.7Z M638.4,468.8 L648.5,472.2 L656.9,478.9 L656.9,482.3 L641.8,482.3 L637.6,475.5Z M633.4,512.5 L644.3,505.8 L652.7,502.4 L651.0,509.2 L638.4,515.9Z M635.1,514.2 L645.2,510.9 L650.2,505.8 L651.9,515.9 L650.2,524.3 L658.6,527.7 L665.3,531.0 L662.0,536.1 L651.9,534.4 L646.8,531.0 L641.8,524.3Z M641.8,531.0 L650.2,536.1 L648.5,542.8 L641.8,539.4Z M672.1,549.5 L678.8,542.8 L683.8,536.1 L682.2,549.5Z M682.2,549.5 L683.8,536.1 L692.2,531.0 L700.0,531.0 L700.0,549.5Z M641.0,418.4 L648.5,417.5 L649.4,423.4 L642.6,423.4Z"/>
</g>
<g clip-path="url(#tc29)">
<rect x="300" y="421" width="152" height="144" fill="#fff"/>
<path fill="#000" d="M300.0,421.7 L325.2,421.7 L325.2,499.1 L333.6,509.2 L342.0,522.6 L355.5,546.2 L363.9,565.0 L347.1,565.0 L338.7,546.2 L326.9,526.0 L318.5,509.2 L310.1,492.4 L300.0,482.3Z M300.0,482.3 L310.1,492.4 L318.5,509.2 L326.9,526.0 L338.7,546.2 L347.1,565.0 L340.4,565.0 L333.6,549.5 L321.9,532.7 L310.1,509.2 L300.0,494.0Z M300.0,494.0 L310.1,509.2 L321.9,532.7 L333.6,549.5 L340.4,565.0 L300.0,565.0Z M300.0,502.4 L306.7,509.2 L308.4,522.6 L300.0,522.6Z M300.0,532.7 L313.5,539.4 L323.5,552.9 L326.9,565.0 L300.0,565.0Z M325.2,498.2 L404.3,566.3 L362.2,566.3 L355.5,546.2 L342.0,522.6 L333.6,509.2 L325.2,499.9Z M355.5,542.8 L370.6,539.4 L394.2,559.6 L399.2,566.3 L363.9,566.3Z"/>
<path fill="#fff" d="M326.9,504.1 L332.8,506.6 L341.2,517.9 L349.6,531.0 L356.3,544.5 L362.6,559.6 L365.2,566.3 L358.5,566.3 L352.5,549.5 L345.7,536.4 L337.3,523.0 L328.9,512.9Z M301.7,452.0 L308.4,450.3 L310.1,457.0 L303.4,458.7Z M310.1,447.0 L315.1,447.0 L315.1,451.2 L310.1,451.2Z"/>
<path fill="#000" d="M300.0,465.4 L310.1,463.8 L316.8,470.5 L306.7,472.2Z M326.9,422.6 L407.6,422.6 L404.3,440.2 L394.2,457.0 L375.7,470.5 L372.3,485.6 L374.0,502.4 L380.7,512.5 L394.2,515.9 L404.3,522.6 L394.2,532.7 L380.7,536.1 L367.3,532.7 L350.4,522.6 L326.9,499.1Z M348.8,423.4 L372.3,422.6 L387.4,431.8 L400.9,441.9 L404.3,453.7 L394.2,458.7 L384.1,470.5 L374.0,468.8 L367.3,457.0 L355.5,448.6 L347.1,435.2Z M367.3,435.2 L384.1,436.9 L394.2,448.6 L387.4,458.7 L374.0,453.7Z M372.3,425.1 L379.0,425.1 L375.7,438.5 L370.6,436.9Z M328.6,457.0 L338.7,452.0 L343.7,440.2 L352.1,431.8 L362.2,433.5 L363.9,445.3 L367.3,458.7 L374.0,465.4 L377.4,472.2 L367.3,478.9 L360.5,489.0 L353.8,495.7 L343.7,499.1 L338.7,489.0 L332.0,478.9 L328.6,468.8Z M355.5,433.5 L361.4,432.7 L364.7,453.7 L368.9,465.4 L364.7,465.4 L358.9,452.0Z M338.7,457.0 L350.4,455.4 L353.8,465.4 L342.0,467.1Z M345.4,470.5 L348.8,470.5 L355.5,485.6 L352.1,487.3Z"/>
<path fill="#fff" d="M335.3,423.4 L342.0,424.2 L341.2,430.1 L336.2,429.3Z M407.6,422.6 L449.7,422.6 L449.7,524.3 L439.6,515.9 L427.8,509.2 L417.7,515.9 L404.3,522.6 L394.2,515.9 L380.7,512.5 L374.0,502.4 L372.3,485.6 L375.7,470.5 L394.2,457.0 L404.3,440.2Z"/>
<path fill="#000" d="M417.7,443.6 L420.7,442.7 L416.7,458.7 L413.7,459.1Z M432.8,448.6 L435.9,448.6 L431.8,465.4 L428.8,465.4Z M407.6,458.7 L411.0,457.9 L401.6,477.2 L398.5,477.2Z M424.4,465.4 L427.5,465.4 L421.1,482.3 L418.0,482.3Z M394.2,478.9 L397.5,478.1 L389.8,495.7 L386.4,495.7Z M411.0,482.3 L414.0,482.3 L408.5,499.1 L405.4,499.1Z M439.6,470.5 L442.6,470.5 L438.7,487.3 L435.7,487.3Z M429.5,489.0 L432.5,489.0 L427.0,505.8 L423.9,505.8Z M380.7,482.3 L384.1,481.4 L379.7,499.1 L376.3,499.1Z M444.6,495.7 L446.6,495.7 L443.8,509.2 L441.8,509.2Z M400.9,499.1 L402.9,499.1 L399.2,510.9 L397.2,510.9Z M442.9,431.8 L445.0,431.8 L442.1,445.3 L440.1,445.3Z M421.1,428.5 L423.6,428.5 L421.9,438.5 L419.7,438.5Z M355.5,515.9 L367.3,522.6 L380.7,515.9 L394.2,519.3 L404.3,526.0 L417.7,519.3 L427.8,512.5 L439.6,519.3 L449.7,526.0 L449.7,551.2 L434.5,547.8 L417.7,551.2 L400.9,547.8 L384.1,541.1 L370.6,541.1 L360.5,529.3Z M400.9,529.3 L414.3,522.6 L421.1,532.7 L407.6,536.1Z M427.8,519.3 L439.6,524.3 L437.9,532.7 L427.8,529.3Z M394.2,514.2 L400.9,512.5 L407.6,522.6 L402.6,526.0Z M417.7,509.2 L422.8,505.8 L429.5,512.5 L424.4,517.6Z M370.6,536.1 L384.1,536.1 L400.9,542.8 L417.7,546.2 L434.5,542.8 L449.7,546.2 L449.7,565.0 L400.9,565.0 L387.4,549.5Z M400.9,549.5 L417.7,549.5 L431.2,552.9 L427.8,565.0 L407.6,565.0Z M432.8,549.5 L442.9,547.8 L449.7,552.9 L449.7,565.0 L434.5,565.0Z M374.0,549.5 L384.1,554.6 L394.2,565.0 L377.4,565.0Z M384.1,556.3 L389.1,557.9 L392.5,565.0 L387.4,565.0Z"/>
</g>
</g></mask>
<rect x="180" y="180" width="1340" height="712" fill="#4d4d4d" mask="url(#gm)"/>
</g>
<path fill="#4d4d4d" d="M974.5,264.1 L979.6,260.7 L988.0,257.4 L991.7,257.0 L988.8,261.2 L981.3,265.1 L975.9,267.1Z"/>
<path fill="#4d4d4d" d="M1087.2,312.2 L1095.9,311.7 L1096.6,316.2 L1092.2,316.9 L1088.0,315.9Z"/>
<path fill="#ff84e0" d="M334.4,651.5 L335.7,649.5 L338.2,649.9 L339.1,652.2 L337.4,653.9 L335.2,653.5Z"/>
<path fill="#85200c" d="M346.2,644.2 L347.8,644.2 L347.8,646.1 L346.2,646.1Z"/>
<path fill="#cc9288" d="M355.7,645.4 L357.9,644.5 L362.0,647.4 L362.6,649.9 L360.0,649.1 L357.0,647.4Z"/>
<path fill="#b36c5f" d="M355.2,656.6 L357.3,656.2 L360.6,660.2 L361.6,663.6 L359.3,662.9 L356.6,659.6Z"/>
<path fill="#ff84e0" d="M316.9,629.3 L325.0,630.0 L325.7,633.3 L320.9,634.0 L317.6,632.0Z"/>
<path fill="#88d4f0" d="M317.6,630.0 L323.6,630.6 L323.6,631.6 L318.0,631.0Z"/>
<path fill="#ffb0d8" d="M327.7,628.9 L336.4,629.3 L336.8,631.3 L328.3,631.0Z"/>
<path fill="none" stroke="#ccff00" stroke-width="2.6" stroke-dasharray="5 4 9 3 3 5" d="M1106.1,878.4 L1117.8,879.3 L1130.5,878.9 L1141.1,876.7 L1149.6,873.8 L1157.0,870.0 L1162.7,864.5 L1165.5,858.7"/>
<g fill="none" stroke="#000" stroke-width="3.4" stroke-linejoin="round" stroke-linecap="round">
<path stroke-width="3.8" d="M267.5,235.5 L849.5,235.4 L849.2,235.5 L849.2,226.4 L857.7,226.4 L860.2,240.2 L865.2,242.7 L873.6,244.4 L879.5,247.8 L885.4,245.3 L892.1,244.4 L898.9,246.1 L904.7,249.5 L908.1,255.4 L912.3,252.0 L918.2,254.5 L924.1,258.7 L929.1,260.1 L934.2,257.0 L940.1,255.0 L944.3,257.9 L954.3,258.4 L960.2,260.4 L969.5,261.7 L961.1,265.4 L951.0,269.7 L940.9,274.7 L934.2,279.7 L927.4,284.8 L919.0,289.8 L909.8,296.6 L917.4,294.0 L927.4,292.4 L935.9,290.7 L940.9,289.0 L941.2,293.2 L939.2,297.4 L944.3,295.7 L949.3,297.4 L957.7,294.0 L964.4,291.5 L972.8,288.2 L979.6,283.9 L986.3,280.6 L993.0,276.4 L999.8,274.7 L1006.5,275.5 L1007.3,278.1 L1001.4,281.4 L994.7,286.5 L990.5,290.7 L991.3,294.0 L995.5,289.0 L1001.4,289.8 L1008.2,292.4 L1011.5,296.6 L1014.9,299.9 L1021.6,301.6 L1026.7,300.8 L1031.7,299.1 L1038.4,296.6 L1046.8,295.4 L1056.9,294.0 L1064.5,294.0 L1064.5,299.9 L1070.4,302.4 L1078.8,302.1 L1080.5,306.6 L1082.2,310.9 L1087.2,315.1 L1078.8,315.9 L1072.1,314.2 L1067.9,316.7 L1063.7,314.2 L1056.9,312.5 L1048.5,312.2 L1040.1,315.1 L1035.1,315.9 L1031.7,320.1 L1026.7,317.6 L1022.5,315.9 L1020.8,320.1 L1016.6,327.7 L1011.5,334.4 L1007.3,340.3 L1004.0,345.3 L999.8,350.4 L998.1,354.2 L1004.0,351.5 L1009.8,344.8 L1016.6,336.4 L1022.5,329.7 L1025.8,324.3 L1024.1,332.7 L1019.9,339.4 L1015.7,347.8 L1012.4,356.3 L1010.7,365.0 L1015.2,345.2 L1011.9,353.6 L1010.2,363.7 L1006.8,375.5 L1005.1,387.3 L1006.0,399.0 L1006.8,407.4 L1008.5,414.2 L1010.2,420.9 L1012.7,427.6 L1019.4,429.3 L1026.2,426.8 L1031.2,422.6 L1034.6,415.9 L1037.1,407.4 L1037.9,397.4 L1036.2,387.3 L1034.6,378.9 L1031.2,370.4 L1032.0,363.7 L1035.4,353.6 L1038.8,345.2 L1045.5,339.3 L1050.5,336.0 L1053.9,341.9 L1056.4,336.8 L1057.3,331.8 L1062.3,326.7 L1064.0,321.7 L1060.3,327.7 L1062.0,322.6 L1067.0,318.4 L1073.7,320.1 L1082.2,324.3 L1090.6,327.7 L1097.3,331.0 L1085.9,326.7 L1094.3,330.1 L1099.3,335.1 L1101.0,340.2 L1099.3,346.9 L1100.1,355.3 L1097.6,360.4 L1092.6,364.6 L1087.5,368.8 L1086.7,373.8 L1090.9,376.3 L1095.9,372.1 L1101.0,367.1 L1107.7,365.1 L1112.8,367.1 L1115.3,373.8 L1116.1,383.9 L1117.8,392.3 L1117.0,399.0 L1114.4,404.1 L1111.9,404.1 L1109.4,407.4 L1106.0,410.8 L1104.3,415.9 L1101.8,420.9 L1097.6,425.1 L1106.0,432.7 L1111.1,434.3 L1117.8,435.2 L1124.5,432.7 L1132.9,431.0 L1141.3,427.6 L1149.8,423.4 L1158.2,420.9 L1166.6,418.4 L1175.0,414.2 L1183.4,407.4 L1191.0,400.7 L1191.8,395.7 L1189.3,390.6 L1190.1,385.6 L1196.8,383.9 L1208.6,383.1 L1218.7,384.7 L1228.8,383.9 L1238.9,381.4 L1245.6,378.9 L1230.0,383.8 L1238.4,381.3 L1246.8,378.8 L1248.5,372.0 L1245.1,366.2 L1246.8,362.0 L1255.2,356.9 L1262.0,349.3 L1268.7,344.3 L1275.4,340.9 L1307.4,340.9 L1347.7,340.1 L1349.4,334.2 L1354.4,331.7 L1358.6,330.0 L1358.7,331.1 L1364.8,326.5 L1367.8,319.0 L1372.4,309.9 L1376.9,300.8 L1379.9,293.2 L1386.0,285.7 L1392.0,278.1 L1397.5,275.1 L1401.1,281.1 L1408.7,278.1 L1417.8,277.2 L1426.8,284.2 L1428.4,300.8 L1428.4,319.0 L1432.9,323.5 L1435.9,331.1 L1440.5,337.1 L1443.5,341.7 L1443.6,346.0 L1438.5,349.3 L1431.8,350.2 L1426.7,354.4 L1420.0,356.9 L1415.0,355.2 L1409.9,360.3 L1404.9,355.2 L1399.8,360.3 L1396.5,366.2 L1389.8,367.8 L1383.0,373.7 L1378.0,372.9 L1374.6,377.9 L1371.3,382.1 L1367.9,387.2 L1364.5,391.4 L1363.7,394.7 L1362.0,400.6 L1365.4,404.0 L1361.2,409.0 L1359.5,412.4 L1362.8,415.8 L1366.2,420.8 L1370.4,423.3 L1374.6,419.1 L1377.1,416.6 L1381.3,419.1 L1382.2,427.5 L1379.7,430.9 L1374.6,429.2 L1369.6,429.2 L1370.4,433.4 L1364.5,435.1 L1361.2,437.6 L1357.8,434.3 L1354.4,432.6 L1351.1,434.3 L1347.7,437.6 L1341.0,439.3 L1330.9,441.0 L1320.8,442.7 L1310.7,445.2 L1302.3,447.7 L1298.9,451.1 L1297.3,459.5 L1296.4,464.5 L1294.7,472.9 L1293.9,480.0 L1296.7,463.5 L1295.9,473.6 L1291.7,483.7 L1285.0,492.1 L1278.3,498.9 L1274.9,501.4 L1271.5,497.2 L1266.5,490.4 L1263.1,485.4 L1264.0,480.4 L1266.5,490.4 L1271.5,498.9 L1274.0,507.3 L1273.2,515.7 L1269.8,524.1 L1264.0,531.6 L1259.8,539.2 L1254.7,547.6 L1252.2,549.3 L1251.3,540.9 L1248.0,530.8 L1247.1,520.7 L1248.8,510.6 L1246.3,500.5 L1244.6,492.1 L1249.7,487.1 L1256.4,481.2 L1246.3,487.1 L1239.6,492.1 L1242.9,500.5 L1241.3,510.6 L1242.9,519.0 L1246.3,530.8 L1244.6,534.2 L1248.0,540.9 L1246.3,547.6 L1252.2,551.8 L1254.7,554.3 L1257.2,562.8 L1259.8,572.8 L1262.3,582.9 L1264.0,590.0 L1261.9,576.2 L1264.9,585.3 L1261.9,597.4 L1246.7,609.5 L1237.7,615.6 L1225.6,618.6 L1219.5,624.6 L1215.0,632.2 L1207.4,633.7 L1198.3,633.7 L1192.3,639.8 L1184.7,648.9 L1180.2,657.9 L1171.1,665.5 L1160.5,673.1 L1152.9,679.1 L1148.4,685.2 L1143.8,694.3 L1139.3,706.4 L1143.8,691.6 L1139.2,703.7 L1138.6,718.9 L1142.3,734.0 L1146.8,749.1 L1151.3,764.3 L1155.9,776.4 L1160.4,791.5 L1165.0,803.6 L1168.0,818.7 L1168.0,833.9 L1165.9,849.0 L1163.5,856.6 L1160.4,861.1 L1152.9,864.2 L1145.3,862.6 L1140.8,853.6 L1134.7,844.5 L1128.6,833.9 L1124.1,824.8 L1118.0,815.7 L1113.5,803.6 L1116.5,794.5 L1109.0,791.5 L1112.0,779.4 L1112.0,767.3 L1107.5,756.7 L1099.9,746.1 L1090.8,738.5 L1081.7,735.5 L1072.6,737.0 L1065.1,741.6 L1054.5,743.1 L1051.5,735.5 L1045.4,729.5 L1036.3,726.4 L1034.3,726.4 L1022.2,721.9 L1010.1,720.4 L998.0,724.9 L979.8,724.9 L972.3,729.5 L969.2,738.5 L973.8,747.6 L978.3,756.7 L972.3,762.8 L963.2,752.2 L952.6,758.2 L940.5,759.7 L928.4,749.1 L920.8,743.1 L910.2,746.1 L895.1,741.6 L879.9,740.0 L864.8,744.6 L852.7,750.6 L840.6,758.2 L828.5,767.3 L816.4,774.9 L808.8,782.4 L802.7,793.0 L798.2,803.6 L799.7,815.7 L802.7,827.8 L807.3,841.5 L801.2,844.5 L789.1,839.9 L780.0,835.4 L767.9,830.9 L764.9,823.3 L758.9,812.7 L758.9,803.6 L752.8,797.6 L745.2,785.5 L737.7,770.3 L731.6,758.2 L724.0,746.1 L716.5,741.6 L707.4,740.0 L695.3,741.6 L689.2,746.1 L684.7,755.2 L681.7,763.7 L675.6,762.8 L668.0,758.2 L659.0,750.6 L651.4,743.1 L648.4,729.5 L642.3,720.4 L633.2,712.8 L622.6,702.2 L615.1,693.1 L609.0,685.6 L609.9,690.1 L574.5,690.1 L574.5,702.0 L514.3,702.0 L435.5,671.4 L436.6,664.9 L386.9,669.0 L384.2,662.2 L382.8,655.5 L377.4,647.4 L370.7,640.7 L365.3,636.7 L360.0,635.3 L357.3,630.0 L350.5,628.6 L343.8,625.2 L338.4,620.5 L330.4,618.5 L320.9,617.8 L314.2,615.2 L312.9,608.4 L312.2,600.4 L308.2,593.6 L302.1,585.6 L295.4,577.5 L290.0,570.1 L288.3,570.0 L287.0,567.0 L285.6,561.7 L288.3,559.0 L286.3,554.9 L279.6,550.9 L275.5,546.9 L274.2,541.5 L275.5,534.8 L279.6,538.8 L285.0,539.5 L282.3,537.4 L278.2,530.7 L280.9,523.3 L274.2,521.3 L274.2,529.4 L268.8,526.7 L263.4,524.0 L264.8,518.6 L259.4,511.9 L254.0,506.5 L248.6,500.4 L247.3,495.7 L245.3,489.0 L245.3,482.3 L243.9,475.6 L239.2,468.8 L233.8,463.5 L233.2,458.1 L236.5,450.0 L234.5,455.0 L236.5,449.3 L239.2,441.3 L240.6,433.2 L238.5,426.5 L237.2,419.8 L235.9,417.1 L233.2,410.3 L232.5,402.3 L229.8,397.6 L230.5,394.2 L233.8,386.1 L237.2,375.4 L239.9,361.9 L241.9,348.5 L243.3,335.0 L241.9,327.2 L242.6,319.2 L242.6,311.1 L245.3,306.4 L241.9,304.4 L241.9,298.3 L246.6,296.3 L241.9,295.0 L241.2,290.9 L246.6,288.2 L239.9,285.5 L237.2,278.8 L234.5,271.4 L232.5,266.7 L228.5,262.0 L226.8,258.0 L226.4,251.9 L228.5,250.6 L235.2,253.9 L243.3,256.6 L255.4,257.3 L262.1,258.4 L266.8,261.1 L268.1,265.4 L265.4,270.1 L261.4,274.1 L260.1,279.5 L262.1,285.5 L265.4,288.2 L269.5,286.6 L274.9,283.5 L278.2,278.1 L278.9,271.4 L278.0,265.4 L280.9,261.3 L277.6,255.3 L274.2,251.2 L276.2,247.2 L276.2,242.5 L272.8,239.8 L268.1,238.5Z"/>
<path d="M1298.9,451.9 L1310.7,447.7 L1324.2,444.3 L1334.3,442.7 L1341.0,444.3 L1334.3,447.7 L1324.2,451.1 L1314.1,455.3 L1304.0,457.8 L1297.3,459.5Z"/>
<path d="M388.5,235.4 L388.5,310.6 M388.5,309.8 L388.5,313.1 L393.9,315.1 L400.0,319.2 L401.3,323.2 L399.3,331.3 L395.9,339.3 L393.9,345.0 M396.6,335.0 L392.6,341.7 L387.9,348.5 L384.5,353.8 L385.2,359.9 L389.9,361.9 L389.2,367.3 L388.7,420.2 M245.3,306.4 L254.0,307.1 L260.7,309.1 L265.4,313.1 L267.5,319.2 L268.8,323.9 L274.2,325.9 L278.2,326.2 L285.0,323.2 L293.0,322.1 L301.1,325.2 L309.2,323.2 L317.2,321.2 L326.7,318.5 L336.1,316.2 L346.8,314.5 L357.6,313.8 L369.7,313.5 L388.5,313.1 M237.7,420.2 L514.7,420.2 M326.2,420.2 L326.2,499.5 L438.7,601.7 M451.4,560.0 L451.4,572.1 L450.1,576.1 L444.7,578.2 L439.3,574.8 L437.3,577.5 L438.0,586.9 L438.7,600.4 L442.0,608.4 L446.1,616.5 L449.4,623.2 L444.7,630.0 L442.0,636.7 L438.7,643.4 L437.3,651.5 L440.7,655.5 L442.0,660.9 L436.6,664.9 M451.7,420.2 L451.7,552.3 L451.4,560.0 M451.7,552.3 L684.2,552.3 L860.7,552.3 M514.7,341.0 L514.7,446.6 M514.7,446.6 L704.2,446.6 M514.7,341.0 L662.1,341.0 M662.1,235.4 L662.1,446.6 M556.8,446.6 L556.8,702.0 M704.2,446.6 L704.2,552.3 M704.2,473.1 L846.4,473.1 M684.2,552.3 L684.2,684.3 L608.0,684.3 M684.2,565.5 L747.4,565.5 L747.4,616.7 M662.1,316.2 L819.8,316.2 M662.1,393.8 L779.0,393.8 M409.4,235.4 L409.8,259.5 L414.0,268.0 L418.2,274.3 L424.6,277.5 L431.0,284.9 L439.4,293.4 L446.8,296.6 L445.8,304.0 L441.3,310.1 L440.4,318.5 L441.3,325.2 L446.3,328.6 L451.3,323.5 L454.7,321.9 L458.1,328.6 L461.4,335.3 L463.1,340.4 L468.2,345.4 L471.5,348.8 L473.2,353.8 L476.6,358.0 L481.6,354.7 L488.3,354.7 L495.1,353.0 L501.8,352.1 L506.0,347.9 L508.5,347.1 L511.0,351.3 L513.9,354.1 M805.9,235.1 L808.9,249.3 L810.4,264.5 L815.0,279.6 L815.9,294.8 L818.0,306.9 L819.5,315.9 L815.0,323.5 L822.5,329.6 L823.1,343.2 L823.1,379.5 L819.5,382.5 L821.0,391.6 L819.5,399.2 M823.1,380.1 L930.0,380.1 M777.1,393.1 L783.2,396.2 L789.2,400.7 L798.3,397.7 L807.4,399.2 L815.0,402.2 L819.5,399.2 L824.0,409.8 L828.6,421.9 L831.6,434.0 L834.6,446.1 L839.2,456.7 L843.7,467.3 L848.3,473.9 L851.3,476.3 L855.8,480.9 L849.8,482.4 L852.8,489.9 L861.9,496.0 M860.7,496.8 L860.7,565.5 L864.7,594.5 L863.6,641.0 L872.9,643.4 L872.9,657.4 M839.2,456.7 L922.4,456.7 L927.0,462.7 L925.4,470.3 M909.8,296.6 L908.9,312.5 L900.5,316.7 L896.3,322.6 L897.2,327.7 L902.2,329.3 L898.9,336.1 L899.7,346.2 L907.3,351.2 L914.0,354.6 L920.7,361.3 L907.3,352.3 L916.4,358.3 L925.4,367.4 L931.5,375.0 L933.0,380.1 L936.0,391.6 L940.6,403.7 L948.2,409.8 L954.2,415.8 L955.1,421.9 L949.7,431.0 L940.6,434.0 L936.0,438.5 L939.1,449.1 L931.5,456.7 L927.0,462.7 L925.4,470.3 L927.0,456.6 L928.5,470.3 L936.0,482.4 L942.1,494.5 L948.2,502.1 L954.2,509.0 L949.7,518.7 L958.7,527.8 L966.3,535.3 L969.3,544.4 L975.4,552.3 L970.9,558.0 L964.8,564.1 L961.8,576.2 L958.7,588.3 L955.7,597.4 L952.7,605.0 L946.6,615.6 L942.1,623.1 L938.4,622.0 L934.4,637.1 L935.9,652.3 L934.4,667.4 L937.4,679.5 L929.9,690.1 L923.8,703.7 L925.3,709.8 L963.2,709.8 L966.2,721.9 L969.2,732.5 M949.3,297.4 L954.3,302.4 L957.7,305.8 L967.8,308.3 L979.6,311.7 L986.3,314.2 L996.4,315.9 L999.8,320.9 L1004.0,324.3 L1004.0,331.0 L1008.2,332.7 L1006.5,342.8 M949.7,406.7 L1005.7,406.7 M1010.0,428.2 L1010.0,491.5 L1011.7,494.5 L1008.7,506.6 L1002.6,518.7 L998.1,529.3 M1017.0,426.6 L1067.3,426.6 L1095.9,427.4 M1067.3,426.6 L1067.3,496.8 M975.4,552.3 L979.9,547.5 L989.0,542.9 L996.6,530.8 L998.1,529.3 L1013.2,526.3 L1028.4,524.8 L1040.5,521.7 L1049.6,515.7 L1057.1,508.1 L1061.7,500.5 L1068.6,496.0 L1076.8,499.0 L1085.9,503.6 L1098.0,508.1 L1107.1,505.1 L1111.6,512.6 L1100.0,507.3 L1106.7,504.7 L1110.1,507.3 L1116.8,514.0 L1121.9,507.3 L1125.2,499.7 L1131.1,498.0 L1133.6,490.4 L1140.4,487.1 L1150.4,478.7 L1154.7,469.4 L1157.2,456.0 L1157.2,440.0 M1157.6,421.0 L1157.6,480.4 L1257.3,480.4 M1116.8,514.0 L1113.5,520.7 L1118.5,530.8 L1125.2,538.4 L1129.4,544.3 L1133.6,546.8 L1140.4,544.3 L1148.8,540.9 L1157.2,541.7 L1163.9,539.2 L1167.3,534.2 L1174.0,524.1 L1175.7,515.7 L1179.0,510.6 L1184.1,512.3 L1189.1,505.6 L1194.2,502.2 L1200.9,495.5 L1204.3,488.8 L1210.1,489.6 L1217.7,492.1 L1224.4,495.5 L1232.8,500.5 L1232.8,505.6 L1227.8,508.9 L1225.3,514.0 L1232.8,515.7 L1239.6,522.4 L1246.3,530.8 M1180.7,480.4 L1180.7,489.6 L1187.4,485.4 L1194.2,483.7 L1200.9,485.4 L1207.6,482.0 L1214.3,483.7 L1217.7,492.1 M1133.6,546.8 L1125.2,551.0 L1115.1,556.0 L1105.0,560.2 L1091.3,562.8 M964.8,564.1 L998.1,563.5 L998.1,559.9 L1091.3,562.8 L1133.2,563.1 L1254.9,564.2 M861.9,564.1 L954.2,564.1 L958.7,570.2 L949.7,578.3 L961.8,578.3 M951.7,605.1 L1103.1,605.1 M995.9,605.1 L990.2,687.0 L991.7,726.1 M1050.7,605.1 L1059.5,661.6 L1063.3,676.4 L1062.2,696.2 L1063.3,710.7 L1066.2,718.7 L1122.3,722.1 L1122.3,727.6 L1126.5,727.6 L1126.5,717.3 L1138.1,718.1 M1008.5,710.7 L1063.3,710.7 M1007.1,709.8 L1011.6,721.9 M872.9,657.4 L933.4,657.9 M873.3,656.8 L873.9,679.5 L879.9,694.6 L883.0,709.8 L881.4,724.9 L876.9,737.0 L878.4,740.7 M747.4,616.7 L755.9,618.6 L765.0,623.1 L777.1,626.2 L789.2,632.2 L801.3,633.7 L813.5,633.7 L825.6,638.3 L837.7,635.2 L849.8,636.7 L861.9,639.8 L866.4,641.3 L863.6,641.0 M1131.7,564.1 L1125.7,573.2 L1110.5,582.3 L1095.4,591.3 L1080.3,597.4 L1075.7,605.0 M1099.9,605.0 L1110.5,598.9 L1146.9,598.9 L1152.9,608.0 L1177.1,609.5 L1198.3,633.7 M1099.9,605.0 L1104.5,618.6 L1119.6,633.7 L1130.2,648.9 L1137.8,664.0 L1143.8,679.1 L1148.4,685.2 M1266.2,419.6 L1272.0,425.9 L1275.4,432.6 L1280.4,437.6 L1275.4,444.3 L1270.4,451.1 L1274.9,455.1 L1280.8,465.2 L1276.6,469.4 L1269.8,473.6 L1264.0,477.8 L1258.1,479.5 M1173.6,413.1 L1173.6,420.2 L1266.5,420.2 M1280.4,437.6 L1298.1,447.7 M1307.4,340.9 L1309.0,351.9 L1306.5,363.6 L1308.2,375.4 L1310.7,385.5 L1311.6,398.9 L1309.0,417.4 L1306.5,430.9 L1304.0,444.3 L1299.8,450.2 M1347.7,340.1 L1344.3,351.9 L1335.9,360.3 L1332.6,372.0 L1329.2,383.8 L1326.7,393.9 L1325.0,398.9 M1311.6,398.9 L1354.4,398.9 L1359.5,396.4 L1363.7,394.7 M1309.0,418.8 L1351.1,420.0 L1351.9,427.5 L1354.4,432.6 M1343.0,420.0 L1343.0,438.5 M1358.6,330.0 L1359.5,346.8 L1360.3,363.6 L1361.2,380.4 L1363.7,392.2 M1258.9,479.5 L1258.9,514.8 L1272.4,514.8 M1239.6,492.1 L1236.5,498.0 L1242.6,500.9 L1238.2,506.4 L1242.3,510.6 L1234.5,516.0 L1243.3,519.4 L1237.1,526.1 L1245.0,530.8 L1239.2,536.7 L1247.3,540.9 L1243.3,547.6 L1251.3,551.0 M1249.7,487.1 L1247.0,495.5 L1251.0,503.9 L1248.7,512.3 L1251.3,520.7 L1249.3,530.8 L1252.2,540.9 M1234.5,514.0 L1229.5,516.5 L1235.4,519.0 M1237.9,529.1 L1231.2,527.4 L1234.5,532.5 M1252.3,543.2 L1243.9,546.4 L1250.2,551.7 L1241.8,555.9 M1241.8,568.6 L1238.6,575.0 L1247.1,578.1 L1240.7,584.5 L1250.2,589.8 L1236.5,592.5 L1243.9,598.3 L1234.3,602.5 L1240.7,607.4 L1229.0,611.6 M1253.8,570.7 L1257.2,582.4 L1253.0,594.0 L1258.7,593.0 M820.8,770.8 L827.1,766.6 L822.9,775.0 L831.4,768.7 M793.2,804.7 L799.6,802.6 L797.5,808.9 M810.2,781.4 L815.5,777.2 L813.4,784.6 M950.0,728.4 L960.6,730.5 L954.3,736.9 L967.0,734.8 L962.7,743.3 L973.3,745.4 L969.1,753.9 L977.6,758.1 L973.3,763.4 M911.9,742.2 L918.2,739.0 L922.5,744.3 L916.1,745.4"/>
</g>
<path fill="#000" stroke="#000" stroke-width="1.5" stroke-linejoin="round" d="M1020.8,315.9 L1031.7,316.7 L1030.9,322.6 L1025.0,320.9 L1021.6,322.6Z M1049.4,335.2 L1056.1,333.6 L1056.9,342.8 L1053.6,348.7 L1049.4,346.2Z M939.2,289.8 L947.6,286.5 L950.1,289.8 L945.1,294.0 L940.9,294.0Z M260.4,243.6 L267.8,241.5 L275.2,244.7 L274.2,251.0 L263.6,251.0Z M271.0,241.5 L276.7,242.5 L277.3,252.1 L280.5,260.6 L278.8,269.0 L274.6,274.3 L276.7,281.1 L273.5,286.0 L266.1,288.7 L261.0,283.9 L261.0,274.8 L267.4,269.0 L270.6,262.0 L269.5,255.7 L273.1,253.1Z M1364.5,435.6 L1369.6,434.6 L1370.4,439.0 L1365.4,440.1Z M1374.6,436.3 L1381.3,436.8 L1381.8,441.3 L1376.3,441.0Z M1374.3,417.4 L1378.0,415.8 L1382.2,419.1 L1383.0,426.7 L1380.5,430.9 L1378.8,426.7 L1379.7,420.8 L1376.3,420.0Z M274.2,521.0 L281.2,523.3 L278.5,530.7 L282.5,537.4 L285.2,539.9 L279.3,539.1 L275.3,534.8 L273.9,529.4Z M851.5,740.1 L857.9,738.0 L861.0,743.3 L856.8,750.7 L852.6,748.6Z M996.6,715.7 L1000.9,713.6 L1003.0,726.3 L998.8,727.4Z M1108.3,787.8 L1117.8,788.8 L1118.9,796.2 L1111.4,797.3 L1108.3,793.1Z M1119.9,817.4 L1126.3,817.4 L1127.3,823.8 L1122.0,824.8Z M1143.2,857.7 L1150.6,858.7 L1149.6,866.2 L1144.3,865.1Z"/>
<path fill="#fff" d="M266.1,274.3 L271.0,273.3 L271.6,278.6 L267.4,279.6Z M272.0,245.7 L274.6,245.7 L274.6,250.0 L272.5,250.0Z"/>
<text class="lt" x="1487" y="337.4">Earliest date</text>
<text class="lt" x="1487" y="365.2">of 3rd gen. egg</text>
<text class="lt" x="1487" y="393.2">hatch</text>
<rect x="1487.2" y="407.00" width="25.0" height="25.77" fill="#4d4d4d"/>
<text class="lab" x="1522.8" y="426.9">excl.-sev.</text>
<rect x="1487.2" y="432.47" width="25.0" height="25.77" fill="#ccff00"/>
<text class="lab" x="1522.8" y="452.4">Apr-12</text>
<rect x="1487.2" y="457.94" width="25.0" height="25.77" fill="#a3ee00"/>
<text class="lab" x="1522.8" y="477.8">Apr-19</text>
<rect x="1487.2" y="483.41" width="25.0" height="25.77" fill="#7add0a"/>
<text class="lab" x="1522.8" y="503.3">Apr-26</text>
<rect x="1487.2" y="508.88" width="25.0" height="25.77" fill="#ffff00"/>
<text class="lab" x="1522.8" y="528.8">May-03</text>
<rect x="1487.2" y="534.35" width="25.0" height="25.77" fill="#dfd700"/>
<text class="lab" x="1522.8" y="554.2">May-10</text>
<rect x="1487.2" y="559.82" width="25.0" height="25.77" fill="#beae00"/>
<text class="lab" x="1522.8" y="579.7">May-17</text>
<rect x="1487.2" y="585.29" width="25.0" height="25.77" fill="#9d8508"/>
<text class="lab" x="1522.8" y="605.2">May-24</text>
<rect x="1487.2" y="610.76" width="25.0" height="25.77" fill="#7c5c0a"/>
<text class="lab" x="1522.8" y="630.7">May-31</text>
<rect x="1487.2" y="636.23" width="25.0" height="25.77" fill="#fed68c"/>
<text class="lab" x="1522.8" y="656.1">Jun-07</text>
<rect x="1487.2" y="661.70" width="25.0" height="25.77" fill="#febf6e"/>
<text class="lab" x="1522.8" y="681.6">Jun-14</text>
<rect x="1487.2" y="687.17" width="25.0" height="25.77" fill="#fea951"/>
<text class="lab" x="1522.8" y="707.1">Jun-21</text>
<rect x="1487.2" y="712.64" width="25.0" height="25.77" fill="#fe9333"/>
<text class="lab" x="1522.8" y="732.5">Jun-28</text>
<rect x="1487.2" y="738.11" width="25.0" height="25.77" fill="#f4cccc"/>
<text class="lab" x="1522.8" y="758.0">Jul-05</text>
<rect x="1487.2" y="763.58" width="25.0" height="25.77" fill="#f59999"/>
<text class="lab" x="1522.8" y="783.5">Jul-12</text>
<rect x="1635.2" y="407.00" width="25.0" height="25.77" fill="#f76666"/>
<text class="lab" x="1670.7" y="426.9">Jul-19</text>
<rect x="1635.2" y="432.47" width="25.0" height="25.77" fill="#f93333"/>
<text class="lab" x="1670.7" y="452.4">Jul-26</text>
<rect x="1635.2" y="457.94" width="25.0" height="25.77" fill="#e6b8af"/>
<text class="lab" x="1670.7" y="477.8">Aug-02</text>
<rect x="1635.2" y="483.41" width="25.0" height="25.77" fill="#cc9288"/>
<text class="lab" x="1670.7" y="503.3">Aug-09</text>
<rect x="1635.2" y="508.88" width="25.0" height="25.77" fill="#b36c5f"/>
<text class="lab" x="1670.7" y="528.8">Aug-16</text>
<rect x="1635.2" y="534.35" width="25.0" height="25.77" fill="#994634"/>
<text class="lab" x="1670.7" y="554.2">Aug-23</text>
<rect x="1635.2" y="559.82" width="25.0" height="25.77" fill="#85200c"/>
<text class="lab" x="1670.7" y="579.7">Aug-30</text>
<rect x="1635.2" y="585.29" width="25.0" height="25.77" fill="#ffb0d8"/>
<text class="lab" x="1670.7" y="605.2">Sep-06</text>
<rect x="1635.2" y="610.76" width="25.0" height="25.77" fill="#ff84e0"/>
<text class="lab" x="1670.7" y="630.7">Sep-13</text>
<rect x="1635.2" y="636.23" width="25.0" height="25.77" fill="#ff58e8"/>
<text class="lab" x="1670.7" y="656.1">Sep-20</text>
<rect x="1635.2" y="661.70" width="25.0" height="25.77" fill="#ff2cf0"/>
<text class="lab" x="1670.7" y="681.6">Sep-27</text>
<rect x="1635.2" y="687.17" width="25.0" height="25.77" fill="#e1bee7"/>
<text class="lab" x="1670.7" y="707.1">Oct-04</text>
<rect x="1635.2" y="712.64" width="25.0" height="25.77" fill="#cb96d7"/>
<text class="lab" x="1670.7" y="732.5">Oct-11</text>
<rect x="1635.2" y="738.11" width="25.0" height="25.77" fill="#b56fc8"/>
<text class="lab" x="1670.7" y="758.0">Oct-18</text>
<rect x="1635.2" y="763.58" width="25.0" height="25.77" fill="#9f48b8"/>
<text class="lab" x="1670.7" y="783.5">Oct-25</text>
<rect x="1759.4" y="407.00" width="25.5" height="25.77" fill="#b3ecff"/>
<text class="lab" x="1796.3" y="426.9">Nov-01</text>
<rect x="1759.4" y="432.47" width="25.5" height="25.77" fill="#88d4f0"/>
<text class="lab" x="1796.3" y="452.4">Nov-08</text>
<rect x="1759.4" y="457.94" width="25.5" height="25.77" fill="#5dbce6"/>
<text class="lab" x="1796.3" y="477.8">Nov-15</text>
<rect x="1759.4" y="483.41" width="25.5" height="25.77" fill="#2ea4da"/>
<text class="lab" x="1796.3" y="503.3">Nov-22</text>
<rect x="1759.4" y="508.88" width="25.5" height="25.77" fill="#038dcf"/>
<text class="lab" x="1796.3" y="528.8">Nov-29</text>
<rect x="1759.4" y="534.35" width="25.5" height="25.77" fill="#a4c2e6"/>
<text class="lab" x="1796.3" y="554.2">Dec-06</text>
<rect x="1759.4" y="559.82" width="25.5" height="25.77" fill="#7b91e8"/>
<text class="lab" x="1796.3" y="579.7">Dec-13</text>
<rect x="1759.4" y="585.29" width="25.5" height="25.77" fill="#5261f2"/>
<text class="lab" x="1796.3" y="605.2">Dec-21</text>
<rect x="1759.4" y="610.76" width="25.5" height="25.77" fill="#2a31f8"/>
<text class="lab" x="1796.3" y="630.7">Dec-27</text>
</svg>
</body></html>
